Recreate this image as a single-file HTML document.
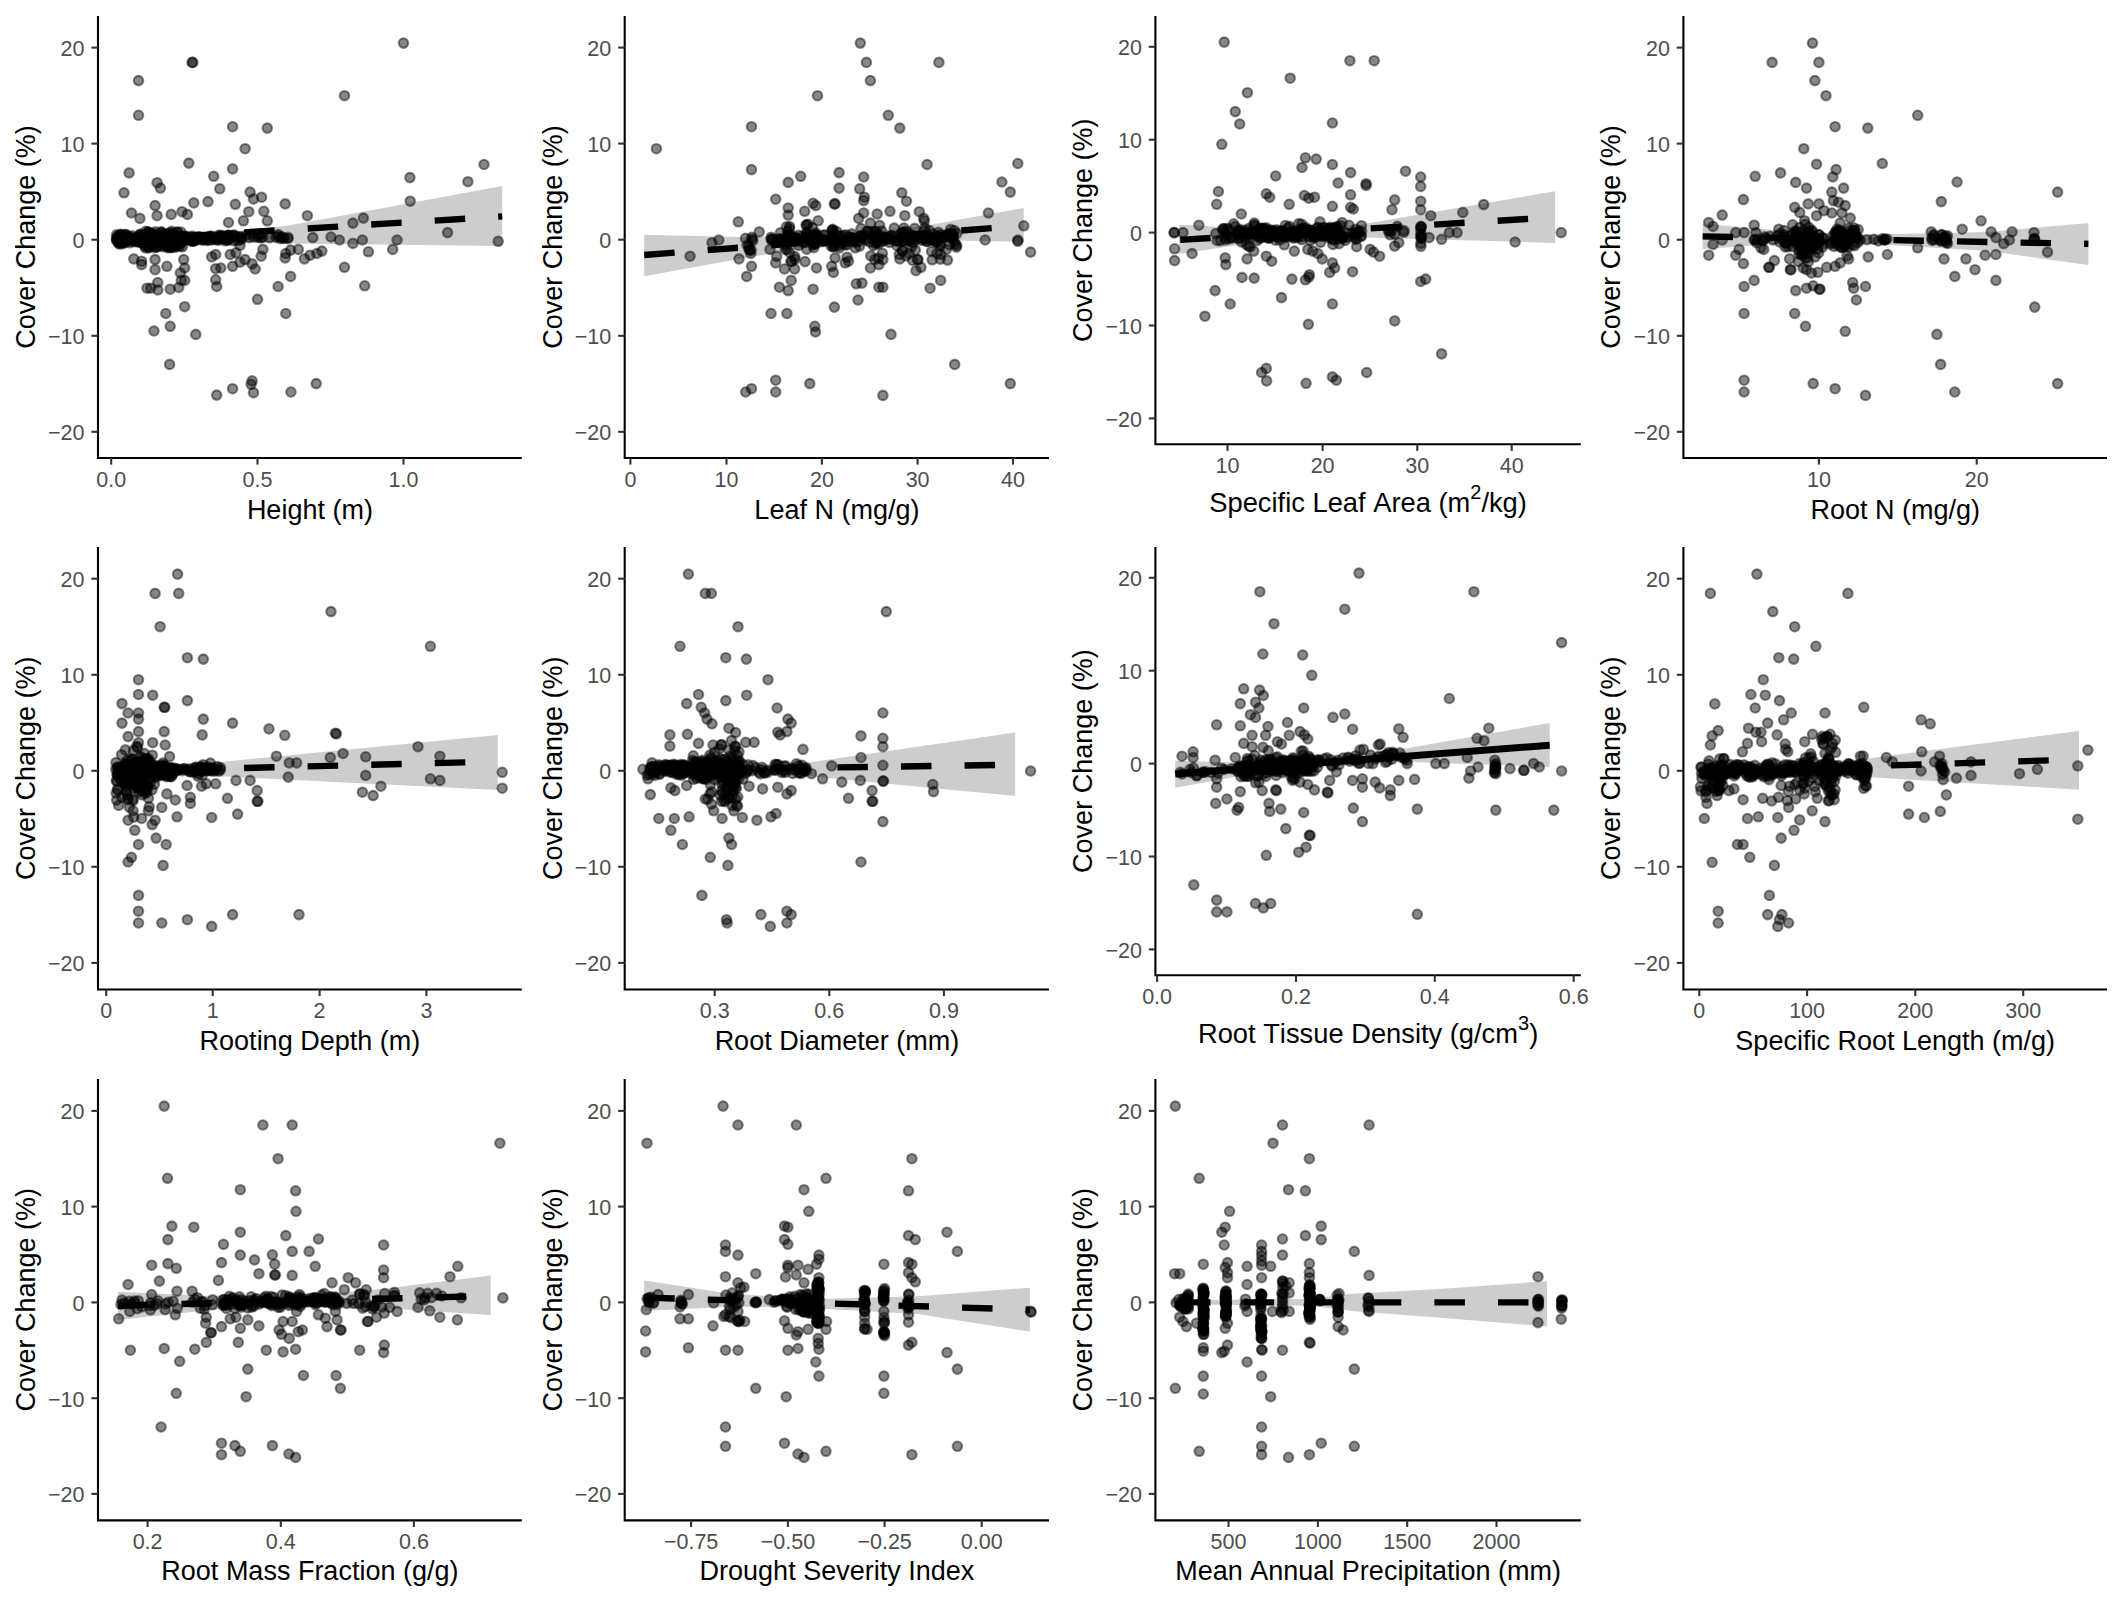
<!DOCTYPE html>
<html lang="en"><head><meta charset="utf-8"><title>Cover change vs traits</title>
<style>html,body{margin:0;padding:0;background:#fff}body{width:2124px;height:1602px;overflow:hidden}svg{display:block}text{font-family:"Liberation Sans", sans-serif;font-kerning:none}.tk{font-size:21.5px;fill:#4d4d4d}.tt{font-size:27px;fill:#000}.sup{font-size:20px}.ax{stroke:#000;stroke-width:2.1;fill:none}.tkm{stroke:#333;stroke-width:2.1}.rb{fill:#cdcdcd}.ln{stroke:#000;stroke-width:6.4;fill:none}.p circle{fill:#000;fill-opacity:.47;stroke:#000;stroke-opacity:.45;stroke-width:2.1}</style></head><body>
<svg width="2124" height="1602" viewBox="0 0 2124 1602">
<rect width="2124" height="1602" fill="#fff"/>
<g id="panel1">
<polygon class="rb" points="116.3,238 202.2,235.6 289.9,225.2 502.2,186.1 502.2,246.1 289.9,243.4 202.2,241.3 116.3,242.7"/>
<g class="p"><circle cx="403.5" cy="43.1" r="4.75"/><circle cx="192.8" cy="62.4" r="4.75"/><circle cx="192.1" cy="62.4" r="4.75"/><circle cx="138.5" cy="80.6" r="4.75"/><circle cx="138.5" cy="115.3" r="4.75"/><circle cx="344.5" cy="95.7" r="4.75"/><circle cx="232.6" cy="126.7" r="4.75"/><circle cx="267.3" cy="128.1" r="4.75"/><circle cx="245.1" cy="148.7" r="4.75"/><circle cx="188.8" cy="163.1" r="4.75"/><circle cx="232.6" cy="168.9" r="4.75"/><circle cx="129.1" cy="172.9" r="4.75"/><circle cx="213.7" cy="176.3" r="4.75"/><circle cx="157.1" cy="182.7" r="4.75"/><circle cx="160.4" cy="188.1" r="4.75"/><circle cx="219.8" cy="188.8" r="4.75"/><circle cx="124" cy="192.8" r="4.75"/><circle cx="250.1" cy="192.1" r="4.75"/><circle cx="253.5" cy="198.9" r="4.75"/><circle cx="261.6" cy="197.2" r="4.75"/><circle cx="193.8" cy="202.9" r="4.75"/><circle cx="208" cy="201.6" r="4.75"/><circle cx="235.3" cy="204.3" r="4.75"/><circle cx="285.2" cy="203.9" r="4.75"/><circle cx="248.8" cy="211.7" r="4.75"/><circle cx="263.9" cy="211.3" r="4.75"/><circle cx="131.5" cy="213" r="4.75"/><circle cx="139.9" cy="218.4" r="4.75"/><circle cx="171.2" cy="214.4" r="4.75"/><circle cx="182" cy="211.7" r="4.75"/><circle cx="187.4" cy="214.4" r="4.75"/><circle cx="155.1" cy="205.6" r="4.75"/><circle cx="157.1" cy="215.7" r="4.75"/><circle cx="307.4" cy="215.7" r="4.75"/><circle cx="267.3" cy="220.8" r="4.75"/><circle cx="228.5" cy="222.5" r="4.75"/><circle cx="243.4" cy="220.8" r="4.75"/><circle cx="363.4" cy="218.1" r="4.75"/><circle cx="352.9" cy="223.1" r="4.75"/><circle cx="484" cy="164.5" r="4.75"/><circle cx="467.9" cy="181.7" r="4.75"/><circle cx="409.9" cy="177.6" r="4.75"/><circle cx="410.2" cy="201.2" r="4.75"/><circle cx="447.6" cy="232.6" r="4.75"/><circle cx="498.2" cy="241.3" r="4.75"/><circle cx="397.1" cy="240" r="4.75"/><circle cx="392.7" cy="249.4" r="4.75"/><circle cx="362.4" cy="240" r="4.75"/><circle cx="352.9" cy="243.4" r="4.75"/><circle cx="368.4" cy="251.8" r="4.75"/><circle cx="339.4" cy="240" r="4.75"/><circle cx="331" cy="237" r="4.75"/><circle cx="312.8" cy="237.6" r="4.75"/><circle cx="344.5" cy="267.3" r="4.75"/><circle cx="364.7" cy="285.8" r="4.75"/><circle cx="321.9" cy="251.1" r="4.75"/><circle cx="316.9" cy="253.5" r="4.75"/><circle cx="310.1" cy="255.2" r="4.75"/><circle cx="304.4" cy="258.9" r="4.75"/><circle cx="298.3" cy="249.4" r="4.75"/><circle cx="290.6" cy="250.1" r="4.75"/><circle cx="285.8" cy="253.5" r="4.75"/><circle cx="285.2" cy="257.9" r="4.75"/><circle cx="290.6" cy="276.4" r="4.75"/><circle cx="278.1" cy="286.5" r="4.75"/><circle cx="285.8" cy="313.5" r="4.75"/><circle cx="257.5" cy="299.3" r="4.75"/><circle cx="255.2" cy="269" r="4.75"/><circle cx="252.1" cy="263.9" r="4.75"/><circle cx="245.1" cy="259.6" r="4.75"/><circle cx="240" cy="262.2" r="4.75"/><circle cx="232.6" cy="266.3" r="4.75"/><circle cx="220.8" cy="268" r="4.75"/><circle cx="215.7" cy="268.7" r="4.75"/><circle cx="215.7" cy="279.8" r="4.75"/><circle cx="216.7" cy="286.5" r="4.75"/><circle cx="211.7" cy="256.9" r="4.75"/><circle cx="215.7" cy="254.5" r="4.75"/><circle cx="230.2" cy="254.5" r="4.75"/><circle cx="236" cy="252.8" r="4.75"/><circle cx="240" cy="245.4" r="4.75"/><circle cx="261.2" cy="256.2" r="4.75"/><circle cx="262.9" cy="249.4" r="4.75"/><circle cx="183.7" cy="259.6" r="4.75"/><circle cx="184.7" cy="268" r="4.75"/><circle cx="180.3" cy="273" r="4.75"/><circle cx="181.3" cy="280.4" r="4.75"/><circle cx="184.7" cy="280.4" r="4.75"/><circle cx="178.7" cy="287.5" r="4.75"/><circle cx="170.2" cy="289.2" r="4.75"/><circle cx="166.9" cy="266.3" r="4.75"/><circle cx="157.8" cy="282.5" r="4.75"/><circle cx="157.8" cy="289.9" r="4.75"/><circle cx="150.7" cy="288.2" r="4.75"/><circle cx="147" cy="288.2" r="4.75"/><circle cx="155.1" cy="269.7" r="4.75"/><circle cx="155.1" cy="259.6" r="4.75"/><circle cx="141.6" cy="261.2" r="4.75"/><circle cx="141.6" cy="264.6" r="4.75"/><circle cx="133.8" cy="258.9" r="4.75"/><circle cx="184.7" cy="306.7" r="4.75"/><circle cx="165.8" cy="313.5" r="4.75"/><circle cx="170.2" cy="326.3" r="4.75"/><circle cx="154" cy="331" r="4.75"/><circle cx="195.8" cy="334.4" r="4.75"/><circle cx="169.6" cy="364.4" r="4.75"/><circle cx="216.7" cy="395.1" r="4.75"/><circle cx="232.6" cy="388.7" r="4.75"/><circle cx="252.1" cy="380.9" r="4.75"/><circle cx="251.1" cy="384.3" r="4.75"/><circle cx="253.5" cy="392.7" r="4.75"/><circle cx="290.9" cy="392" r="4.75"/><circle cx="316.2" cy="383.6" r="4.75"/><circle cx="132.2" cy="235.9" r="4.75"/><circle cx="142.6" cy="243.3" r="4.75"/><circle cx="129" cy="240.6" r="4.75"/><circle cx="122.1" cy="236.2" r="4.75"/><circle cx="124.2" cy="240.9" r="4.75"/><circle cx="122.1" cy="243.8" r="4.75"/><circle cx="118.2" cy="235.9" r="4.75"/><circle cx="118.7" cy="241.7" r="4.75"/><circle cx="126.3" cy="238.7" r="4.75"/><circle cx="125.2" cy="240.4" r="4.75"/><circle cx="127.3" cy="236" r="4.75"/><circle cx="128" cy="237" r="4.75"/><circle cx="119.3" cy="242.3" r="4.75"/><circle cx="134.9" cy="240.7" r="4.75"/><circle cx="140.4" cy="237.9" r="4.75"/><circle cx="126.6" cy="238.2" r="4.75"/><circle cx="127.3" cy="240.7" r="4.75"/><circle cx="116.5" cy="238.6" r="4.75"/><circle cx="130.9" cy="237.4" r="4.75"/><circle cx="116.9" cy="241.1" r="4.75"/><circle cx="116.5" cy="239.6" r="4.75"/><circle cx="120.5" cy="234.3" r="4.75"/><circle cx="121.2" cy="234.6" r="4.75"/><circle cx="120.4" cy="240.9" r="4.75"/><circle cx="136.2" cy="237.6" r="4.75"/><circle cx="134.1" cy="238.7" r="4.75"/><circle cx="129.9" cy="242.8" r="4.75"/><circle cx="124.8" cy="242.7" r="4.75"/><circle cx="135.2" cy="240.8" r="4.75"/><circle cx="116.5" cy="234.8" r="4.75"/><circle cx="117.2" cy="237.4" r="4.75"/><circle cx="142.1" cy="242.8" r="4.75"/><circle cx="139.2" cy="235.1" r="4.75"/><circle cx="135.6" cy="241.8" r="4.75"/><circle cx="138.4" cy="241.9" r="4.75"/><circle cx="120.1" cy="235.7" r="4.75"/><circle cx="137.9" cy="241.4" r="4.75"/><circle cx="140.7" cy="238.4" r="4.75"/><circle cx="140.6" cy="235.3" r="4.75"/><circle cx="142.4" cy="242.9" r="4.75"/><circle cx="125.5" cy="234.6" r="4.75"/><circle cx="131.3" cy="240.9" r="4.75"/><circle cx="125.9" cy="234.5" r="4.75"/><circle cx="123.9" cy="242.3" r="4.75"/><circle cx="118.8" cy="243.4" r="4.75"/><circle cx="123.1" cy="236" r="4.75"/><circle cx="119.4" cy="243.9" r="4.75"/><circle cx="140.9" cy="237.2" r="4.75"/><circle cx="118.9" cy="240.5" r="4.75"/><circle cx="140.5" cy="234.1" r="4.75"/><circle cx="168.6" cy="245.7" r="4.75"/><circle cx="161.7" cy="240.8" r="4.75"/><circle cx="175.3" cy="235.3" r="4.75"/><circle cx="154.4" cy="242.4" r="4.75"/><circle cx="165.4" cy="240.3" r="4.75"/><circle cx="156.8" cy="247" r="4.75"/><circle cx="155" cy="242.7" r="4.75"/><circle cx="178.9" cy="238" r="4.75"/><circle cx="145.7" cy="235" r="4.75"/><circle cx="146.2" cy="233.7" r="4.75"/><circle cx="148.3" cy="237" r="4.75"/><circle cx="158.2" cy="238.8" r="4.75"/><circle cx="169.8" cy="242.6" r="4.75"/><circle cx="170.7" cy="237.4" r="4.75"/><circle cx="169.7" cy="240.5" r="4.75"/><circle cx="148.6" cy="240.4" r="4.75"/><circle cx="156.2" cy="242.6" r="4.75"/><circle cx="172.6" cy="235.3" r="4.75"/><circle cx="160.8" cy="238.9" r="4.75"/><circle cx="155.3" cy="231.9" r="4.75"/><circle cx="145.6" cy="248" r="4.75"/><circle cx="172.8" cy="238.6" r="4.75"/><circle cx="169.9" cy="235.8" r="4.75"/><circle cx="171.6" cy="247.3" r="4.75"/><circle cx="174.1" cy="239.1" r="4.75"/><circle cx="182.4" cy="246.8" r="4.75"/><circle cx="145.9" cy="238.2" r="4.75"/><circle cx="161.4" cy="235.9" r="4.75"/><circle cx="167.9" cy="233.7" r="4.75"/><circle cx="173.1" cy="245.7" r="4.75"/><circle cx="146" cy="242.9" r="4.75"/><circle cx="154.1" cy="242" r="4.75"/><circle cx="170.9" cy="247.7" r="4.75"/><circle cx="175.1" cy="236.9" r="4.75"/><circle cx="172.4" cy="233.7" r="4.75"/><circle cx="171.7" cy="238.3" r="4.75"/><circle cx="154.1" cy="235.3" r="4.75"/><circle cx="152.1" cy="244.7" r="4.75"/><circle cx="147.4" cy="235.2" r="4.75"/><circle cx="151.2" cy="233.9" r="4.75"/><circle cx="172.4" cy="241.1" r="4.75"/><circle cx="169.8" cy="246.4" r="4.75"/><circle cx="161.3" cy="231.9" r="4.75"/><circle cx="151.1" cy="239.9" r="4.75"/><circle cx="171.8" cy="246.7" r="4.75"/><circle cx="163.8" cy="235.1" r="4.75"/><circle cx="167" cy="247" r="4.75"/><circle cx="156.7" cy="246.9" r="4.75"/><circle cx="179.2" cy="241" r="4.75"/><circle cx="162.6" cy="233.4" r="4.75"/><circle cx="148" cy="231.9" r="4.75"/><circle cx="167.7" cy="243.2" r="4.75"/><circle cx="182.8" cy="241.4" r="4.75"/><circle cx="182.8" cy="238" r="4.75"/><circle cx="148.9" cy="232.2" r="4.75"/><circle cx="155" cy="240.2" r="4.75"/><circle cx="182.5" cy="236.2" r="4.75"/><circle cx="152.9" cy="243.4" r="4.75"/><circle cx="158.9" cy="240.6" r="4.75"/><circle cx="149.6" cy="245.6" r="4.75"/><circle cx="179.9" cy="244" r="4.75"/><circle cx="180.5" cy="236.8" r="4.75"/><circle cx="144.9" cy="236.4" r="4.75"/><circle cx="179" cy="239.1" r="4.75"/><circle cx="151.5" cy="233.8" r="4.75"/><circle cx="150.1" cy="238.6" r="4.75"/><circle cx="180.1" cy="246.1" r="4.75"/><circle cx="173.5" cy="244" r="4.75"/><circle cx="151.1" cy="244.3" r="4.75"/><circle cx="152.4" cy="240.1" r="4.75"/><circle cx="144.9" cy="246.3" r="4.75"/><circle cx="148.7" cy="241.2" r="4.75"/><circle cx="169.7" cy="242.1" r="4.75"/><circle cx="170.5" cy="237.5" r="4.75"/><circle cx="174.8" cy="247.1" r="4.75"/><circle cx="167.9" cy="247.7" r="4.75"/><circle cx="177.1" cy="232.2" r="4.75"/><circle cx="170.1" cy="232.8" r="4.75"/><circle cx="169.7" cy="237.5" r="4.75"/><circle cx="177.3" cy="232" r="4.75"/><circle cx="180.9" cy="232" r="4.75"/><circle cx="145.8" cy="231.3" r="4.75"/><circle cx="148.5" cy="247.9" r="4.75"/><circle cx="176.5" cy="246.7" r="4.75"/><circle cx="150.9" cy="242.8" r="4.75"/><circle cx="175" cy="243.5" r="4.75"/><circle cx="154.2" cy="247.6" r="4.75"/><circle cx="172.3" cy="242.8" r="4.75"/><circle cx="154.8" cy="237.9" r="4.75"/><circle cx="173.5" cy="239.9" r="4.75"/><circle cx="162.8" cy="246.7" r="4.75"/><circle cx="160.2" cy="245.7" r="4.75"/><circle cx="145.4" cy="240.2" r="4.75"/><circle cx="171.7" cy="231.4" r="4.75"/><circle cx="171.1" cy="236.1" r="4.75"/><circle cx="168.3" cy="241.7" r="4.75"/><circle cx="149" cy="247.1" r="4.75"/><circle cx="153.2" cy="233.5" r="4.75"/><circle cx="161.1" cy="232.3" r="4.75"/><circle cx="147.6" cy="244.1" r="4.75"/><circle cx="147.4" cy="239.9" r="4.75"/><circle cx="178.5" cy="239.4" r="4.75"/><circle cx="175.7" cy="241.9" r="4.75"/><circle cx="150.1" cy="236.8" r="4.75"/><circle cx="174.5" cy="242.1" r="4.75"/><circle cx="177.2" cy="241.1" r="4.75"/><circle cx="163.7" cy="242.7" r="4.75"/><circle cx="172.8" cy="241.4" r="4.75"/><circle cx="179.5" cy="236.7" r="4.75"/><circle cx="172.8" cy="240.2" r="4.75"/><circle cx="144.1" cy="238" r="4.75"/><circle cx="171.8" cy="239.9" r="4.75"/><circle cx="165.8" cy="238.2" r="4.75"/><circle cx="166" cy="242.2" r="4.75"/><circle cx="182.2" cy="240" r="4.75"/><circle cx="172.4" cy="236.9" r="4.75"/><circle cx="149.1" cy="240.1" r="4.75"/><circle cx="176.2" cy="237.1" r="4.75"/><circle cx="149.4" cy="239.7" r="4.75"/><circle cx="155.6" cy="237.2" r="4.75"/><circle cx="149.8" cy="239.2" r="4.75"/><circle cx="174.9" cy="237.4" r="4.75"/><circle cx="175.4" cy="236.8" r="4.75"/><circle cx="153.5" cy="240.8" r="4.75"/><circle cx="143.9" cy="238.5" r="4.75"/><circle cx="149.7" cy="237.8" r="4.75"/><circle cx="178.6" cy="237.4" r="4.75"/><circle cx="172" cy="242.4" r="4.75"/><circle cx="153.3" cy="242.1" r="4.75"/><circle cx="156.2" cy="241.5" r="4.75"/><circle cx="166.5" cy="238.7" r="4.75"/><circle cx="178.5" cy="241" r="4.75"/><circle cx="156.2" cy="240.2" r="4.75"/><circle cx="155.2" cy="238.2" r="4.75"/><circle cx="180.6" cy="242.9" r="4.75"/><circle cx="149.8" cy="242.5" r="4.75"/><circle cx="171.7" cy="236.4" r="4.75"/><circle cx="147.9" cy="239.2" r="4.75"/><circle cx="178.6" cy="242.2" r="4.75"/><circle cx="153.5" cy="239.3" r="4.75"/><circle cx="230.8" cy="236.2" r="4.75"/><circle cx="188.4" cy="237.8" r="4.75"/><circle cx="218.1" cy="240.3" r="4.75"/><circle cx="228.3" cy="235.1" r="4.75"/><circle cx="192.1" cy="236" r="4.75"/><circle cx="213.8" cy="237.5" r="4.75"/><circle cx="230.6" cy="238.7" r="4.75"/><circle cx="214.7" cy="239.2" r="4.75"/><circle cx="193.6" cy="240.6" r="4.75"/><circle cx="227.4" cy="240" r="4.75"/><circle cx="223.4" cy="236.1" r="4.75"/><circle cx="185.8" cy="237.5" r="4.75"/><circle cx="220" cy="236.3" r="4.75"/><circle cx="227.8" cy="240.2" r="4.75"/><circle cx="219" cy="238" r="4.75"/><circle cx="190.8" cy="240.1" r="4.75"/><circle cx="191.9" cy="238.2" r="4.75"/><circle cx="222.1" cy="238.9" r="4.75"/><circle cx="195.2" cy="240.5" r="4.75"/><circle cx="199.6" cy="237.7" r="4.75"/><circle cx="205.6" cy="239.4" r="4.75"/><circle cx="185" cy="239.1" r="4.75"/><circle cx="208.2" cy="240" r="4.75"/><circle cx="201.9" cy="238.6" r="4.75"/><circle cx="232.9" cy="235.3" r="4.75"/><circle cx="223.9" cy="237.9" r="4.75"/><circle cx="198.5" cy="236.8" r="4.75"/><circle cx="194.3" cy="240.3" r="4.75"/><circle cx="193.5" cy="241.1" r="4.75"/><circle cx="209.7" cy="236.8" r="4.75"/><circle cx="223.4" cy="238.5" r="4.75"/><circle cx="228.6" cy="235.9" r="4.75"/><circle cx="218.7" cy="235.2" r="4.75"/><circle cx="192.5" cy="237.7" r="4.75"/><circle cx="199.2" cy="236.9" r="4.75"/><circle cx="212.4" cy="239.6" r="4.75"/><circle cx="204.5" cy="238.2" r="4.75"/><circle cx="223.4" cy="236.4" r="4.75"/><circle cx="234.5" cy="235.1" r="4.75"/><circle cx="202.2" cy="240.2" r="4.75"/><circle cx="195.2" cy="237.2" r="4.75"/><circle cx="191.8" cy="241.1" r="4.75"/><circle cx="228.2" cy="235.5" r="4.75"/><circle cx="210.8" cy="236" r="4.75"/><circle cx="184" cy="236.6" r="4.75"/><circle cx="219.3" cy="238.3" r="4.75"/><circle cx="197.9" cy="238.7" r="4.75"/><circle cx="187.3" cy="237.3" r="4.75"/><circle cx="188.1" cy="240.2" r="4.75"/><circle cx="202.8" cy="239.5" r="4.75"/><circle cx="200.3" cy="237.7" r="4.75"/><circle cx="212.7" cy="236.7" r="4.75"/><circle cx="211.3" cy="239.8" r="4.75"/><circle cx="186.9" cy="236.5" r="4.75"/><circle cx="184.1" cy="238.2" r="4.75"/><circle cx="188.7" cy="238.4" r="4.75"/><circle cx="191.3" cy="238.4" r="4.75"/><circle cx="197.6" cy="239.7" r="4.75"/><circle cx="225.1" cy="240.8" r="4.75"/><circle cx="206.9" cy="240.5" r="4.75"/><circle cx="227.5" cy="237" r="4.75"/><circle cx="233.6" cy="240.8" r="4.75"/><circle cx="191.1" cy="239.8" r="4.75"/><circle cx="218.5" cy="238.8" r="4.75"/><circle cx="219.7" cy="236.7" r="4.75"/><circle cx="226.1" cy="239.4" r="4.75"/><circle cx="192.5" cy="241.1" r="4.75"/><circle cx="220.9" cy="235.4" r="4.75"/><circle cx="184.7" cy="236.3" r="4.75"/><circle cx="217.2" cy="239.4" r="4.75"/><circle cx="287.7" cy="238.7" r="4.75"/><circle cx="246.3" cy="235.2" r="4.75"/><circle cx="239.4" cy="236.8" r="4.75"/><circle cx="258.7" cy="236.1" r="4.75"/><circle cx="281.4" cy="237" r="4.75"/><circle cx="280.4" cy="238.7" r="4.75"/><circle cx="278.2" cy="236.4" r="4.75"/><circle cx="257.9" cy="237.2" r="4.75"/><circle cx="260.8" cy="238" r="4.75"/><circle cx="283.2" cy="237.4" r="4.75"/><circle cx="249.1" cy="237.6" r="4.75"/><circle cx="260.6" cy="234.3" r="4.75"/><circle cx="240.6" cy="237.1" r="4.75"/><circle cx="288.2" cy="237.4" r="4.75"/><circle cx="237.8" cy="240.4" r="4.75"/><circle cx="275.9" cy="237.1" r="4.75"/><circle cx="235" cy="236.4" r="4.75"/><circle cx="253.6" cy="237" r="4.75"/><circle cx="241.6" cy="238.3" r="4.75"/><circle cx="269.5" cy="237.6" r="4.75"/><circle cx="262.8" cy="237.2" r="4.75"/><circle cx="241.1" cy="239.7" r="4.75"/><circle cx="284.1" cy="238.5" r="4.75"/><circle cx="278.3" cy="234.6" r="4.75"/><circle cx="251.4" cy="234.1" r="4.75"/></g>
<line class="ln" x1="117.3" y1="240.3" x2="502.2" y2="216.4" stroke-dasharray="30.5 33.1"/>
<path class="ax" d="M98 16 V458 H521.8"/>
<line class="tkm" x1="91.4" y1="47.6" x2="98" y2="47.6"/>
<text class="tk" text-anchor="end" x="84.5" y="55.9">20</text>
<line class="tkm" x1="91.4" y1="143.6" x2="98" y2="143.6"/>
<text class="tk" text-anchor="end" x="84.5" y="151.9">10</text>
<line class="tkm" x1="91.4" y1="239.7" x2="98" y2="239.7"/>
<text class="tk" text-anchor="end" x="84.5" y="248">0</text>
<line class="tkm" x1="91.4" y1="335.8" x2="98" y2="335.8"/>
<text class="tk" text-anchor="end" x="84.5" y="344.1">−10</text>
<line class="tkm" x1="91.4" y1="431.8" x2="98" y2="431.8"/>
<text class="tk" text-anchor="end" x="84.5" y="440.1">−20</text>
<line class="tkm" x1="111.2" y1="458" x2="111.2" y2="464.6"/>
<text class="tk" text-anchor="middle" x="111.2" y="486.5">0.0</text>
<line class="tkm" x1="257.5" y1="458" x2="257.5" y2="464.6"/>
<text class="tk" text-anchor="middle" x="257.5" y="486.5">0.5</text>
<line class="tkm" x1="403.5" y1="458" x2="403.5" y2="464.6"/>
<text class="tk" text-anchor="middle" x="403.5" y="486.5">1.0</text>
<text class="tt" text-anchor="middle" x="309.9" y="518.5">Height (m)</text>
<text class="tt" text-anchor="middle" transform="translate(35 237) rotate(-90)">Cover Change (%)</text>
</g>
<g id="panel2">
<polygon class="rb" points="644.2,234.8 739,237 833.4,236 927.8,225.2 1023.7,208.1 1023.7,241.9 927.8,240 833.4,243.4 739,258.9 644.2,276.3"/>
<g class="p"><circle cx="860.3" cy="43.1" r="4.75"/><circle cx="866.4" cy="62.4" r="4.75"/><circle cx="938.9" cy="62.4" r="4.75"/><circle cx="870.4" cy="80.6" r="4.75"/><circle cx="817.5" cy="95.7" r="4.75"/><circle cx="888.3" cy="115.3" r="4.75"/><circle cx="899.8" cy="128.1" r="4.75"/><circle cx="751.5" cy="126.7" r="4.75"/><circle cx="656.4" cy="148.7" r="4.75"/><circle cx="751.5" cy="169.6" r="4.75"/><circle cx="927.1" cy="164.5" r="4.75"/><circle cx="1017.8" cy="163.5" r="4.75"/><circle cx="800.7" cy="176.3" r="4.75"/><circle cx="788.2" cy="182.4" r="4.75"/><circle cx="839.1" cy="172.6" r="4.75"/><circle cx="863.7" cy="177" r="4.75"/><circle cx="839.1" cy="188.1" r="4.75"/><circle cx="859.7" cy="188.8" r="4.75"/><circle cx="864.4" cy="197.2" r="4.75"/><circle cx="901.8" cy="192.8" r="4.75"/><circle cx="906.5" cy="201.2" r="4.75"/><circle cx="1001.9" cy="182" r="4.75"/><circle cx="1010.3" cy="192.1" r="4.75"/><circle cx="988.4" cy="213" r="4.75"/><circle cx="775.7" cy="199.2" r="4.75"/><circle cx="788.2" cy="208" r="4.75"/><circle cx="788.2" cy="215.1" r="4.75"/><circle cx="804.7" cy="211.3" r="4.75"/><circle cx="813.1" cy="203.3" r="4.75"/><circle cx="815.8" cy="205.6" r="4.75"/><circle cx="834.4" cy="203.9" r="4.75"/><circle cx="835.1" cy="203.9" r="4.75"/><circle cx="863.7" cy="200.6" r="4.75"/><circle cx="863.7" cy="213" r="4.75"/><circle cx="858.7" cy="218.4" r="4.75"/><circle cx="877.2" cy="214" r="4.75"/><circle cx="890" cy="211.3" r="4.75"/><circle cx="904.8" cy="215.7" r="4.75"/><circle cx="919.3" cy="211.7" r="4.75"/><circle cx="923.7" cy="218.4" r="4.75"/><circle cx="924.4" cy="220.8" r="4.75"/><circle cx="870.4" cy="223.1" r="4.75"/><circle cx="738.3" cy="221.8" r="4.75"/><circle cx="759.2" cy="231.9" r="4.75"/><circle cx="718.8" cy="240" r="4.75"/><circle cx="712" cy="242.7" r="4.75"/><circle cx="690.1" cy="256.2" r="4.75"/><circle cx="739" cy="258.9" r="4.75"/><circle cx="751.5" cy="266.3" r="4.75"/><circle cx="746.7" cy="276.4" r="4.75"/><circle cx="750.8" cy="253.5" r="4.75"/><circle cx="749.1" cy="249.4" r="4.75"/><circle cx="770" cy="249.4" r="4.75"/><circle cx="775.7" cy="262.9" r="4.75"/><circle cx="784.5" cy="269" r="4.75"/><circle cx="794.6" cy="269" r="4.75"/><circle cx="791.2" cy="280.4" r="4.75"/><circle cx="779.4" cy="287.2" r="4.75"/><circle cx="788.2" cy="290.6" r="4.75"/><circle cx="813.1" cy="289.2" r="4.75"/><circle cx="816.5" cy="268" r="4.75"/><circle cx="833.4" cy="272.4" r="4.75"/><circle cx="831.7" cy="266.3" r="4.75"/><circle cx="835.1" cy="257.9" r="4.75"/><circle cx="845.2" cy="262.9" r="4.75"/><circle cx="848.5" cy="261.2" r="4.75"/><circle cx="856.3" cy="283.8" r="4.75"/><circle cx="862" cy="283.1" r="4.75"/><circle cx="870.4" cy="268" r="4.75"/><circle cx="878.9" cy="264.6" r="4.75"/><circle cx="882.9" cy="259.6" r="4.75"/><circle cx="878.9" cy="287.2" r="4.75"/><circle cx="882.9" cy="287.2" r="4.75"/><circle cx="916" cy="270.7" r="4.75"/><circle cx="921" cy="267.3" r="4.75"/><circle cx="917.6" cy="259.6" r="4.75"/><circle cx="899.8" cy="258.9" r="4.75"/><circle cx="909.2" cy="253.5" r="4.75"/><circle cx="930.1" cy="288.2" r="4.75"/><circle cx="940.6" cy="280.4" r="4.75"/><circle cx="940.6" cy="254.5" r="4.75"/><circle cx="946.3" cy="249.4" r="4.75"/><circle cx="956.4" cy="247.1" r="4.75"/><circle cx="985.1" cy="240" r="4.75"/><circle cx="1017.8" cy="241.3" r="4.75"/><circle cx="1017.8" cy="240" r="4.75"/><circle cx="1030.6" cy="252.1" r="4.75"/><circle cx="1023.8" cy="225.8" r="4.75"/><circle cx="771" cy="313.5" r="4.75"/><circle cx="786.9" cy="313.5" r="4.75"/><circle cx="834.4" cy="307.1" r="4.75"/><circle cx="858" cy="300" r="4.75"/><circle cx="814.8" cy="326.3" r="4.75"/><circle cx="815.5" cy="332" r="4.75"/><circle cx="891" cy="334.4" r="4.75"/><circle cx="954.7" cy="364.4" r="4.75"/><circle cx="1010.3" cy="383.6" r="4.75"/><circle cx="882.9" cy="395.4" r="4.75"/><circle cx="809.8" cy="383.6" r="4.75"/><circle cx="775.7" cy="380.2" r="4.75"/><circle cx="775.7" cy="392" r="4.75"/><circle cx="751.5" cy="388.7" r="4.75"/><circle cx="745.7" cy="392" r="4.75"/><circle cx="797.6" cy="239.7" r="4.75"/><circle cx="801.6" cy="240.4" r="4.75"/><circle cx="884.2" cy="237" r="4.75"/><circle cx="886" cy="238.5" r="4.75"/><circle cx="777.8" cy="239.2" r="4.75"/><circle cx="886.4" cy="238.1" r="4.75"/><circle cx="935.4" cy="239.4" r="4.75"/><circle cx="840.7" cy="236.1" r="4.75"/><circle cx="793.8" cy="241.3" r="4.75"/><circle cx="899.6" cy="238.7" r="4.75"/><circle cx="852.9" cy="238.3" r="4.75"/><circle cx="811.5" cy="238.9" r="4.75"/><circle cx="797.1" cy="239.7" r="4.75"/><circle cx="888.4" cy="239.3" r="4.75"/><circle cx="816.1" cy="235.3" r="4.75"/><circle cx="832.4" cy="239.9" r="4.75"/><circle cx="865.7" cy="240.1" r="4.75"/><circle cx="850.9" cy="237.4" r="4.75"/><circle cx="940.7" cy="234.8" r="4.75"/><circle cx="808.7" cy="239.4" r="4.75"/><circle cx="888.6" cy="237.4" r="4.75"/><circle cx="874.8" cy="237.6" r="4.75"/><circle cx="895.7" cy="241" r="4.75"/><circle cx="925.1" cy="238.7" r="4.75"/><circle cx="858.2" cy="241.8" r="4.75"/><circle cx="853.9" cy="239.3" r="4.75"/><circle cx="933.3" cy="239" r="4.75"/><circle cx="843.3" cy="240.3" r="4.75"/><circle cx="882.8" cy="241.3" r="4.75"/><circle cx="887.1" cy="238.2" r="4.75"/><circle cx="953.2" cy="237.6" r="4.75"/><circle cx="844.7" cy="241.9" r="4.75"/><circle cx="947.6" cy="234.7" r="4.75"/><circle cx="783.3" cy="241.8" r="4.75"/><circle cx="936" cy="236.6" r="4.75"/><circle cx="817.7" cy="240.1" r="4.75"/><circle cx="946.8" cy="235.1" r="4.75"/><circle cx="854" cy="239.6" r="4.75"/><circle cx="811.3" cy="237.9" r="4.75"/><circle cx="796.6" cy="238.6" r="4.75"/><circle cx="813" cy="235.2" r="4.75"/><circle cx="843" cy="235.5" r="4.75"/><circle cx="792.1" cy="236" r="4.75"/><circle cx="848.4" cy="236.8" r="4.75"/><circle cx="906.9" cy="237.1" r="4.75"/><circle cx="815.5" cy="236.1" r="4.75"/><circle cx="825.6" cy="240.5" r="4.75"/><circle cx="807.6" cy="238.4" r="4.75"/><circle cx="921.7" cy="240.3" r="4.75"/><circle cx="856.8" cy="241" r="4.75"/><circle cx="890.7" cy="235.7" r="4.75"/><circle cx="787.2" cy="236.2" r="4.75"/><circle cx="918.5" cy="236.8" r="4.75"/><circle cx="927.5" cy="241.4" r="4.75"/><circle cx="942.9" cy="237.2" r="4.75"/><circle cx="771.1" cy="237.2" r="4.75"/><circle cx="810.9" cy="239.8" r="4.75"/><circle cx="901.9" cy="241.2" r="4.75"/><circle cx="902.5" cy="241.5" r="4.75"/><circle cx="889.9" cy="237.7" r="4.75"/><circle cx="927.3" cy="235.8" r="4.75"/><circle cx="916.3" cy="239.5" r="4.75"/><circle cx="933" cy="234" r="4.75"/><circle cx="805.2" cy="242.3" r="4.75"/><circle cx="796.4" cy="238.4" r="4.75"/><circle cx="883" cy="237.8" r="4.75"/><circle cx="935.3" cy="241.2" r="4.75"/><circle cx="834" cy="235.5" r="4.75"/><circle cx="942" cy="237.1" r="4.75"/><circle cx="816.5" cy="235.6" r="4.75"/><circle cx="771.4" cy="239.6" r="4.75"/><circle cx="822.6" cy="239" r="4.75"/><circle cx="943.8" cy="237.3" r="4.75"/><circle cx="949.3" cy="233.9" r="4.75"/><circle cx="912.5" cy="239.8" r="4.75"/><circle cx="950.3" cy="233.6" r="4.75"/><circle cx="865.1" cy="238.6" r="4.75"/><circle cx="882.4" cy="237.7" r="4.75"/><circle cx="821.1" cy="241.8" r="4.75"/><circle cx="935.1" cy="239.1" r="4.75"/><circle cx="950.4" cy="237.8" r="4.75"/><circle cx="784.6" cy="240.4" r="4.75"/><circle cx="789.4" cy="240.8" r="4.75"/><circle cx="891.9" cy="235.5" r="4.75"/><circle cx="798.4" cy="235.2" r="4.75"/><circle cx="803" cy="242.6" r="4.75"/><circle cx="812.6" cy="241.7" r="4.75"/><circle cx="795" cy="237.5" r="4.75"/><circle cx="858.6" cy="237" r="4.75"/><circle cx="951.4" cy="235.3" r="4.75"/><circle cx="860.8" cy="235.8" r="4.75"/><circle cx="790.2" cy="240.3" r="4.75"/><circle cx="833.6" cy="238.3" r="4.75"/><circle cx="900.2" cy="234.5" r="4.75"/><circle cx="779.9" cy="240.4" r="4.75"/><circle cx="956.9" cy="233.4" r="4.75"/><circle cx="854.9" cy="242.2" r="4.75"/><circle cx="926.6" cy="241.5" r="4.75"/><circle cx="869.4" cy="241.9" r="4.75"/><circle cx="780.2" cy="238.7" r="4.75"/><circle cx="929.4" cy="236.7" r="4.75"/><circle cx="852.7" cy="237.8" r="4.75"/><circle cx="841.2" cy="240.9" r="4.75"/><circle cx="953" cy="235.2" r="4.75"/><circle cx="830.4" cy="240.9" r="4.75"/><circle cx="909.8" cy="240.3" r="4.75"/><circle cx="898.1" cy="241.2" r="4.75"/><circle cx="928.9" cy="238.6" r="4.75"/><circle cx="823.1" cy="235.2" r="4.75"/><circle cx="931.7" cy="240.4" r="4.75"/><circle cx="937.6" cy="235.6" r="4.75"/><circle cx="908.8" cy="241.2" r="4.75"/><circle cx="808.6" cy="234.8" r="4.75"/><circle cx="802.5" cy="236.4" r="4.75"/><circle cx="897.8" cy="240.4" r="4.75"/><circle cx="923.9" cy="239.1" r="4.75"/><circle cx="954" cy="241.2" r="4.75"/><circle cx="852.5" cy="241.7" r="4.75"/><circle cx="905.1" cy="235.7" r="4.75"/><circle cx="880" cy="235.3" r="4.75"/><circle cx="845" cy="244.6" r="4.75"/><circle cx="771.5" cy="239.7" r="4.75"/><circle cx="851.8" cy="233.9" r="4.75"/><circle cx="781.8" cy="239.4" r="4.75"/><circle cx="832.5" cy="230.3" r="4.75"/><circle cx="845.3" cy="241.9" r="4.75"/><circle cx="784.7" cy="244.6" r="4.75"/><circle cx="785.4" cy="238.3" r="4.75"/><circle cx="838.7" cy="245.6" r="4.75"/><circle cx="937.9" cy="242.3" r="4.75"/><circle cx="825.1" cy="234.9" r="4.75"/><circle cx="925.1" cy="237.8" r="4.75"/><circle cx="889.4" cy="242.4" r="4.75"/><circle cx="805.8" cy="236.3" r="4.75"/><circle cx="949.5" cy="234" r="4.75"/><circle cx="929.5" cy="230.6" r="4.75"/><circle cx="772.3" cy="239" r="4.75"/><circle cx="823" cy="240.4" r="4.75"/><circle cx="914.7" cy="228.4" r="4.75"/><circle cx="863.7" cy="235.6" r="4.75"/><circle cx="940.4" cy="244.4" r="4.75"/><circle cx="936.3" cy="242.4" r="4.75"/><circle cx="835" cy="240.8" r="4.75"/><circle cx="872.2" cy="235.4" r="4.75"/><circle cx="824.3" cy="241.5" r="4.75"/><circle cx="938.5" cy="232.3" r="4.75"/><circle cx="836.7" cy="231.5" r="4.75"/><circle cx="838.5" cy="236.1" r="4.75"/><circle cx="787.3" cy="241.8" r="4.75"/><circle cx="834.4" cy="244.6" r="4.75"/><circle cx="815.4" cy="243.3" r="4.75"/><circle cx="954.3" cy="230.6" r="4.75"/><circle cx="839.4" cy="247.9" r="4.75"/><circle cx="845.7" cy="234.8" r="4.75"/><circle cx="798.6" cy="245.4" r="4.75"/><circle cx="831.1" cy="246.1" r="4.75"/><circle cx="874.8" cy="231.6" r="4.75"/><circle cx="956.7" cy="245.4" r="4.75"/><circle cx="910.7" cy="239.8" r="4.75"/><circle cx="911.7" cy="246.8" r="4.75"/><circle cx="806.8" cy="233.4" r="4.75"/><circle cx="913.3" cy="236" r="4.75"/><circle cx="955.3" cy="244.1" r="4.75"/><circle cx="867.9" cy="231.2" r="4.75"/><circle cx="885" cy="240" r="4.75"/><circle cx="879" cy="243.7" r="4.75"/><circle cx="859.6" cy="246.1" r="4.75"/><circle cx="881.8" cy="231.1" r="4.75"/><circle cx="924.3" cy="230.9" r="4.75"/><circle cx="940.3" cy="246.1" r="4.75"/><circle cx="806.5" cy="232.6" r="4.75"/><circle cx="902" cy="236.9" r="4.75"/><circle cx="840.3" cy="243.4" r="4.75"/><circle cx="832.9" cy="231" r="4.75"/><circle cx="873.5" cy="245.7" r="4.75"/><circle cx="950.5" cy="229.4" r="4.75"/><circle cx="910.2" cy="234.2" r="4.75"/><circle cx="952.6" cy="235.1" r="4.75"/><circle cx="789" cy="235.4" r="4.75"/><circle cx="866.8" cy="231.6" r="4.75"/><circle cx="752.1" cy="239.2" r="4.75"/><circle cx="751.8" cy="237.3" r="4.75"/><circle cx="748.8" cy="245.9" r="4.75"/><circle cx="745.5" cy="238.4" r="4.75"/><circle cx="752.9" cy="240.6" r="4.75"/><circle cx="747.1" cy="245.1" r="4.75"/><circle cx="751.2" cy="250.1" r="4.75"/><circle cx="749.7" cy="249.9" r="4.75"/><circle cx="932.2" cy="259.8" r="4.75"/><circle cx="937" cy="253.5" r="4.75"/><circle cx="897" cy="245.7" r="4.75"/><circle cx="791.7" cy="261.3" r="4.75"/><circle cx="846.7" cy="244.9" r="4.75"/><circle cx="870.8" cy="255.9" r="4.75"/><circle cx="921" cy="238" r="4.75"/><circle cx="912.7" cy="260.4" r="4.75"/><circle cx="947.5" cy="260.1" r="4.75"/><circle cx="874.9" cy="259.4" r="4.75"/><circle cx="878.2" cy="258.3" r="4.75"/><circle cx="949.5" cy="244.7" r="4.75"/><circle cx="794.8" cy="256.6" r="4.75"/><circle cx="940.3" cy="259.1" r="4.75"/><circle cx="855.3" cy="247.8" r="4.75"/><circle cx="795" cy="259.3" r="4.75"/><circle cx="821.3" cy="239.4" r="4.75"/><circle cx="790.9" cy="261.5" r="4.75"/><circle cx="847" cy="257.2" r="4.75"/><circle cx="785.2" cy="249.5" r="4.75"/><circle cx="905.9" cy="255.9" r="4.75"/><circle cx="806.7" cy="249.2" r="4.75"/><circle cx="917.9" cy="259.6" r="4.75"/><circle cx="789.5" cy="252.3" r="4.75"/><circle cx="931.6" cy="251.5" r="4.75"/><circle cx="913" cy="243.1" r="4.75"/><circle cx="860.7" cy="236" r="4.75"/><circle cx="915.3" cy="250.2" r="4.75"/><circle cx="805" cy="261.6" r="4.75"/><circle cx="810.5" cy="237.1" r="4.75"/><circle cx="902.1" cy="237.3" r="4.75"/><circle cx="890.4" cy="239" r="4.75"/><circle cx="776.7" cy="256.4" r="4.75"/><circle cx="882.3" cy="253.2" r="4.75"/><circle cx="899.3" cy="254.5" r="4.75"/><circle cx="806.7" cy="225" r="4.75"/><circle cx="871.3" cy="231.9" r="4.75"/><circle cx="879.6" cy="225.4" r="4.75"/><circle cx="906.5" cy="231.2" r="4.75"/><circle cx="818.2" cy="220.8" r="4.75"/><circle cx="780.3" cy="232.8" r="4.75"/><circle cx="812.3" cy="227.6" r="4.75"/><circle cx="861" cy="228.5" r="4.75"/><circle cx="924.9" cy="227.9" r="4.75"/><circle cx="806.1" cy="225.1" r="4.75"/><circle cx="808.2" cy="224.3" r="4.75"/><circle cx="894.2" cy="228.1" r="4.75"/><circle cx="789.1" cy="240.7" r="4.75"/><circle cx="787.1" cy="249.4" r="4.75"/><circle cx="788.4" cy="242.4" r="4.75"/><circle cx="789.6" cy="226.5" r="4.75"/><circle cx="788.5" cy="235.3" r="4.75"/><circle cx="787.6" cy="231.3" r="4.75"/><circle cx="789.5" cy="228.6" r="4.75"/><circle cx="786.5" cy="226.8" r="4.75"/><circle cx="814.5" cy="243.8" r="4.75"/><circle cx="815.7" cy="232.9" r="4.75"/><circle cx="814" cy="243" r="4.75"/><circle cx="815.7" cy="243.3" r="4.75"/><circle cx="813.8" cy="247.7" r="4.75"/><circle cx="813.3" cy="245" r="4.75"/><circle cx="815.9" cy="234.6" r="4.75"/><circle cx="813.9" cy="244" r="4.75"/><circle cx="832.2" cy="237.9" r="4.75"/><circle cx="832.5" cy="242" r="4.75"/><circle cx="832.2" cy="235.6" r="4.75"/><circle cx="833.5" cy="246.4" r="4.75"/><circle cx="832.1" cy="230.3" r="4.75"/><circle cx="833.2" cy="246.9" r="4.75"/><circle cx="832.9" cy="239.4" r="4.75"/><circle cx="832.7" cy="229.3" r="4.75"/><circle cx="876.8" cy="242.2" r="4.75"/><circle cx="876.7" cy="234.8" r="4.75"/><circle cx="876" cy="239" r="4.75"/><circle cx="875.5" cy="243.8" r="4.75"/><circle cx="877.1" cy="242.8" r="4.75"/><circle cx="876.1" cy="231.3" r="4.75"/><circle cx="901.9" cy="232.7" r="4.75"/><circle cx="902.4" cy="250.9" r="4.75"/><circle cx="903.9" cy="228" r="4.75"/><circle cx="902.4" cy="250.5" r="4.75"/><circle cx="903.6" cy="231.7" r="4.75"/><circle cx="903.1" cy="234.1" r="4.75"/><circle cx="905.3" cy="240.3" r="4.75"/><circle cx="902.7" cy="235.4" r="4.75"/></g>
<line class="ln" x1="644.2" y1="255" x2="1023.7" y2="225.7" stroke-dasharray="30.5 33.1"/>
<path class="ax" d="M624.7 16 V458 H1049"/>
<line class="tkm" x1="618.1" y1="47.6" x2="624.7" y2="47.6"/>
<text class="tk" text-anchor="end" x="611.2" y="55.9">20</text>
<line class="tkm" x1="618.1" y1="143.6" x2="624.7" y2="143.6"/>
<text class="tk" text-anchor="end" x="611.2" y="151.9">10</text>
<line class="tkm" x1="618.1" y1="239.7" x2="624.7" y2="239.7"/>
<text class="tk" text-anchor="end" x="611.2" y="248">0</text>
<line class="tkm" x1="618.1" y1="335.8" x2="624.7" y2="335.8"/>
<text class="tk" text-anchor="end" x="611.2" y="344.1">−10</text>
<line class="tkm" x1="618.1" y1="431.8" x2="624.7" y2="431.8"/>
<text class="tk" text-anchor="end" x="611.2" y="440.1">−20</text>
<line class="tkm" x1="630.4" y1="458" x2="630.4" y2="464.6"/>
<text class="tk" text-anchor="middle" x="630.4" y="486.5">0</text>
<line class="tkm" x1="726.5" y1="458" x2="726.5" y2="464.6"/>
<text class="tk" text-anchor="middle" x="726.5" y="486.5">10</text>
<line class="tkm" x1="821.9" y1="458" x2="821.9" y2="464.6"/>
<text class="tk" text-anchor="middle" x="821.9" y="486.5">20</text>
<line class="tkm" x1="917.6" y1="458" x2="917.6" y2="464.6"/>
<text class="tk" text-anchor="middle" x="917.6" y="486.5">30</text>
<line class="tkm" x1="1013" y1="458" x2="1013" y2="464.6"/>
<text class="tk" text-anchor="middle" x="1013" y="486.5">40</text>
<text class="tt" text-anchor="middle" x="836.9" y="518.5">Leaf N (mg/g)</text>
<text class="tt" text-anchor="middle" transform="translate(561.7 237) rotate(-90)">Cover Change (%)</text>
</g>
<g id="panel3">
<polygon class="rb" points="1179.2,224.7 1262.2,229.2 1356.6,225.2 1555.1,191.3 1555.1,242.9 1356.6,237.3 1262.2,241.3 1179.2,254.1"/>
<g class="p"><circle cx="1224.2" cy="42.1" r="4.75"/><circle cx="1349.9" cy="60.7" r="4.75"/><circle cx="1374.2" cy="60.7" r="4.75"/><circle cx="1290.2" cy="78.2" r="4.75"/><circle cx="1247.4" cy="92.7" r="4.75"/><circle cx="1235.3" cy="111.6" r="4.75"/><circle cx="1239.7" cy="124" r="4.75"/><circle cx="1332.4" cy="123" r="4.75"/><circle cx="1221.8" cy="144.3" r="4.75"/><circle cx="1305.4" cy="157.8" r="4.75"/><circle cx="1316.2" cy="159.1" r="4.75"/><circle cx="1302" cy="167.5" r="4.75"/><circle cx="1332.4" cy="164.5" r="4.75"/><circle cx="1350.6" cy="172.6" r="4.75"/><circle cx="1405.5" cy="171.2" r="4.75"/><circle cx="1420.7" cy="177" r="4.75"/><circle cx="1420.7" cy="186.4" r="4.75"/><circle cx="1275.7" cy="176" r="4.75"/><circle cx="1338.1" cy="183" r="4.75"/><circle cx="1366.1" cy="183.7" r="4.75"/><circle cx="1366.1" cy="185.4" r="4.75"/><circle cx="1218.4" cy="191.5" r="4.75"/><circle cx="1216.7" cy="204.3" r="4.75"/><circle cx="1266.3" cy="193.8" r="4.75"/><circle cx="1269.7" cy="197.2" r="4.75"/><circle cx="1304.4" cy="195.5" r="4.75"/><circle cx="1308.8" cy="198.2" r="4.75"/><circle cx="1314.5" cy="197.2" r="4.75"/><circle cx="1350.6" cy="194.8" r="4.75"/><circle cx="1394.7" cy="199.9" r="4.75"/><circle cx="1420.7" cy="201.2" r="4.75"/><circle cx="1420.7" cy="209.7" r="4.75"/><circle cx="1392" cy="209.7" r="4.75"/><circle cx="1430.8" cy="215.7" r="4.75"/><circle cx="1462.8" cy="212.4" r="4.75"/><circle cx="1483.7" cy="204.6" r="4.75"/><circle cx="1289.2" cy="204.3" r="4.75"/><circle cx="1332.4" cy="206.3" r="4.75"/><circle cx="1350.6" cy="207.3" r="4.75"/><circle cx="1353.3" cy="209" r="4.75"/><circle cx="1241.3" cy="214" r="4.75"/><circle cx="1198.9" cy="225.2" r="4.75"/><circle cx="1183" cy="232.6" r="4.75"/><circle cx="1174.6" cy="232.6" r="4.75"/><circle cx="1173.9" cy="232.6" r="4.75"/><circle cx="1174.6" cy="248.8" r="4.75"/><circle cx="1174.6" cy="260.6" r="4.75"/><circle cx="1192.1" cy="253.5" r="4.75"/><circle cx="1561.2" cy="232.6" r="4.75"/><circle cx="1515.1" cy="242" r="4.75"/><circle cx="1457.1" cy="232.6" r="4.75"/><circle cx="1449.3" cy="232.6" r="4.75"/><circle cx="1441.6" cy="239.3" r="4.75"/><circle cx="1420.7" cy="229.2" r="4.75"/><circle cx="1420.7" cy="236" r="4.75"/><circle cx="1420.7" cy="243.4" r="4.75"/><circle cx="1429.1" cy="237.6" r="4.75"/><circle cx="1356.6" cy="246.7" r="4.75"/><circle cx="1370.1" cy="249.4" r="4.75"/><circle cx="1373.5" cy="252.1" r="4.75"/><circle cx="1379.6" cy="256.2" r="4.75"/><circle cx="1394.7" cy="246.1" r="4.75"/><circle cx="1398.8" cy="242.7" r="4.75"/><circle cx="1225.2" cy="257.9" r="4.75"/><circle cx="1225.8" cy="264.6" r="4.75"/><circle cx="1247.1" cy="258.9" r="4.75"/><circle cx="1253.8" cy="251.1" r="4.75"/><circle cx="1266.3" cy="256.2" r="4.75"/><circle cx="1271.7" cy="261.2" r="4.75"/><circle cx="1294.3" cy="251.1" r="4.75"/><circle cx="1307.8" cy="249.4" r="4.75"/><circle cx="1312.8" cy="251.1" r="4.75"/><circle cx="1317.9" cy="253.5" r="4.75"/><circle cx="1322.2" cy="258.9" r="4.75"/><circle cx="1332.4" cy="262.9" r="4.75"/><circle cx="1334.7" cy="268" r="4.75"/><circle cx="1329.7" cy="272.4" r="4.75"/><circle cx="1352.6" cy="271.7" r="4.75"/><circle cx="1242" cy="277.4" r="4.75"/><circle cx="1254.2" cy="278.1" r="4.75"/><circle cx="1291.9" cy="279.1" r="4.75"/><circle cx="1305.4" cy="279.8" r="4.75"/><circle cx="1308.8" cy="277.1" r="4.75"/><circle cx="1309.4" cy="274.7" r="4.75"/><circle cx="1420.7" cy="281.5" r="4.75"/><circle cx="1425.7" cy="279.1" r="4.75"/><circle cx="1215.1" cy="290.6" r="4.75"/><circle cx="1230.2" cy="304" r="4.75"/><circle cx="1281.5" cy="297.6" r="4.75"/><circle cx="1332.4" cy="304" r="4.75"/><circle cx="1204.9" cy="316.2" r="4.75"/><circle cx="1308.4" cy="324.3" r="4.75"/><circle cx="1394.7" cy="320.9" r="4.75"/><circle cx="1441.6" cy="353.9" r="4.75"/><circle cx="1366.7" cy="372.5" r="4.75"/><circle cx="1261.6" cy="372.5" r="4.75"/><circle cx="1266.3" cy="368.4" r="4.75"/><circle cx="1266.6" cy="380.9" r="4.75"/><circle cx="1306.1" cy="383.3" r="4.75"/><circle cx="1332.4" cy="376.9" r="4.75"/><circle cx="1336.4" cy="380.2" r="4.75"/><circle cx="1339.9" cy="232.1" r="4.75"/><circle cx="1312.6" cy="235.3" r="4.75"/><circle cx="1259.6" cy="228.6" r="4.75"/><circle cx="1300.4" cy="228.8" r="4.75"/><circle cx="1277.2" cy="237.2" r="4.75"/><circle cx="1328.7" cy="228.6" r="4.75"/><circle cx="1245.6" cy="230.2" r="4.75"/><circle cx="1324.1" cy="227.6" r="4.75"/><circle cx="1260.6" cy="228.9" r="4.75"/><circle cx="1250.4" cy="233.4" r="4.75"/><circle cx="1256.3" cy="232.2" r="4.75"/><circle cx="1314.1" cy="235.2" r="4.75"/><circle cx="1280.6" cy="236.1" r="4.75"/><circle cx="1297.2" cy="236.4" r="4.75"/><circle cx="1263.1" cy="231.7" r="4.75"/><circle cx="1298" cy="237.7" r="4.75"/><circle cx="1302" cy="232.6" r="4.75"/><circle cx="1263.4" cy="230.7" r="4.75"/><circle cx="1259.7" cy="238.4" r="4.75"/><circle cx="1330.2" cy="236.9" r="4.75"/><circle cx="1292.6" cy="235.1" r="4.75"/><circle cx="1268.1" cy="232.9" r="4.75"/><circle cx="1252.3" cy="232.3" r="4.75"/><circle cx="1263.5" cy="228.8" r="4.75"/><circle cx="1333.7" cy="228.3" r="4.75"/><circle cx="1322.5" cy="234.9" r="4.75"/><circle cx="1246.4" cy="233" r="4.75"/><circle cx="1341.7" cy="237.8" r="4.75"/><circle cx="1296.2" cy="235.8" r="4.75"/><circle cx="1311.5" cy="230.5" r="4.75"/><circle cx="1294.8" cy="233.9" r="4.75"/><circle cx="1278.4" cy="236.4" r="4.75"/><circle cx="1283.7" cy="235.7" r="4.75"/><circle cx="1243.8" cy="232.6" r="4.75"/><circle cx="1241.6" cy="234.8" r="4.75"/><circle cx="1328.7" cy="233.1" r="4.75"/><circle cx="1296.4" cy="234.2" r="4.75"/><circle cx="1261.1" cy="231.9" r="4.75"/><circle cx="1297.8" cy="234.4" r="4.75"/><circle cx="1276.9" cy="232.8" r="4.75"/><circle cx="1271.8" cy="233.6" r="4.75"/><circle cx="1308.1" cy="230.9" r="4.75"/><circle cx="1309" cy="236.6" r="4.75"/><circle cx="1293.4" cy="238.1" r="4.75"/><circle cx="1269.5" cy="237.6" r="4.75"/><circle cx="1256.1" cy="231.7" r="4.75"/><circle cx="1322.9" cy="227.7" r="4.75"/><circle cx="1301.6" cy="236.8" r="4.75"/><circle cx="1336.2" cy="234.6" r="4.75"/><circle cx="1273.3" cy="231.2" r="4.75"/><circle cx="1303.3" cy="228.2" r="4.75"/><circle cx="1239.9" cy="237.4" r="4.75"/><circle cx="1302.9" cy="229.2" r="4.75"/><circle cx="1282.1" cy="230.7" r="4.75"/><circle cx="1328.4" cy="230.4" r="4.75"/><circle cx="1313.2" cy="235.4" r="4.75"/><circle cx="1270.5" cy="230.4" r="4.75"/><circle cx="1291.8" cy="231.8" r="4.75"/><circle cx="1299.4" cy="231" r="4.75"/><circle cx="1320.5" cy="231.9" r="4.75"/><circle cx="1251.3" cy="236.1" r="4.75"/><circle cx="1331.1" cy="234.6" r="4.75"/><circle cx="1294.4" cy="236.9" r="4.75"/><circle cx="1335.2" cy="227.3" r="4.75"/><circle cx="1288.3" cy="227.7" r="4.75"/><circle cx="1272" cy="230.2" r="4.75"/><circle cx="1285.5" cy="234.9" r="4.75"/><circle cx="1327.5" cy="230.1" r="4.75"/><circle cx="1238.2" cy="238.6" r="4.75"/><circle cx="1319.2" cy="233.3" r="4.75"/><circle cx="1248.8" cy="228.4" r="4.75"/><circle cx="1335.2" cy="232.9" r="4.75"/><circle cx="1327.4" cy="235.7" r="4.75"/><circle cx="1316" cy="236" r="4.75"/><circle cx="1263.6" cy="230.3" r="4.75"/><circle cx="1282.6" cy="235.9" r="4.75"/><circle cx="1320.5" cy="235.5" r="4.75"/><circle cx="1297.9" cy="232.6" r="4.75"/><circle cx="1257.4" cy="234.9" r="4.75"/><circle cx="1305.7" cy="233" r="4.75"/><circle cx="1313.4" cy="237.9" r="4.75"/><circle cx="1336.2" cy="228.4" r="4.75"/><circle cx="1267.2" cy="234.3" r="4.75"/><circle cx="1309.5" cy="230.5" r="4.75"/><circle cx="1334.9" cy="232.2" r="4.75"/><circle cx="1317.4" cy="227.9" r="4.75"/><circle cx="1266.3" cy="227.9" r="4.75"/><circle cx="1320.2" cy="233" r="4.75"/><circle cx="1337.2" cy="233.8" r="4.75"/><circle cx="1271.1" cy="231.5" r="4.75"/><circle cx="1276.4" cy="229.7" r="4.75"/><circle cx="1248.3" cy="234.8" r="4.75"/><circle cx="1270" cy="232.5" r="4.75"/><circle cx="1311.5" cy="230.3" r="4.75"/><circle cx="1283.2" cy="231.1" r="4.75"/><circle cx="1271.1" cy="234.8" r="4.75"/><circle cx="1247.3" cy="232.1" r="4.75"/><circle cx="1248.5" cy="235" r="4.75"/><circle cx="1268.3" cy="238.1" r="4.75"/><circle cx="1287.7" cy="234.7" r="4.75"/><circle cx="1292.1" cy="236.4" r="4.75"/><circle cx="1310.7" cy="234.3" r="4.75"/><circle cx="1240.3" cy="229.4" r="4.75"/><circle cx="1315.9" cy="231.8" r="4.75"/><circle cx="1339.6" cy="234.1" r="4.75"/><circle cx="1323.6" cy="235.3" r="4.75"/><circle cx="1338.3" cy="234.3" r="4.75"/><circle cx="1335.6" cy="231.8" r="4.75"/><circle cx="1265.1" cy="228.9" r="4.75"/><circle cx="1263.5" cy="237.3" r="4.75"/><circle cx="1306.2" cy="227.9" r="4.75"/><circle cx="1239.9" cy="232.8" r="4.75"/><circle cx="1294.2" cy="231.4" r="4.75"/><circle cx="1239" cy="230.7" r="4.75"/><circle cx="1329.2" cy="235.1" r="4.75"/><circle cx="1323" cy="230.2" r="4.75"/><circle cx="1307.2" cy="229.5" r="4.75"/><circle cx="1268.7" cy="238" r="4.75"/><circle cx="1259.4" cy="230.9" r="4.75"/><circle cx="1259.9" cy="237.1" r="4.75"/><circle cx="1314.5" cy="236.2" r="4.75"/><circle cx="1336.5" cy="232.9" r="4.75"/><circle cx="1345.3" cy="240.4" r="4.75"/><circle cx="1262.2" cy="228.1" r="4.75"/><circle cx="1294.2" cy="232.9" r="4.75"/><circle cx="1328.3" cy="237.6" r="4.75"/><circle cx="1321.9" cy="236.4" r="4.75"/><circle cx="1257.4" cy="240.5" r="4.75"/><circle cx="1354.1" cy="237" r="4.75"/><circle cx="1317.7" cy="227.5" r="4.75"/><circle cx="1237.7" cy="233.5" r="4.75"/><circle cx="1301.8" cy="239.7" r="4.75"/><circle cx="1285.7" cy="235.4" r="4.75"/><circle cx="1233.7" cy="223.9" r="4.75"/><circle cx="1238.2" cy="230.4" r="4.75"/><circle cx="1254.6" cy="225.9" r="4.75"/><circle cx="1267.4" cy="230.5" r="4.75"/><circle cx="1332.9" cy="244.4" r="4.75"/><circle cx="1355.8" cy="239.4" r="4.75"/><circle cx="1223.3" cy="228.6" r="4.75"/><circle cx="1356.5" cy="238.4" r="4.75"/><circle cx="1337.5" cy="226.5" r="4.75"/><circle cx="1254.2" cy="224.9" r="4.75"/><circle cx="1292.6" cy="231" r="4.75"/><circle cx="1285.3" cy="225.5" r="4.75"/><circle cx="1225.3" cy="232.1" r="4.75"/><circle cx="1346.7" cy="237.4" r="4.75"/><circle cx="1298.9" cy="223.6" r="4.75"/><circle cx="1280.2" cy="231.2" r="4.75"/><circle cx="1306.8" cy="231.7" r="4.75"/><circle cx="1329.9" cy="228.4" r="4.75"/><circle cx="1320" cy="221.9" r="4.75"/><circle cx="1241.5" cy="242" r="4.75"/><circle cx="1336.9" cy="229" r="4.75"/><circle cx="1248.6" cy="245.9" r="4.75"/><circle cx="1301.6" cy="224.2" r="4.75"/><circle cx="1355.1" cy="235.2" r="4.75"/><circle cx="1262.2" cy="234.7" r="4.75"/><circle cx="1271.6" cy="236.3" r="4.75"/><circle cx="1277.6" cy="231.4" r="4.75"/><circle cx="1320.5" cy="229.2" r="4.75"/><circle cx="1333.7" cy="239.8" r="4.75"/><circle cx="1349" cy="225.3" r="4.75"/><circle cx="1337.9" cy="239" r="4.75"/><circle cx="1246.4" cy="244.7" r="4.75"/><circle cx="1289.5" cy="226.4" r="4.75"/><circle cx="1250.1" cy="246.8" r="4.75"/><circle cx="1330" cy="227.4" r="4.75"/><circle cx="1342.1" cy="222.5" r="4.75"/><circle cx="1315.7" cy="237.2" r="4.75"/><circle cx="1339" cy="243.7" r="4.75"/><circle cx="1320.5" cy="242.3" r="4.75"/><circle cx="1284.3" cy="244.8" r="4.75"/><circle cx="1279.7" cy="239.9" r="4.75"/><circle cx="1323" cy="231.6" r="4.75"/><circle cx="1332.3" cy="239.1" r="4.75"/><circle cx="1243.3" cy="236.8" r="4.75"/><circle cx="1287.3" cy="236.6" r="4.75"/><circle cx="1225.7" cy="239.8" r="4.75"/><circle cx="1275.3" cy="240.2" r="4.75"/><circle cx="1254.3" cy="223" r="4.75"/><circle cx="1284.6" cy="237.7" r="4.75"/><circle cx="1326.8" cy="234.9" r="4.75"/><circle cx="1340.5" cy="225.6" r="4.75"/><circle cx="1238.5" cy="232.4" r="4.75"/><circle cx="1310.4" cy="240.5" r="4.75"/><circle cx="1230.6" cy="237.2" r="4.75"/><circle cx="1268.9" cy="235.2" r="4.75"/><circle cx="1235.1" cy="226.6" r="4.75"/><circle cx="1307.7" cy="230.2" r="4.75"/><circle cx="1236.4" cy="234.4" r="4.75"/><circle cx="1222.5" cy="230.1" r="4.75"/><circle cx="1226.4" cy="234.4" r="4.75"/><circle cx="1220.4" cy="240.6" r="4.75"/><circle cx="1226" cy="237.9" r="4.75"/><circle cx="1229.9" cy="238.7" r="4.75"/><circle cx="1217" cy="240.5" r="4.75"/><circle cx="1228" cy="229.7" r="4.75"/><circle cx="1227.9" cy="228.3" r="4.75"/><circle cx="1224.1" cy="228.8" r="4.75"/><circle cx="1215.8" cy="233.6" r="4.75"/><circle cx="1233.4" cy="237.8" r="4.75"/><circle cx="1361.1" cy="236.6" r="4.75"/><circle cx="1354.6" cy="233.6" r="4.75"/><circle cx="1361.5" cy="225.7" r="4.75"/><circle cx="1352.7" cy="232.7" r="4.75"/><circle cx="1342.4" cy="238.2" r="4.75"/><circle cx="1355.9" cy="229.2" r="4.75"/><circle cx="1358.2" cy="231.5" r="4.75"/><circle cx="1356.8" cy="232.7" r="4.75"/><circle cx="1359.5" cy="232" r="4.75"/><circle cx="1344" cy="236.3" r="4.75"/><circle cx="1346.8" cy="233.1" r="4.75"/><circle cx="1361" cy="235.7" r="4.75"/><circle cx="1343.5" cy="237.6" r="4.75"/><circle cx="1361.7" cy="231.3" r="4.75"/><circle cx="1391.8" cy="230.5" r="4.75"/><circle cx="1397.4" cy="226.3" r="4.75"/><circle cx="1403.8" cy="232.3" r="4.75"/><circle cx="1394.7" cy="234.1" r="4.75"/><circle cx="1390.1" cy="234.8" r="4.75"/><circle cx="1404" cy="230.6" r="4.75"/><circle cx="1388.9" cy="230.4" r="4.75"/><circle cx="1388.8" cy="231.4" r="4.75"/><circle cx="1421" cy="226.3" r="4.75"/><circle cx="1420.8" cy="233.5" r="4.75"/><circle cx="1421.1" cy="238.2" r="4.75"/><circle cx="1420.9" cy="246.3" r="4.75"/><circle cx="1421.3" cy="238" r="4.75"/><circle cx="1421.1" cy="226.9" r="4.75"/><circle cx="1421" cy="227.3" r="4.75"/><circle cx="1421.6" cy="236.2" r="4.75"/></g>
<line class="ln" x1="1180.2" y1="239.9" x2="1555.1" y2="217.3" stroke-dasharray="30.5 33.1"/>
<path class="ax" d="M1155.4 16 V444.3 H1580.8"/>
<line class="tkm" x1="1148.8" y1="46.8" x2="1155.4" y2="46.8"/>
<text class="tk" text-anchor="end" x="1141.9" y="55.1">20</text>
<line class="tkm" x1="1148.8" y1="139.7" x2="1155.4" y2="139.7"/>
<text class="tk" text-anchor="end" x="1141.9" y="148">10</text>
<line class="tkm" x1="1148.8" y1="232.6" x2="1155.4" y2="232.6"/>
<text class="tk" text-anchor="end" x="1141.9" y="240.9">0</text>
<line class="tkm" x1="1148.8" y1="325.5" x2="1155.4" y2="325.5"/>
<text class="tk" text-anchor="end" x="1141.9" y="333.8">−10</text>
<line class="tkm" x1="1148.8" y1="418.4" x2="1155.4" y2="418.4"/>
<text class="tk" text-anchor="end" x="1141.9" y="426.7">−20</text>
<line class="tkm" x1="1227.5" y1="444.3" x2="1227.5" y2="450.9"/>
<text class="tk" text-anchor="middle" x="1227.5" y="472.8">10</text>
<line class="tkm" x1="1322.6" y1="444.3" x2="1322.6" y2="450.9"/>
<text class="tk" text-anchor="middle" x="1322.6" y="472.8">20</text>
<line class="tkm" x1="1417.3" y1="444.3" x2="1417.3" y2="450.9"/>
<text class="tk" text-anchor="middle" x="1417.3" y="472.8">30</text>
<line class="tkm" x1="1511.7" y1="444.3" x2="1511.7" y2="450.9"/>
<text class="tk" text-anchor="middle" x="1511.7" y="472.8">40</text>
<text class="tt" style="font-size:27.3px" text-anchor="middle" x="1368.1" y="512.3">Specific Leaf Area (m<tspan class="sup" dy="-13">2</tspan><tspan dy="13">/kg)</tspan></text>
<text class="tt" text-anchor="middle" transform="translate(1092.4 230.2) rotate(-90)">Cover Change (%)</text>
</g>
<g id="panel4">
<polygon class="rb" points="1702.6,223.7 1786.2,230.9 1872,234.4 1988.5,231.9 2088.4,223 2088.4,265.1 1988.5,251.1 1872,243.9 1786.2,243.4 1702.6,248.9"/>
<g class="p"><circle cx="1812.5" cy="43.1" r="4.75"/><circle cx="1818.9" cy="62.4" r="4.75"/><circle cx="1772.1" cy="62.4" r="4.75"/><circle cx="1814.9" cy="80.6" r="4.75"/><circle cx="1826" cy="95.7" r="4.75"/><circle cx="1917.7" cy="115.3" r="4.75"/><circle cx="1835.1" cy="126.7" r="4.75"/><circle cx="1867.8" cy="128.1" r="4.75"/><circle cx="1803.8" cy="148.7" r="4.75"/><circle cx="1816.6" cy="164.2" r="4.75"/><circle cx="1882.3" cy="163.5" r="4.75"/><circle cx="1836.1" cy="169.6" r="4.75"/><circle cx="1832.8" cy="177" r="4.75"/><circle cx="1755.2" cy="176.3" r="4.75"/><circle cx="1780.5" cy="172.9" r="4.75"/><circle cx="1795.7" cy="182.4" r="4.75"/><circle cx="1806.5" cy="188.1" r="4.75"/><circle cx="1843.6" cy="188.1" r="4.75"/><circle cx="1831.8" cy="192.1" r="4.75"/><circle cx="1957.1" cy="182" r="4.75"/><circle cx="2057.6" cy="192.1" r="4.75"/><circle cx="1941.3" cy="201.6" r="4.75"/><circle cx="1743.4" cy="199.6" r="4.75"/><circle cx="1833.4" cy="200.6" r="4.75"/><circle cx="1838.5" cy="202.2" r="4.75"/><circle cx="1845.2" cy="205.6" r="4.75"/><circle cx="1794.7" cy="207.3" r="4.75"/><circle cx="1799.7" cy="212.4" r="4.75"/><circle cx="1808.2" cy="203.9" r="4.75"/><circle cx="1818.9" cy="203.9" r="4.75"/><circle cx="1824" cy="210.7" r="4.75"/><circle cx="1831.8" cy="213" r="4.75"/><circle cx="1816.6" cy="215.7" r="4.75"/><circle cx="1850.3" cy="218.1" r="4.75"/><circle cx="1840.2" cy="223.1" r="4.75"/><circle cx="1981.1" cy="220.8" r="4.75"/><circle cx="1962.2" cy="229.2" r="4.75"/><circle cx="1931.2" cy="231.9" r="4.75"/><circle cx="1991.2" cy="231.9" r="4.75"/><circle cx="2012.1" cy="231.9" r="4.75"/><circle cx="2034" cy="232.6" r="4.75"/><circle cx="1995.9" cy="237.6" r="4.75"/><circle cx="2009.4" cy="240" r="4.75"/><circle cx="2003.7" cy="243.7" r="4.75"/><circle cx="2047.5" cy="252.1" r="4.75"/><circle cx="1995.9" cy="254.5" r="4.75"/><circle cx="1985.1" cy="255.2" r="4.75"/><circle cx="1975" cy="269.7" r="4.75"/><circle cx="1965.9" cy="258.9" r="4.75"/><circle cx="1944" cy="258.9" r="4.75"/><circle cx="1954.8" cy="276.4" r="4.75"/><circle cx="1995.9" cy="280.4" r="4.75"/><circle cx="2034.7" cy="307.1" r="4.75"/><circle cx="1936.9" cy="334.4" r="4.75"/><circle cx="1940.6" cy="364.4" r="4.75"/><circle cx="1954.8" cy="392" r="4.75"/><circle cx="2057.6" cy="383.6" r="4.75"/><circle cx="1865.5" cy="395.4" r="4.75"/><circle cx="1835.1" cy="388.7" r="4.75"/><circle cx="1813.2" cy="383.6" r="4.75"/><circle cx="1744.1" cy="380.2" r="4.75"/><circle cx="1744.1" cy="392" r="4.75"/><circle cx="1744.1" cy="313.5" r="4.75"/><circle cx="1744.1" cy="286.5" r="4.75"/><circle cx="1754.2" cy="280.4" r="4.75"/><circle cx="1743.4" cy="263.6" r="4.75"/><circle cx="1739.1" cy="249.4" r="4.75"/><circle cx="1735.7" cy="255.2" r="4.75"/><circle cx="1708.7" cy="255.2" r="4.75"/><circle cx="1713.1" cy="244.4" r="4.75"/><circle cx="1722.2" cy="240" r="4.75"/><circle cx="1708.7" cy="222.5" r="4.75"/><circle cx="1713.1" cy="226.5" r="4.75"/><circle cx="1722.2" cy="215.1" r="4.75"/><circle cx="1735.7" cy="232.6" r="4.75"/><circle cx="1744.1" cy="232.6" r="4.75"/><circle cx="1754.2" cy="225.2" r="4.75"/><circle cx="1755.9" cy="232.6" r="4.75"/><circle cx="1761" cy="247.8" r="4.75"/><circle cx="1763.7" cy="249.4" r="4.75"/><circle cx="1768.7" cy="267.3" r="4.75"/><circle cx="1769.4" cy="267.3" r="4.75"/><circle cx="1774.4" cy="260.6" r="4.75"/><circle cx="1778.8" cy="229.2" r="4.75"/><circle cx="1789.6" cy="258.9" r="4.75"/><circle cx="1790.3" cy="269.7" r="4.75"/><circle cx="1791" cy="269.7" r="4.75"/><circle cx="1795.7" cy="290.6" r="4.75"/><circle cx="1806.5" cy="288.2" r="4.75"/><circle cx="1813.2" cy="285.8" r="4.75"/><circle cx="1819.3" cy="289.2" r="4.75"/><circle cx="1820" cy="289.2" r="4.75"/><circle cx="1794.7" cy="313.5" r="4.75"/><circle cx="1805.5" cy="326.3" r="4.75"/><circle cx="1845.2" cy="331.3" r="4.75"/><circle cx="1856.4" cy="300" r="4.75"/><circle cx="1853.7" cy="288.2" r="4.75"/><circle cx="1852.7" cy="282.5" r="4.75"/><circle cx="1865.5" cy="286.5" r="4.75"/><circle cx="1868.2" cy="256.9" r="4.75"/><circle cx="1887.4" cy="254.5" r="4.75"/><circle cx="1917.7" cy="247.8" r="4.75"/><circle cx="1873.9" cy="239.3" r="4.75"/><circle cx="1884" cy="240" r="4.75"/><circle cx="1884.7" cy="240" r="4.75"/><circle cx="1826.7" cy="267.3" r="4.75"/><circle cx="1835.1" cy="266.3" r="4.75"/><circle cx="1840.2" cy="262.9" r="4.75"/><circle cx="1848.6" cy="258.9" r="4.75"/><circle cx="1806.5" cy="269.7" r="4.75"/><circle cx="1811.5" cy="273" r="4.75"/><circle cx="1803.1" cy="268" r="4.75"/><circle cx="1785.5" cy="242.4" r="4.75"/><circle cx="1777.2" cy="235.9" r="4.75"/><circle cx="1762.6" cy="240.8" r="4.75"/><circle cx="1779.9" cy="233.8" r="4.75"/><circle cx="1756.6" cy="242.7" r="4.75"/><circle cx="1754.8" cy="240.2" r="4.75"/><circle cx="1762.5" cy="240.1" r="4.75"/><circle cx="1781.9" cy="239.5" r="4.75"/><circle cx="1764.8" cy="236.9" r="4.75"/><circle cx="1773.1" cy="239.9" r="4.75"/><circle cx="1765.4" cy="238.3" r="4.75"/><circle cx="1770" cy="236.2" r="4.75"/><circle cx="1757.1" cy="239.3" r="4.75"/><circle cx="1754.2" cy="239.6" r="4.75"/><circle cx="1779.7" cy="242" r="4.75"/><circle cx="1867" cy="239.7" r="4.75"/><circle cx="1885.3" cy="239.5" r="4.75"/><circle cx="1887.1" cy="239" r="4.75"/><circle cx="1883" cy="238.5" r="4.75"/><circle cx="1878.3" cy="241" r="4.75"/><circle cx="1940.8" cy="240.2" r="4.75"/><circle cx="1947.5" cy="243.4" r="4.75"/><circle cx="1934.1" cy="239.4" r="4.75"/><circle cx="1931.6" cy="238.2" r="4.75"/><circle cx="1933.5" cy="236" r="4.75"/><circle cx="1942.2" cy="235" r="4.75"/><circle cx="1933.7" cy="234.6" r="4.75"/><circle cx="1945.7" cy="236.4" r="4.75"/><circle cx="1932.2" cy="240.4" r="4.75"/><circle cx="1943.9" cy="240.1" r="4.75"/><circle cx="1940.8" cy="239.3" r="4.75"/><circle cx="1944" cy="237" r="4.75"/><circle cx="1946.2" cy="240.6" r="4.75"/><circle cx="1946.5" cy="242.4" r="4.75"/><circle cx="1946.1" cy="238.9" r="4.75"/><circle cx="1940.4" cy="241.2" r="4.75"/><circle cx="1941.4" cy="234.5" r="4.75"/><circle cx="1947.5" cy="235.9" r="4.75"/><circle cx="1795.5" cy="242" r="4.75"/><circle cx="1815.4" cy="246" r="4.75"/><circle cx="1791.4" cy="235" r="4.75"/><circle cx="1799.5" cy="237.8" r="4.75"/><circle cx="1784.3" cy="234.9" r="4.75"/><circle cx="1794" cy="232" r="4.75"/><circle cx="1819.3" cy="242" r="4.75"/><circle cx="1806.8" cy="245.1" r="4.75"/><circle cx="1802.7" cy="244.8" r="4.75"/><circle cx="1810.8" cy="243.6" r="4.75"/><circle cx="1806.3" cy="246.2" r="4.75"/><circle cx="1806.6" cy="238.8" r="4.75"/><circle cx="1806.4" cy="243.4" r="4.75"/><circle cx="1798.9" cy="241.2" r="4.75"/><circle cx="1798.9" cy="240.4" r="4.75"/><circle cx="1808.9" cy="248.3" r="4.75"/><circle cx="1822.5" cy="247.1" r="4.75"/><circle cx="1797" cy="238.9" r="4.75"/><circle cx="1784.5" cy="236.6" r="4.75"/><circle cx="1796.4" cy="241.6" r="4.75"/><circle cx="1807.3" cy="247.5" r="4.75"/><circle cx="1807.3" cy="232.6" r="4.75"/><circle cx="1802.3" cy="254.9" r="4.75"/><circle cx="1811.2" cy="245.8" r="4.75"/><circle cx="1808.8" cy="227.3" r="4.75"/><circle cx="1804.1" cy="241.6" r="4.75"/><circle cx="1796.5" cy="238.8" r="4.75"/><circle cx="1813.7" cy="242.4" r="4.75"/><circle cx="1807.3" cy="240.2" r="4.75"/><circle cx="1807.9" cy="244.8" r="4.75"/><circle cx="1807.8" cy="236.1" r="4.75"/><circle cx="1800" cy="232.5" r="4.75"/><circle cx="1815.2" cy="241.9" r="4.75"/><circle cx="1817.4" cy="249.2" r="4.75"/><circle cx="1796.8" cy="241.8" r="4.75"/><circle cx="1811.9" cy="230.3" r="4.75"/><circle cx="1809.2" cy="242.5" r="4.75"/><circle cx="1802" cy="246.3" r="4.75"/><circle cx="1796.5" cy="243.8" r="4.75"/><circle cx="1818.8" cy="239.7" r="4.75"/><circle cx="1817.7" cy="239.2" r="4.75"/><circle cx="1806.7" cy="249.6" r="4.75"/><circle cx="1811.9" cy="248.5" r="4.75"/><circle cx="1818.6" cy="252.9" r="4.75"/><circle cx="1799.1" cy="254.2" r="4.75"/><circle cx="1806.6" cy="245.6" r="4.75"/><circle cx="1805.9" cy="253.3" r="4.75"/><circle cx="1812.5" cy="232" r="4.75"/><circle cx="1800.9" cy="239.7" r="4.75"/><circle cx="1805.6" cy="243" r="4.75"/><circle cx="1809.8" cy="239.9" r="4.75"/><circle cx="1805.4" cy="241.1" r="4.75"/><circle cx="1802.8" cy="249.9" r="4.75"/><circle cx="1806.9" cy="243.6" r="4.75"/><circle cx="1811.4" cy="238.1" r="4.75"/><circle cx="1819.7" cy="241.8" r="4.75"/><circle cx="1816.9" cy="240.8" r="4.75"/><circle cx="1814.7" cy="242.8" r="4.75"/><circle cx="1800.2" cy="238.3" r="4.75"/><circle cx="1792.5" cy="246.6" r="4.75"/><circle cx="1796" cy="231.2" r="4.75"/><circle cx="1815.9" cy="239" r="4.75"/><circle cx="1810" cy="241" r="4.75"/><circle cx="1791.9" cy="240.3" r="4.75"/><circle cx="1814.7" cy="238.2" r="4.75"/><circle cx="1787.8" cy="246.6" r="4.75"/><circle cx="1802.4" cy="241.8" r="4.75"/><circle cx="1798.6" cy="242.9" r="4.75"/><circle cx="1796.1" cy="231.6" r="4.75"/><circle cx="1813.1" cy="243" r="4.75"/><circle cx="1818.8" cy="234.5" r="4.75"/><circle cx="1807.3" cy="235.1" r="4.75"/><circle cx="1822.4" cy="237.8" r="4.75"/><circle cx="1810.2" cy="234.1" r="4.75"/><circle cx="1802.4" cy="238.7" r="4.75"/><circle cx="1807" cy="241.6" r="4.75"/><circle cx="1815.7" cy="243.9" r="4.75"/><circle cx="1816.7" cy="238.5" r="4.75"/><circle cx="1809.1" cy="230.9" r="4.75"/><circle cx="1812.3" cy="239.6" r="4.75"/><circle cx="1784.8" cy="241.6" r="4.75"/><circle cx="1798.7" cy="250" r="4.75"/><circle cx="1801" cy="243.3" r="4.75"/><circle cx="1808" cy="247.1" r="4.75"/><circle cx="1824" cy="243.7" r="4.75"/><circle cx="1801.3" cy="245.1" r="4.75"/><circle cx="1805.8" cy="240.7" r="4.75"/><circle cx="1806.2" cy="234.4" r="4.75"/><circle cx="1813.2" cy="244.8" r="4.75"/><circle cx="1808" cy="241.2" r="4.75"/><circle cx="1804.2" cy="245.3" r="4.75"/><circle cx="1800.4" cy="239" r="4.75"/><circle cx="1810.5" cy="236.4" r="4.75"/><circle cx="1809.9" cy="240.3" r="4.75"/><circle cx="1805.7" cy="242.8" r="4.75"/><circle cx="1811" cy="242.5" r="4.75"/><circle cx="1795.7" cy="237.1" r="4.75"/><circle cx="1804.5" cy="236.7" r="4.75"/><circle cx="1784.1" cy="230.6" r="4.75"/><circle cx="1802.6" cy="245.6" r="4.75"/><circle cx="1817.8" cy="272.3" r="4.75"/><circle cx="1796.2" cy="232.7" r="4.75"/><circle cx="1800.5" cy="243.5" r="4.75"/><circle cx="1808.4" cy="262" r="4.75"/><circle cx="1805.3" cy="257.9" r="4.75"/><circle cx="1811.8" cy="239" r="4.75"/><circle cx="1785.2" cy="246.9" r="4.75"/><circle cx="1804.6" cy="220.7" r="4.75"/><circle cx="1818.9" cy="234.9" r="4.75"/><circle cx="1807.7" cy="257.7" r="4.75"/><circle cx="1812.7" cy="239.8" r="4.75"/><circle cx="1803.3" cy="251.1" r="4.75"/><circle cx="1809.4" cy="239.6" r="4.75"/><circle cx="1815.1" cy="256.9" r="4.75"/><circle cx="1803.8" cy="230.8" r="4.75"/><circle cx="1805.3" cy="224.4" r="4.75"/><circle cx="1801.8" cy="246.4" r="4.75"/><circle cx="1799.4" cy="227.6" r="4.75"/><circle cx="1823.7" cy="238.5" r="4.75"/><circle cx="1812.8" cy="246.4" r="4.75"/><circle cx="1798.5" cy="261.6" r="4.75"/><circle cx="1802.2" cy="251.6" r="4.75"/><circle cx="1809.2" cy="252.3" r="4.75"/><circle cx="1786.4" cy="243.7" r="4.75"/><circle cx="1808.7" cy="238.8" r="4.75"/><circle cx="1800.5" cy="247.2" r="4.75"/><circle cx="1792.6" cy="224.8" r="4.75"/><circle cx="1810.4" cy="244.6" r="4.75"/><circle cx="1801.4" cy="254.2" r="4.75"/><circle cx="1809.3" cy="246.8" r="4.75"/><circle cx="1830.4" cy="243.9" r="4.75"/><circle cx="1840.3" cy="237.2" r="4.75"/><circle cx="1850.6" cy="237.7" r="4.75"/><circle cx="1847.4" cy="240.4" r="4.75"/><circle cx="1860.1" cy="240.1" r="4.75"/><circle cx="1842.7" cy="238.2" r="4.75"/><circle cx="1841" cy="241.6" r="4.75"/><circle cx="1846.7" cy="240.2" r="4.75"/><circle cx="1840.2" cy="230.4" r="4.75"/><circle cx="1849.8" cy="237.4" r="4.75"/><circle cx="1841.4" cy="236.4" r="4.75"/><circle cx="1853.5" cy="230.6" r="4.75"/><circle cx="1849.6" cy="238.9" r="4.75"/><circle cx="1858.2" cy="229.5" r="4.75"/><circle cx="1846.7" cy="237.3" r="4.75"/><circle cx="1835.9" cy="234.2" r="4.75"/><circle cx="1837.6" cy="236.3" r="4.75"/><circle cx="1845.6" cy="237.1" r="4.75"/><circle cx="1839.2" cy="237.4" r="4.75"/><circle cx="1854.6" cy="245.6" r="4.75"/><circle cx="1837.1" cy="229.1" r="4.75"/><circle cx="1855.3" cy="237.2" r="4.75"/><circle cx="1852.8" cy="232.2" r="4.75"/><circle cx="1844.9" cy="234.1" r="4.75"/><circle cx="1840" cy="231.8" r="4.75"/><circle cx="1844.1" cy="246.3" r="4.75"/><circle cx="1840" cy="236.1" r="4.75"/><circle cx="1831.4" cy="242.6" r="4.75"/><circle cx="1847.1" cy="239.2" r="4.75"/><circle cx="1842" cy="238.7" r="4.75"/><circle cx="1854.5" cy="230.9" r="4.75"/><circle cx="1841.3" cy="241.8" r="4.75"/><circle cx="1837.8" cy="231" r="4.75"/><circle cx="1836" cy="231.6" r="4.75"/><circle cx="1841.1" cy="242.8" r="4.75"/><circle cx="1841" cy="232" r="4.75"/><circle cx="1840.6" cy="241.4" r="4.75"/><circle cx="1850.9" cy="233.3" r="4.75"/><circle cx="1840.2" cy="238" r="4.75"/><circle cx="1843.4" cy="240" r="4.75"/><circle cx="1845.3" cy="240.6" r="4.75"/><circle cx="1846.7" cy="244.7" r="4.75"/><circle cx="1833" cy="235.6" r="4.75"/><circle cx="1839.6" cy="237.1" r="4.75"/><circle cx="1837.9" cy="245.4" r="4.75"/><circle cx="1849.2" cy="239" r="4.75"/><circle cx="1841.7" cy="239.5" r="4.75"/><circle cx="1842.1" cy="240.2" r="4.75"/><circle cx="1835.2" cy="232.7" r="4.75"/><circle cx="1836.2" cy="243.4" r="4.75"/><circle cx="1848.5" cy="238.7" r="4.75"/><circle cx="1852.4" cy="244.8" r="4.75"/><circle cx="1843.8" cy="244.3" r="4.75"/><circle cx="1851" cy="234.4" r="4.75"/><circle cx="1838.2" cy="241.7" r="4.75"/><circle cx="1840.3" cy="233.7" r="4.75"/><circle cx="1841.7" cy="238" r="4.75"/><circle cx="1855.9" cy="237.4" r="4.75"/><circle cx="1853.9" cy="233.3" r="4.75"/><circle cx="1846.6" cy="243.3" r="4.75"/><circle cx="1840.8" cy="236.9" r="4.75"/><circle cx="1849.5" cy="230.7" r="4.75"/><circle cx="1841.9" cy="247.3" r="4.75"/><circle cx="1841.9" cy="237.7" r="4.75"/><circle cx="1845.1" cy="246" r="4.75"/><circle cx="1857.5" cy="237.8" r="4.75"/><circle cx="1848.9" cy="228.1" r="4.75"/><circle cx="1841.7" cy="247.6" r="4.75"/><circle cx="1856.7" cy="236.3" r="4.75"/><circle cx="1838" cy="234.2" r="4.75"/><circle cx="1850.4" cy="236.4" r="4.75"/><circle cx="1854.9" cy="230.5" r="4.75"/><circle cx="1841.9" cy="212.9" r="4.75"/><circle cx="1834.4" cy="240.7" r="4.75"/><circle cx="1833.9" cy="246.5" r="4.75"/><circle cx="1854.1" cy="228" r="4.75"/><circle cx="1847.1" cy="255.9" r="4.75"/><circle cx="1857.6" cy="242.6" r="4.75"/><circle cx="1848.7" cy="246.9" r="4.75"/><circle cx="1840.8" cy="238" r="4.75"/><circle cx="2034.4" cy="238.6" r="4.75"/><circle cx="2033.9" cy="239.1" r="4.75"/><circle cx="2034.7" cy="239.7" r="4.75"/></g>
<line class="ln" x1="1702.6" y1="236.4" x2="2088.4" y2="243.9" stroke-dasharray="30.5 33.1"/>
<path class="ax" d="M1683.4 16 V458 H2107"/>
<line class="tkm" x1="1676.8" y1="47.6" x2="1683.4" y2="47.6"/>
<text class="tk" text-anchor="end" x="1669.9" y="55.9">20</text>
<line class="tkm" x1="1676.8" y1="143.6" x2="1683.4" y2="143.6"/>
<text class="tk" text-anchor="end" x="1669.9" y="151.9">10</text>
<line class="tkm" x1="1676.8" y1="239.7" x2="1683.4" y2="239.7"/>
<text class="tk" text-anchor="end" x="1669.9" y="248">0</text>
<line class="tkm" x1="1676.8" y1="335.8" x2="1683.4" y2="335.8"/>
<text class="tk" text-anchor="end" x="1669.9" y="344.1">−10</text>
<line class="tkm" x1="1676.8" y1="431.8" x2="1683.4" y2="431.8"/>
<text class="tk" text-anchor="end" x="1669.9" y="440.1">−20</text>
<line class="tkm" x1="1818.9" y1="458" x2="1818.9" y2="464.6"/>
<text class="tk" text-anchor="middle" x="1818.9" y="486.5">10</text>
<line class="tkm" x1="1976.7" y1="458" x2="1976.7" y2="464.6"/>
<text class="tk" text-anchor="middle" x="1976.7" y="486.5">20</text>
<text class="tt" text-anchor="middle" x="1895.2" y="518.5">Root N (mg/g)</text>
<text class="tt" text-anchor="middle" transform="translate(1620.4 237) rotate(-90)">Cover Change (%)</text>
</g>
<g id="panel5">
<polygon class="rb" points="116.6,769.7 213,762.7 497.8,735 497.8,790.1 213,775.9 116.6,773"/>
<g class="p"><circle cx="177.6" cy="574.1" r="4.75"/><circle cx="155.1" cy="593.4" r="4.75"/><circle cx="178.7" cy="593.4" r="4.75"/><circle cx="160.1" cy="626.7" r="4.75"/><circle cx="331" cy="611.6" r="4.75"/><circle cx="430.4" cy="646.3" r="4.75"/><circle cx="187.4" cy="657.7" r="4.75"/><circle cx="203.3" cy="659.1" r="4.75"/><circle cx="138.5" cy="679.7" r="4.75"/><circle cx="138.5" cy="694.5" r="4.75"/><circle cx="152.7" cy="695.2" r="4.75"/><circle cx="187.4" cy="700.6" r="4.75"/><circle cx="164.2" cy="707.3" r="4.75"/><circle cx="164.8" cy="707.3" r="4.75"/><circle cx="122" cy="703.6" r="4.75"/><circle cx="128.1" cy="713" r="4.75"/><circle cx="138.5" cy="713" r="4.75"/><circle cx="138.5" cy="719.1" r="4.75"/><circle cx="122" cy="723.1" r="4.75"/><circle cx="164.2" cy="731.6" r="4.75"/><circle cx="128.1" cy="736.6" r="4.75"/><circle cx="138.5" cy="731.6" r="4.75"/><circle cx="138.5" cy="742.7" r="4.75"/><circle cx="152.7" cy="742.7" r="4.75"/><circle cx="165.2" cy="745" r="4.75"/><circle cx="203.3" cy="719.1" r="4.75"/><circle cx="202.2" cy="734.9" r="4.75"/><circle cx="232.6" cy="723.1" r="4.75"/><circle cx="269" cy="728.9" r="4.75"/><circle cx="284.8" cy="735.3" r="4.75"/><circle cx="335.4" cy="733.2" r="4.75"/><circle cx="336.4" cy="733.9" r="4.75"/><circle cx="343.1" cy="753.5" r="4.75"/><circle cx="330.3" cy="757.5" r="4.75"/><circle cx="365.7" cy="756.8" r="4.75"/><circle cx="418" cy="746.7" r="4.75"/><circle cx="439.9" cy="756.2" r="4.75"/><circle cx="276.4" cy="756.2" r="4.75"/><circle cx="289.2" cy="762.9" r="4.75"/><circle cx="296.6" cy="762.9" r="4.75"/><circle cx="288.2" cy="777.1" r="4.75"/><circle cx="365.7" cy="775.4" r="4.75"/><circle cx="380.9" cy="786.2" r="4.75"/><circle cx="362.4" cy="792.2" r="4.75"/><circle cx="373.1" cy="795.6" r="4.75"/><circle cx="430.4" cy="778.8" r="4.75"/><circle cx="439.9" cy="780.4" r="4.75"/><circle cx="502.2" cy="772.3" r="4.75"/><circle cx="502.2" cy="788.2" r="4.75"/><circle cx="257.2" cy="790.6" r="4.75"/><circle cx="257.2" cy="801.3" r="4.75"/><circle cx="257.9" cy="801.3" r="4.75"/><circle cx="250.1" cy="780.4" r="4.75"/><circle cx="236" cy="780.4" r="4.75"/><circle cx="227.5" cy="798.3" r="4.75"/><circle cx="237.6" cy="814.1" r="4.75"/><circle cx="211.7" cy="817.5" r="4.75"/><circle cx="177" cy="816.8" r="4.75"/><circle cx="190.4" cy="797.3" r="4.75"/><circle cx="190.4" cy="803.4" r="4.75"/><circle cx="175.3" cy="800" r="4.75"/><circle cx="161.8" cy="807.4" r="4.75"/><circle cx="166.9" cy="793.9" r="4.75"/><circle cx="148.3" cy="810.8" r="4.75"/><circle cx="141.6" cy="818.5" r="4.75"/><circle cx="155.1" cy="820.2" r="4.75"/><circle cx="133.1" cy="800.7" r="4.75"/><circle cx="133.1" cy="810.8" r="4.75"/><circle cx="128.1" cy="820.2" r="4.75"/><circle cx="134.8" cy="830.3" r="4.75"/><circle cx="156.1" cy="838.1" r="4.75"/><circle cx="138.5" cy="844.5" r="4.75"/><circle cx="166.2" cy="844.5" r="4.75"/><circle cx="131.5" cy="857.3" r="4.75"/><circle cx="128.1" cy="862" r="4.75"/><circle cx="163.1" cy="865.4" r="4.75"/><circle cx="138.5" cy="895.4" r="4.75"/><circle cx="138.5" cy="911.2" r="4.75"/><circle cx="138.5" cy="923" r="4.75"/><circle cx="161.8" cy="923" r="4.75"/><circle cx="187.4" cy="919.7" r="4.75"/><circle cx="211.7" cy="926.4" r="4.75"/><circle cx="232.6" cy="914.6" r="4.75"/><circle cx="299" cy="914.6" r="4.75"/><circle cx="201.6" cy="786.2" r="4.75"/><circle cx="206.3" cy="783.8" r="4.75"/><circle cx="215.7" cy="783.8" r="4.75"/><circle cx="187.1" cy="785.5" r="4.75"/><circle cx="122" cy="797.3" r="4.75"/><circle cx="118" cy="789.9" r="4.75"/><circle cx="116.3" cy="780.4" r="4.75"/><circle cx="119.8" cy="769.6" r="4.75"/><circle cx="119.5" cy="777.8" r="4.75"/><circle cx="117.6" cy="775.3" r="4.75"/><circle cx="117.6" cy="767.1" r="4.75"/><circle cx="117.7" cy="775.1" r="4.75"/><circle cx="116.9" cy="773.8" r="4.75"/><circle cx="117.7" cy="767.2" r="4.75"/><circle cx="118" cy="770.1" r="4.75"/><circle cx="160.9" cy="775.4" r="4.75"/><circle cx="171.1" cy="767.9" r="4.75"/><circle cx="172.7" cy="772.3" r="4.75"/><circle cx="172" cy="774.6" r="4.75"/><circle cx="162.4" cy="768.1" r="4.75"/><circle cx="171.4" cy="776.7" r="4.75"/><circle cx="164.6" cy="766.6" r="4.75"/><circle cx="169" cy="774" r="4.75"/><circle cx="170.2" cy="776.5" r="4.75"/><circle cx="172.4" cy="773.7" r="4.75"/><circle cx="159.4" cy="771.4" r="4.75"/><circle cx="161.9" cy="774" r="4.75"/><circle cx="164.6" cy="774.7" r="4.75"/><circle cx="162.1" cy="772" r="4.75"/><circle cx="172.1" cy="774.3" r="4.75"/><circle cx="171.4" cy="773.3" r="4.75"/><circle cx="153.4" cy="770.1" r="4.75"/><circle cx="157.1" cy="768.3" r="4.75"/><circle cx="153.5" cy="766.5" r="4.75"/><circle cx="161.4" cy="774.2" r="4.75"/><circle cx="170" cy="776.4" r="4.75"/><circle cx="163.6" cy="765.4" r="4.75"/><circle cx="154.9" cy="765.9" r="4.75"/><circle cx="170" cy="768.9" r="4.75"/><circle cx="166.8" cy="770.4" r="4.75"/><circle cx="163.7" cy="775" r="4.75"/><circle cx="165.3" cy="766.1" r="4.75"/><circle cx="164.8" cy="769.3" r="4.75"/><circle cx="172.4" cy="768.3" r="4.75"/><circle cx="156.1" cy="775.8" r="4.75"/><circle cx="159.9" cy="766.2" r="4.75"/><circle cx="168.4" cy="775.8" r="4.75"/><circle cx="161.6" cy="767.2" r="4.75"/><circle cx="169.9" cy="769.2" r="4.75"/><circle cx="156.1" cy="765.8" r="4.75"/><circle cx="170.3" cy="768" r="4.75"/><circle cx="153.4" cy="769.4" r="4.75"/><circle cx="166.3" cy="776.7" r="4.75"/><circle cx="155.4" cy="772.3" r="4.75"/><circle cx="156.7" cy="775.1" r="4.75"/><circle cx="161.5" cy="773.1" r="4.75"/><circle cx="169.3" cy="771.4" r="4.75"/><circle cx="161.2" cy="765.4" r="4.75"/><circle cx="154.4" cy="773.2" r="4.75"/><circle cx="167.6" cy="771.9" r="4.75"/><circle cx="175.3" cy="771.3" r="4.75"/><circle cx="214.1" cy="771.1" r="4.75"/><circle cx="209.4" cy="770.1" r="4.75"/><circle cx="189.9" cy="768.9" r="4.75"/><circle cx="182.2" cy="770.6" r="4.75"/><circle cx="189.4" cy="771.3" r="4.75"/><circle cx="184.2" cy="768.5" r="4.75"/><circle cx="177.1" cy="768.7" r="4.75"/><circle cx="210.7" cy="771" r="4.75"/><circle cx="217.4" cy="766.6" r="4.75"/><circle cx="206.2" cy="769.6" r="4.75"/><circle cx="189.9" cy="772" r="4.75"/><circle cx="206" cy="768.3" r="4.75"/><circle cx="213.2" cy="768.8" r="4.75"/><circle cx="195.8" cy="769.4" r="4.75"/><circle cx="196" cy="767" r="4.75"/><circle cx="212.7" cy="768.1" r="4.75"/><circle cx="194.8" cy="767.8" r="4.75"/><circle cx="200.5" cy="767.1" r="4.75"/><circle cx="174.4" cy="768.4" r="4.75"/><circle cx="215.6" cy="770.1" r="4.75"/><circle cx="208" cy="767.1" r="4.75"/><circle cx="194.8" cy="770.8" r="4.75"/><circle cx="209.1" cy="769" r="4.75"/><circle cx="176.7" cy="769.3" r="4.75"/><circle cx="218.9" cy="771.1" r="4.75"/><circle cx="202.7" cy="768.6" r="4.75"/><circle cx="202.1" cy="769.8" r="4.75"/><circle cx="195.3" cy="771.4" r="4.75"/><circle cx="200.3" cy="767.2" r="4.75"/><circle cx="208.5" cy="770.3" r="4.75"/><circle cx="177.9" cy="770" r="4.75"/><circle cx="220.4" cy="769.8" r="4.75"/><circle cx="205.6" cy="769.2" r="4.75"/><circle cx="193.5" cy="772.2" r="4.75"/><circle cx="186.6" cy="769.5" r="4.75"/><circle cx="177.5" cy="770" r="4.75"/><circle cx="205.1" cy="770.3" r="4.75"/><circle cx="220.4" cy="767.7" r="4.75"/><circle cx="183" cy="769" r="4.75"/><circle cx="202.5" cy="775.2" r="4.75"/><circle cx="200.5" cy="769.3" r="4.75"/><circle cx="213" cy="768.4" r="4.75"/><circle cx="204.5" cy="768.6" r="4.75"/><circle cx="202.3" cy="767.2" r="4.75"/><circle cx="210.4" cy="763.1" r="4.75"/><circle cx="198.2" cy="773.8" r="4.75"/><circle cx="208.7" cy="768.6" r="4.75"/><circle cx="204.8" cy="769.3" r="4.75"/><circle cx="201.3" cy="768.8" r="4.75"/><circle cx="202.8" cy="770.9" r="4.75"/><circle cx="202.5" cy="770.8" r="4.75"/><circle cx="197.8" cy="776.2" r="4.75"/><circle cx="197.4" cy="769.3" r="4.75"/><circle cx="203.2" cy="764.7" r="4.75"/><circle cx="145.6" cy="770.3" r="4.75"/><circle cx="139.3" cy="777.8" r="4.75"/><circle cx="140.3" cy="780.3" r="4.75"/><circle cx="158.8" cy="771.5" r="4.75"/><circle cx="137.9" cy="783.2" r="4.75"/><circle cx="122.4" cy="766.8" r="4.75"/><circle cx="137.7" cy="773.6" r="4.75"/><circle cx="150" cy="782.8" r="4.75"/><circle cx="138.6" cy="772.4" r="4.75"/><circle cx="133.2" cy="772.3" r="4.75"/><circle cx="146.1" cy="788" r="4.75"/><circle cx="142.5" cy="783.1" r="4.75"/><circle cx="141.6" cy="764.9" r="4.75"/><circle cx="130.5" cy="773.5" r="4.75"/><circle cx="131.1" cy="779.8" r="4.75"/><circle cx="126.4" cy="767.7" r="4.75"/><circle cx="124.3" cy="783.4" r="4.75"/><circle cx="127.9" cy="773.5" r="4.75"/><circle cx="124.7" cy="764.2" r="4.75"/><circle cx="140" cy="765.5" r="4.75"/><circle cx="135.5" cy="768.4" r="4.75"/><circle cx="126.5" cy="772.5" r="4.75"/><circle cx="132.1" cy="774.5" r="4.75"/><circle cx="138.8" cy="765.2" r="4.75"/><circle cx="132.7" cy="774" r="4.75"/><circle cx="147.9" cy="760.5" r="4.75"/><circle cx="139.8" cy="778.4" r="4.75"/><circle cx="135" cy="776.4" r="4.75"/><circle cx="142" cy="762.7" r="4.75"/><circle cx="147.5" cy="765.6" r="4.75"/><circle cx="128.6" cy="782.9" r="4.75"/><circle cx="145.3" cy="777.8" r="4.75"/><circle cx="132.7" cy="771.4" r="4.75"/><circle cx="133.7" cy="780.4" r="4.75"/><circle cx="138.8" cy="773.8" r="4.75"/><circle cx="132.1" cy="772" r="4.75"/><circle cx="141.1" cy="778.7" r="4.75"/><circle cx="147.4" cy="762" r="4.75"/><circle cx="147.7" cy="770.1" r="4.75"/><circle cx="136.5" cy="762.3" r="4.75"/><circle cx="141.7" cy="779.6" r="4.75"/><circle cx="133.4" cy="785" r="4.75"/><circle cx="138.8" cy="766.9" r="4.75"/><circle cx="141.1" cy="776.2" r="4.75"/><circle cx="141.9" cy="772.3" r="4.75"/><circle cx="155.3" cy="767.2" r="4.75"/><circle cx="148.4" cy="798.2" r="4.75"/><circle cx="125.3" cy="767.3" r="4.75"/><circle cx="136" cy="772.5" r="4.75"/><circle cx="124.3" cy="769" r="4.75"/><circle cx="131.8" cy="759.4" r="4.75"/><circle cx="138" cy="770.9" r="4.75"/><circle cx="134.6" cy="768.8" r="4.75"/><circle cx="142.4" cy="764.2" r="4.75"/><circle cx="145" cy="772" r="4.75"/><circle cx="146" cy="758.7" r="4.75"/><circle cx="145.5" cy="767.5" r="4.75"/><circle cx="131" cy="761.3" r="4.75"/><circle cx="121.2" cy="772.2" r="4.75"/><circle cx="139.5" cy="776.3" r="4.75"/><circle cx="125.4" cy="763.5" r="4.75"/><circle cx="139.4" cy="771.3" r="4.75"/><circle cx="143.7" cy="771.6" r="4.75"/><circle cx="127.1" cy="780.2" r="4.75"/><circle cx="142.1" cy="771.4" r="4.75"/><circle cx="121.4" cy="781.6" r="4.75"/><circle cx="141.4" cy="765.4" r="4.75"/><circle cx="134.5" cy="785" r="4.75"/><circle cx="138.8" cy="778.4" r="4.75"/><circle cx="142.3" cy="772.1" r="4.75"/><circle cx="126.3" cy="774.4" r="4.75"/><circle cx="137.6" cy="761.5" r="4.75"/><circle cx="137.4" cy="779.1" r="4.75"/><circle cx="136.4" cy="775.7" r="4.75"/><circle cx="147.8" cy="787.6" r="4.75"/><circle cx="141.2" cy="757.9" r="4.75"/><circle cx="134.9" cy="766" r="4.75"/><circle cx="135.7" cy="762.5" r="4.75"/><circle cx="138.9" cy="762.2" r="4.75"/><circle cx="133.3" cy="768.7" r="4.75"/><circle cx="145.1" cy="762.9" r="4.75"/><circle cx="130" cy="769.3" r="4.75"/><circle cx="131.5" cy="765.1" r="4.75"/><circle cx="138.8" cy="784.1" r="4.75"/><circle cx="131.2" cy="758.9" r="4.75"/><circle cx="145" cy="771.4" r="4.75"/><circle cx="133.3" cy="769.9" r="4.75"/><circle cx="127.5" cy="760" r="4.75"/><circle cx="134.6" cy="772.4" r="4.75"/><circle cx="134.2" cy="764.5" r="4.75"/><circle cx="141.7" cy="783.1" r="4.75"/><circle cx="127.4" cy="776.5" r="4.75"/><circle cx="128.4" cy="766.9" r="4.75"/><circle cx="133" cy="766.2" r="4.75"/><circle cx="137.5" cy="779.9" r="4.75"/><circle cx="138.9" cy="765.5" r="4.75"/><circle cx="138.7" cy="777" r="4.75"/><circle cx="133.3" cy="775" r="4.75"/><circle cx="124.9" cy="773.5" r="4.75"/><circle cx="140" cy="771.6" r="4.75"/><circle cx="135.7" cy="776" r="4.75"/><circle cx="123.9" cy="781.9" r="4.75"/><circle cx="141.7" cy="779.3" r="4.75"/><circle cx="121.1" cy="778.1" r="4.75"/><circle cx="148.6" cy="758.9" r="4.75"/><circle cx="137" cy="768.2" r="4.75"/><circle cx="154.4" cy="784.3" r="4.75"/><circle cx="137.4" cy="774.2" r="4.75"/><circle cx="127.3" cy="765.2" r="4.75"/><circle cx="140.7" cy="778.6" r="4.75"/><circle cx="128" cy="776.1" r="4.75"/><circle cx="133.2" cy="774.7" r="4.75"/><circle cx="131.7" cy="766.2" r="4.75"/><circle cx="152.3" cy="755.2" r="4.75"/><circle cx="150.8" cy="774.5" r="4.75"/><circle cx="135.7" cy="765.5" r="4.75"/><circle cx="129.7" cy="768.8" r="4.75"/><circle cx="141.3" cy="766.5" r="4.75"/><circle cx="132" cy="767.2" r="4.75"/><circle cx="140.2" cy="767.7" r="4.75"/><circle cx="141.5" cy="770.2" r="4.75"/><circle cx="117.4" cy="789.2" r="4.75"/><circle cx="116.2" cy="793.2" r="4.75"/><circle cx="152.2" cy="824.6" r="4.75"/><circle cx="140.3" cy="790.5" r="4.75"/><circle cx="147" cy="772.9" r="4.75"/><circle cx="124.8" cy="784.1" r="4.75"/><circle cx="140.4" cy="778.4" r="4.75"/><circle cx="134.6" cy="764.9" r="4.75"/><circle cx="140.3" cy="756.4" r="4.75"/><circle cx="138.3" cy="788.5" r="4.75"/><circle cx="146.9" cy="792.4" r="4.75"/><circle cx="132.9" cy="799.1" r="4.75"/><circle cx="117.1" cy="781.5" r="4.75"/><circle cx="151.9" cy="789.8" r="4.75"/><circle cx="138.7" cy="792" r="4.75"/><circle cx="169.6" cy="756.6" r="4.75"/><circle cx="120.4" cy="768" r="4.75"/><circle cx="115.8" cy="769.2" r="4.75"/><circle cx="144.5" cy="770.4" r="4.75"/><circle cx="150.6" cy="774.6" r="4.75"/><circle cx="126" cy="792" r="4.75"/><circle cx="127.6" cy="774.2" r="4.75"/><circle cx="118.7" cy="805.4" r="4.75"/><circle cx="116" cy="762.6" r="4.75"/><circle cx="125.7" cy="764.9" r="4.75"/><circle cx="146.1" cy="789.8" r="4.75"/><circle cx="142.3" cy="795" r="4.75"/><circle cx="137.2" cy="771" r="4.75"/><circle cx="144.2" cy="753.4" r="4.75"/><circle cx="146.3" cy="771.4" r="4.75"/><circle cx="128.3" cy="782.5" r="4.75"/><circle cx="134.5" cy="766.6" r="4.75"/><circle cx="139.6" cy="786.3" r="4.75"/><circle cx="162.8" cy="763.1" r="4.75"/><circle cx="121.6" cy="754.7" r="4.75"/><circle cx="127.5" cy="799.8" r="4.75"/><circle cx="145.3" cy="766.7" r="4.75"/><circle cx="139.8" cy="783.7" r="4.75"/><circle cx="124.3" cy="782.3" r="4.75"/><circle cx="127.5" cy="794.8" r="4.75"/><circle cx="150.6" cy="762" r="4.75"/><circle cx="126.8" cy="792.1" r="4.75"/><circle cx="149.2" cy="806.8" r="4.75"/><circle cx="150.2" cy="778.7" r="4.75"/><circle cx="136.7" cy="746.2" r="4.75"/><circle cx="156" cy="777.7" r="4.75"/><circle cx="147" cy="784.7" r="4.75"/><circle cx="140.5" cy="770.4" r="4.75"/><circle cx="145.6" cy="758.9" r="4.75"/><circle cx="127.1" cy="778.4" r="4.75"/><circle cx="128.2" cy="773.8" r="4.75"/><circle cx="137.2" cy="777.7" r="4.75"/><circle cx="144.9" cy="793.1" r="4.75"/><circle cx="116.6" cy="800.1" r="4.75"/><circle cx="137" cy="787.3" r="4.75"/><circle cx="133.5" cy="750.4" r="4.75"/><circle cx="147.9" cy="785.2" r="4.75"/><circle cx="133.8" cy="817.1" r="4.75"/><circle cx="125.3" cy="749.9" r="4.75"/><circle cx="129.3" cy="807.1" r="4.75"/><circle cx="137.5" cy="747.6" r="4.75"/><circle cx="129.8" cy="780.3" r="4.75"/><circle cx="126.3" cy="785.9" r="4.75"/><circle cx="129" cy="766.7" r="4.75"/><circle cx="135.1" cy="763.6" r="4.75"/><circle cx="122.5" cy="770.5" r="4.75"/><circle cx="150.6" cy="772.8" r="4.75"/><circle cx="134.2" cy="787.9" r="4.75"/><circle cx="127.8" cy="798.1" r="4.75"/></g>
<line class="ln" x1="116.9" y1="771.3" x2="497.8" y2="761.5" stroke-dasharray="30.5 33.1"/>
<path class="ax" d="M98 547 V989.5 H521.8"/>
<line class="tkm" x1="91.4" y1="578.7" x2="98" y2="578.7"/>
<text class="tk" text-anchor="end" x="84.5" y="587">20</text>
<line class="tkm" x1="91.4" y1="674.8" x2="98" y2="674.8"/>
<text class="tk" text-anchor="end" x="84.5" y="683">10</text>
<line class="tkm" x1="91.4" y1="770.8" x2="98" y2="770.8"/>
<text class="tk" text-anchor="end" x="84.5" y="779.1">0</text>
<line class="tkm" x1="91.4" y1="866.8" x2="98" y2="866.8"/>
<text class="tk" text-anchor="end" x="84.5" y="875.1">−10</text>
<line class="tkm" x1="91.4" y1="962.9" x2="98" y2="962.9"/>
<text class="tk" text-anchor="end" x="84.5" y="971.2">−20</text>
<line class="tkm" x1="106.2" y1="989.5" x2="106.2" y2="996.1"/>
<text class="tk" text-anchor="middle" x="106.2" y="1018">0</text>
<line class="tkm" x1="212.7" y1="989.5" x2="212.7" y2="996.1"/>
<text class="tk" text-anchor="middle" x="212.7" y="1018">1</text>
<line class="tkm" x1="319.6" y1="989.5" x2="319.6" y2="996.1"/>
<text class="tk" text-anchor="middle" x="319.6" y="1018">2</text>
<line class="tkm" x1="426.4" y1="989.5" x2="426.4" y2="996.1"/>
<text class="tk" text-anchor="middle" x="426.4" y="1018">3</text>
<text class="tt" text-anchor="middle" x="309.9" y="1050">Rooting Depth (m)</text>
<text class="tt" text-anchor="middle" transform="translate(35 768.2) rotate(-90)">Cover Change (%)</text>
</g>
<g id="panel6">
<polygon class="rb" points="646.6,768.3 802,763.6 1015.2,732.4 1015.2,796.1 802,775.4 646.6,772.3"/>
<g class="p"><circle cx="688.4" cy="574.1" r="4.75"/><circle cx="705.3" cy="593.4" r="4.75"/><circle cx="711.3" cy="593.4" r="4.75"/><circle cx="886.3" cy="611.6" r="4.75"/><circle cx="738" cy="626.7" r="4.75"/><circle cx="680" cy="646.3" r="4.75"/><circle cx="725.8" cy="657.7" r="4.75"/><circle cx="746.4" cy="659.1" r="4.75"/><circle cx="768" cy="679.7" r="4.75"/><circle cx="698.5" cy="694.5" r="4.75"/><circle cx="746.7" cy="695.2" r="4.75"/><circle cx="725.8" cy="700.6" r="4.75"/><circle cx="686.7" cy="703.6" r="4.75"/><circle cx="701.2" cy="707.3" r="4.75"/><circle cx="704.6" cy="713" r="4.75"/><circle cx="707" cy="719.1" r="4.75"/><circle cx="712" cy="723.8" r="4.75"/><circle cx="777.1" cy="708" r="4.75"/><circle cx="787.9" cy="719.1" r="4.75"/><circle cx="791.2" cy="723.1" r="4.75"/><circle cx="728.9" cy="728.2" r="4.75"/><circle cx="735.6" cy="732.6" r="4.75"/><circle cx="777.8" cy="732.2" r="4.75"/><circle cx="780.1" cy="734.9" r="4.75"/><circle cx="786.9" cy="731.6" r="4.75"/><circle cx="882.9" cy="713" r="4.75"/><circle cx="861" cy="735.9" r="4.75"/><circle cx="882.9" cy="738.3" r="4.75"/><circle cx="882.9" cy="746.7" r="4.75"/><circle cx="669.9" cy="734.9" r="4.75"/><circle cx="687.4" cy="734.3" r="4.75"/><circle cx="669.9" cy="746.1" r="4.75"/><circle cx="698.5" cy="743.4" r="4.75"/><circle cx="713" cy="745" r="4.75"/><circle cx="745.7" cy="742.3" r="4.75"/><circle cx="754.2" cy="742.3" r="4.75"/><circle cx="803" cy="749.4" r="4.75"/><circle cx="728.9" cy="750.1" r="4.75"/><circle cx="735.6" cy="746.7" r="4.75"/><circle cx="739" cy="751.8" r="4.75"/><circle cx="861" cy="757.5" r="4.75"/><circle cx="860.3" cy="780.4" r="4.75"/><circle cx="882.9" cy="765.3" r="4.75"/><circle cx="882.9" cy="781.1" r="4.75"/><circle cx="883.6" cy="781.1" r="4.75"/><circle cx="841.8" cy="782.1" r="4.75"/><circle cx="848.5" cy="798.3" r="4.75"/><circle cx="872.1" cy="790.6" r="4.75"/><circle cx="872.1" cy="801.3" r="4.75"/><circle cx="872.8" cy="801.3" r="4.75"/><circle cx="882.9" cy="821.6" r="4.75"/><circle cx="861" cy="862" r="4.75"/><circle cx="932.8" cy="784.5" r="4.75"/><circle cx="933.5" cy="791.6" r="4.75"/><circle cx="1030.6" cy="771" r="4.75"/><circle cx="811.5" cy="773.7" r="4.75"/><circle cx="822.6" cy="778.8" r="4.75"/><circle cx="831.7" cy="765.9" r="4.75"/><circle cx="650.3" cy="794.6" r="4.75"/><circle cx="658.8" cy="818.5" r="4.75"/><circle cx="674.3" cy="818.5" r="4.75"/><circle cx="670.9" cy="830.3" r="4.75"/><circle cx="689.1" cy="816.8" r="4.75"/><circle cx="682.4" cy="844.5" r="4.75"/><circle cx="710.3" cy="857.3" r="4.75"/><circle cx="727.9" cy="865.4" r="4.75"/><circle cx="728.9" cy="838.1" r="4.75"/><circle cx="731.6" cy="844.5" r="4.75"/><circle cx="701.9" cy="895.4" r="4.75"/><circle cx="726.5" cy="919.7" r="4.75"/><circle cx="727.2" cy="923" r="4.75"/><circle cx="760.9" cy="914.6" r="4.75"/><circle cx="770.3" cy="926.4" r="4.75"/><circle cx="786.9" cy="911.2" r="4.75"/><circle cx="791.2" cy="914.6" r="4.75"/><circle cx="786.9" cy="923" r="4.75"/><circle cx="713.7" cy="810.8" r="4.75"/><circle cx="722.1" cy="818.5" r="4.75"/><circle cx="733.9" cy="810.8" r="4.75"/><circle cx="742.4" cy="817.5" r="4.75"/><circle cx="756.9" cy="820.2" r="4.75"/><circle cx="771" cy="816.8" r="4.75"/><circle cx="776.1" cy="813.5" r="4.75"/><circle cx="786.9" cy="793.9" r="4.75"/><circle cx="791.2" cy="790.6" r="4.75"/><circle cx="777.8" cy="787.2" r="4.75"/><circle cx="762.6" cy="788.9" r="4.75"/><circle cx="749.1" cy="786.2" r="4.75"/><circle cx="705.3" cy="799" r="4.75"/><circle cx="723.8" cy="800.7" r="4.75"/><circle cx="732.2" cy="805.7" r="4.75"/><circle cx="735.6" cy="799" r="4.75"/><circle cx="686.7" cy="785.5" r="4.75"/><circle cx="674.9" cy="790.6" r="4.75"/><circle cx="670.9" cy="787.9" r="4.75"/><circle cx="648" cy="778.8" r="4.75"/><circle cx="642.9" cy="769.3" r="4.75"/><circle cx="652" cy="762.9" r="4.75"/><circle cx="725.5" cy="793.9" r="4.75"/><circle cx="728.9" cy="797.3" r="4.75"/><circle cx="732.2" cy="790.6" r="4.75"/><circle cx="735.6" cy="787.2" r="4.75"/><circle cx="727.2" cy="790.6" r="4.75"/><circle cx="678.6" cy="774.6" r="4.75"/><circle cx="647.1" cy="775.1" r="4.75"/><circle cx="683.7" cy="764.9" r="4.75"/><circle cx="683" cy="773.5" r="4.75"/><circle cx="654.8" cy="775.4" r="4.75"/><circle cx="662.9" cy="769.4" r="4.75"/><circle cx="676" cy="772.2" r="4.75"/><circle cx="680.3" cy="767.4" r="4.75"/><circle cx="668.3" cy="765.8" r="4.75"/><circle cx="658.8" cy="769.9" r="4.75"/><circle cx="649.7" cy="768.3" r="4.75"/><circle cx="683.4" cy="766.3" r="4.75"/><circle cx="666" cy="764.7" r="4.75"/><circle cx="679.9" cy="765.4" r="4.75"/><circle cx="654.6" cy="772.8" r="4.75"/><circle cx="666.4" cy="770.6" r="4.75"/><circle cx="674" cy="770" r="4.75"/><circle cx="665.6" cy="766" r="4.75"/><circle cx="652.8" cy="766.6" r="4.75"/><circle cx="657.4" cy="767.9" r="4.75"/><circle cx="686.9" cy="766.7" r="4.75"/><circle cx="652.3" cy="767.3" r="4.75"/><circle cx="652.3" cy="773.8" r="4.75"/><circle cx="689.7" cy="773" r="4.75"/><circle cx="689.7" cy="770.6" r="4.75"/><circle cx="666.9" cy="768.7" r="4.75"/><circle cx="676" cy="767" r="4.75"/><circle cx="670.1" cy="768.7" r="4.75"/><circle cx="676.7" cy="774.2" r="4.75"/><circle cx="676.2" cy="765.9" r="4.75"/><circle cx="673.3" cy="772.6" r="4.75"/><circle cx="670.8" cy="765" r="4.75"/><circle cx="650.6" cy="770.4" r="4.75"/><circle cx="678.9" cy="769.9" r="4.75"/><circle cx="679.4" cy="770.6" r="4.75"/><circle cx="683.8" cy="766.7" r="4.75"/><circle cx="684.1" cy="772.8" r="4.75"/><circle cx="651.5" cy="766.8" r="4.75"/><circle cx="659.7" cy="773.3" r="4.75"/><circle cx="675.3" cy="765" r="4.75"/><circle cx="679.8" cy="767.8" r="4.75"/><circle cx="685.6" cy="767.4" r="4.75"/><circle cx="650.9" cy="768.1" r="4.75"/><circle cx="667.3" cy="769.2" r="4.75"/><circle cx="670.7" cy="765.5" r="4.75"/><circle cx="658.7" cy="764.7" r="4.75"/><circle cx="691.2" cy="769.8" r="4.75"/><circle cx="659.3" cy="766.2" r="4.75"/><circle cx="673.8" cy="764.3" r="4.75"/><circle cx="653.5" cy="771.9" r="4.75"/><circle cx="670.3" cy="772.4" r="4.75"/><circle cx="684.9" cy="768" r="4.75"/><circle cx="681" cy="773.5" r="4.75"/><circle cx="683.9" cy="770.4" r="4.75"/><circle cx="681" cy="764.6" r="4.75"/><circle cx="655" cy="770.9" r="4.75"/><circle cx="671.5" cy="771.3" r="4.75"/><circle cx="665.2" cy="764.8" r="4.75"/><circle cx="660.9" cy="766.5" r="4.75"/><circle cx="676.6" cy="767" r="4.75"/><circle cx="680.9" cy="770.4" r="4.75"/><circle cx="664" cy="771.3" r="4.75"/><circle cx="686.8" cy="768.1" r="4.75"/><circle cx="648.9" cy="774.1" r="4.75"/><circle cx="659.5" cy="774.5" r="4.75"/><circle cx="668" cy="768.9" r="4.75"/><circle cx="684.6" cy="765.6" r="4.75"/><circle cx="685.7" cy="767.4" r="4.75"/><circle cx="681.6" cy="775.2" r="4.75"/><circle cx="684.4" cy="768.1" r="4.75"/><circle cx="741.7" cy="770.5" r="4.75"/><circle cx="707.1" cy="767.4" r="4.75"/><circle cx="696.2" cy="772.5" r="4.75"/><circle cx="714.7" cy="771.2" r="4.75"/><circle cx="737.5" cy="769" r="4.75"/><circle cx="693.2" cy="771.9" r="4.75"/><circle cx="696.3" cy="771.9" r="4.75"/><circle cx="719.8" cy="769" r="4.75"/><circle cx="725.9" cy="761.9" r="4.75"/><circle cx="710.3" cy="764.3" r="4.75"/><circle cx="702.9" cy="762.5" r="4.75"/><circle cx="703.2" cy="776.9" r="4.75"/><circle cx="742.2" cy="772.3" r="4.75"/><circle cx="731.8" cy="760.5" r="4.75"/><circle cx="709.3" cy="774.3" r="4.75"/><circle cx="738.6" cy="761.3" r="4.75"/><circle cx="742.9" cy="779.2" r="4.75"/><circle cx="696.4" cy="768.1" r="4.75"/><circle cx="738.9" cy="766.9" r="4.75"/><circle cx="700.3" cy="771.6" r="4.75"/><circle cx="724" cy="775.3" r="4.75"/><circle cx="703.2" cy="770.1" r="4.75"/><circle cx="701.8" cy="778.6" r="4.75"/><circle cx="738.6" cy="778.8" r="4.75"/><circle cx="698.8" cy="763.7" r="4.75"/><circle cx="733.9" cy="769.4" r="4.75"/><circle cx="735.6" cy="772.8" r="4.75"/><circle cx="693.6" cy="762.5" r="4.75"/><circle cx="729.3" cy="765.6" r="4.75"/><circle cx="712.5" cy="772.3" r="4.75"/><circle cx="694.6" cy="762.2" r="4.75"/><circle cx="717" cy="760.6" r="4.75"/><circle cx="709.6" cy="767.8" r="4.75"/><circle cx="696.9" cy="761.9" r="4.75"/><circle cx="731.1" cy="773.6" r="4.75"/><circle cx="717.1" cy="769.1" r="4.75"/><circle cx="739" cy="769.4" r="4.75"/><circle cx="700.9" cy="770.1" r="4.75"/><circle cx="717.1" cy="771" r="4.75"/><circle cx="709.7" cy="770" r="4.75"/><circle cx="693.9" cy="773.4" r="4.75"/><circle cx="737.6" cy="774.6" r="4.75"/><circle cx="735.1" cy="779.4" r="4.75"/><circle cx="717.2" cy="768.5" r="4.75"/><circle cx="730.1" cy="764.5" r="4.75"/><circle cx="707.5" cy="771.9" r="4.75"/><circle cx="693.6" cy="779.3" r="4.75"/><circle cx="739.8" cy="770.2" r="4.75"/><circle cx="723.8" cy="767" r="4.75"/><circle cx="715.5" cy="762.1" r="4.75"/><circle cx="709.8" cy="763.9" r="4.75"/><circle cx="712.6" cy="773.1" r="4.75"/><circle cx="736.1" cy="761.8" r="4.75"/><circle cx="698.7" cy="772.4" r="4.75"/><circle cx="740.2" cy="771.2" r="4.75"/><circle cx="718.6" cy="777.1" r="4.75"/><circle cx="702.4" cy="760.3" r="4.75"/><circle cx="717.8" cy="771.7" r="4.75"/><circle cx="698.1" cy="773.7" r="4.75"/><circle cx="723.5" cy="776.5" r="4.75"/><circle cx="708.9" cy="761.5" r="4.75"/><circle cx="703.5" cy="764.8" r="4.75"/><circle cx="708.8" cy="772.9" r="4.75"/><circle cx="705.8" cy="779.5" r="4.75"/><circle cx="700.5" cy="777.3" r="4.75"/><circle cx="704.3" cy="778.3" r="4.75"/><circle cx="703.5" cy="771" r="4.75"/><circle cx="704.5" cy="774.2" r="4.75"/><circle cx="723.4" cy="774.5" r="4.75"/><circle cx="712.6" cy="763.4" r="4.75"/><circle cx="708.3" cy="776.9" r="4.75"/><circle cx="717.7" cy="763.6" r="4.75"/><circle cx="695.8" cy="770.4" r="4.75"/><circle cx="734.7" cy="773.5" r="4.75"/><circle cx="732.2" cy="761.5" r="4.75"/><circle cx="714.5" cy="766.1" r="4.75"/><circle cx="703.8" cy="778.7" r="4.75"/><circle cx="735.9" cy="767.1" r="4.75"/><circle cx="742.8" cy="764.3" r="4.75"/><circle cx="734.7" cy="769.2" r="4.75"/><circle cx="714" cy="779.5" r="4.75"/><circle cx="732.7" cy="773.8" r="4.75"/><circle cx="725.8" cy="772.8" r="4.75"/><circle cx="734.1" cy="773.9" r="4.75"/><circle cx="709.9" cy="771.9" r="4.75"/><circle cx="713.5" cy="764.2" r="4.75"/><circle cx="696.3" cy="778.1" r="4.75"/><circle cx="713.4" cy="770.3" r="4.75"/><circle cx="700" cy="770.9" r="4.75"/><circle cx="737.9" cy="773.9" r="4.75"/><circle cx="725.7" cy="771.3" r="4.75"/><circle cx="692.4" cy="760.4" r="4.75"/><circle cx="697.1" cy="772.1" r="4.75"/><circle cx="735" cy="778.8" r="4.75"/><circle cx="729.5" cy="774.4" r="4.75"/><circle cx="701.5" cy="761.5" r="4.75"/><circle cx="731.5" cy="765.3" r="4.75"/><circle cx="725.2" cy="777.7" r="4.75"/><circle cx="695.1" cy="775.6" r="4.75"/><circle cx="708.6" cy="771.1" r="4.75"/><circle cx="713.3" cy="772.1" r="4.75"/><circle cx="727.3" cy="772.7" r="4.75"/><circle cx="728.4" cy="772.1" r="4.75"/><circle cx="732.6" cy="770" r="4.75"/><circle cx="719.2" cy="770.3" r="4.75"/><circle cx="697.5" cy="766.8" r="4.75"/><circle cx="707.5" cy="769.4" r="4.75"/><circle cx="695.1" cy="771.3" r="4.75"/><circle cx="707.1" cy="769.9" r="4.75"/><circle cx="738.8" cy="772.3" r="4.75"/><circle cx="714.7" cy="769.9" r="4.75"/><circle cx="693.7" cy="766.8" r="4.75"/><circle cx="720" cy="766.9" r="4.75"/><circle cx="727.4" cy="767.5" r="4.75"/><circle cx="703.3" cy="771.7" r="4.75"/><circle cx="699.4" cy="771.7" r="4.75"/><circle cx="692.5" cy="769.9" r="4.75"/><circle cx="714.3" cy="768.3" r="4.75"/><circle cx="708.6" cy="772.3" r="4.75"/><circle cx="703" cy="768" r="4.75"/><circle cx="714.4" cy="769.3" r="4.75"/><circle cx="713.9" cy="770.2" r="4.75"/><circle cx="721.5" cy="768.3" r="4.75"/><circle cx="718.4" cy="770.4" r="4.75"/><circle cx="733.9" cy="768.4" r="4.75"/><circle cx="698.7" cy="768.9" r="4.75"/><circle cx="733.1" cy="769.7" r="4.75"/><circle cx="710.1" cy="770.3" r="4.75"/><circle cx="695.8" cy="768.5" r="4.75"/><circle cx="739.9" cy="769.9" r="4.75"/><circle cx="725.9" cy="767.4" r="4.75"/><circle cx="696.3" cy="773.2" r="4.75"/><circle cx="695.9" cy="771.7" r="4.75"/><circle cx="698" cy="770.6" r="4.75"/><circle cx="716.2" cy="768" r="4.75"/><circle cx="713.3" cy="773.3" r="4.75"/><circle cx="722.4" cy="771.5" r="4.75"/><circle cx="691.9" cy="772.9" r="4.75"/><circle cx="716.4" cy="770.5" r="4.75"/><circle cx="713.5" cy="768" r="4.75"/><circle cx="758.9" cy="772" r="4.75"/><circle cx="805.9" cy="770.9" r="4.75"/><circle cx="805.7" cy="769" r="4.75"/><circle cx="761.3" cy="769.7" r="4.75"/><circle cx="748.3" cy="764.9" r="4.75"/><circle cx="747.7" cy="770" r="4.75"/><circle cx="799.8" cy="768.7" r="4.75"/><circle cx="775.2" cy="769.8" r="4.75"/><circle cx="747.3" cy="771.4" r="4.75"/><circle cx="796.5" cy="763.7" r="4.75"/><circle cx="800.7" cy="769.3" r="4.75"/><circle cx="775.1" cy="764.4" r="4.75"/><circle cx="782.4" cy="770.7" r="4.75"/><circle cx="798.6" cy="765.6" r="4.75"/><circle cx="760.2" cy="773.9" r="4.75"/><circle cx="805.9" cy="767.7" r="4.75"/><circle cx="785.4" cy="765.7" r="4.75"/><circle cx="792.6" cy="773.4" r="4.75"/><circle cx="755.5" cy="767.8" r="4.75"/><circle cx="802.1" cy="765.3" r="4.75"/><circle cx="793" cy="769.4" r="4.75"/><circle cx="792" cy="768.1" r="4.75"/><circle cx="804" cy="771.5" r="4.75"/><circle cx="784" cy="766.2" r="4.75"/><circle cx="801.4" cy="773.4" r="4.75"/><circle cx="776.4" cy="764.6" r="4.75"/><circle cx="767.2" cy="770.4" r="4.75"/><circle cx="798.5" cy="773" r="4.75"/><circle cx="775.7" cy="768.2" r="4.75"/><circle cx="785.3" cy="772.4" r="4.75"/><circle cx="784.7" cy="770.2" r="4.75"/><circle cx="767.9" cy="772.1" r="4.75"/><circle cx="761.9" cy="767.2" r="4.75"/><circle cx="751.6" cy="770.8" r="4.75"/><circle cx="745.6" cy="773.3" r="4.75"/><circle cx="764.2" cy="772.3" r="4.75"/><circle cx="778.2" cy="764.6" r="4.75"/><circle cx="801.6" cy="769.4" r="4.75"/><circle cx="781.8" cy="772.6" r="4.75"/><circle cx="801" cy="767.9" r="4.75"/><circle cx="774.4" cy="770.4" r="4.75"/><circle cx="753.2" cy="765.5" r="4.75"/><circle cx="764.8" cy="773.2" r="4.75"/><circle cx="800.3" cy="772.6" r="4.75"/><circle cx="803.8" cy="770.1" r="4.75"/><circle cx="728.8" cy="784.5" r="4.75"/><circle cx="707.1" cy="761.8" r="4.75"/><circle cx="700.1" cy="773.6" r="4.75"/><circle cx="713.8" cy="767.7" r="4.75"/><circle cx="715.7" cy="774.6" r="4.75"/><circle cx="722.4" cy="759.7" r="4.75"/><circle cx="720.2" cy="763.9" r="4.75"/><circle cx="716.2" cy="773.8" r="4.75"/><circle cx="720.9" cy="758.9" r="4.75"/><circle cx="722.6" cy="793.2" r="4.75"/><circle cx="710.8" cy="765.7" r="4.75"/><circle cx="711.4" cy="804.1" r="4.75"/><circle cx="737.8" cy="797" r="4.75"/><circle cx="693.3" cy="755.8" r="4.75"/><circle cx="734.6" cy="750.7" r="4.75"/><circle cx="707.7" cy="799.2" r="4.75"/><circle cx="732.6" cy="795.3" r="4.75"/><circle cx="731.8" cy="757.9" r="4.75"/><circle cx="710" cy="793.8" r="4.75"/><circle cx="710.4" cy="784.6" r="4.75"/><circle cx="714.8" cy="752.2" r="4.75"/><circle cx="736.2" cy="788.7" r="4.75"/><circle cx="706.3" cy="763.2" r="4.75"/><circle cx="727.2" cy="776.7" r="4.75"/><circle cx="718.1" cy="774" r="4.75"/><circle cx="739.4" cy="761.2" r="4.75"/><circle cx="708.3" cy="763.2" r="4.75"/><circle cx="710" cy="775.2" r="4.75"/><circle cx="710.3" cy="759.3" r="4.75"/><circle cx="709.9" cy="764.5" r="4.75"/><circle cx="723.3" cy="781" r="4.75"/><circle cx="715" cy="767.6" r="4.75"/><circle cx="726.8" cy="782.5" r="4.75"/><circle cx="709.8" cy="755.1" r="4.75"/><circle cx="711.2" cy="757.2" r="4.75"/><circle cx="730.1" cy="798" r="4.75"/><circle cx="725" cy="766.7" r="4.75"/><circle cx="711.6" cy="791.9" r="4.75"/><circle cx="694.1" cy="768.2" r="4.75"/><circle cx="725.3" cy="778.2" r="4.75"/><circle cx="735.3" cy="782.7" r="4.75"/><circle cx="733.7" cy="789.8" r="4.75"/><circle cx="700.4" cy="764.4" r="4.75"/><circle cx="691.8" cy="768.5" r="4.75"/><circle cx="726.4" cy="775.8" r="4.75"/><circle cx="738.4" cy="765.9" r="4.75"/><circle cx="733.7" cy="784.5" r="4.75"/><circle cx="721.5" cy="744.7" r="4.75"/><circle cx="736.9" cy="775.7" r="4.75"/><circle cx="721.6" cy="784.1" r="4.75"/><circle cx="720.1" cy="794.9" r="4.75"/><circle cx="737.7" cy="755.8" r="4.75"/><circle cx="729.2" cy="776.7" r="4.75"/><circle cx="738.3" cy="764.3" r="4.75"/><circle cx="726.3" cy="772.8" r="4.75"/><circle cx="721.3" cy="744.9" r="4.75"/><circle cx="723.4" cy="783.6" r="4.75"/><circle cx="725.5" cy="759.3" r="4.75"/><circle cx="721.5" cy="801.4" r="4.75"/><circle cx="737.6" cy="806.2" r="4.75"/><circle cx="721.9" cy="790.7" r="4.75"/><circle cx="729.9" cy="775" r="4.75"/><circle cx="728.9" cy="769.4" r="4.75"/><circle cx="735.1" cy="769.2" r="4.75"/><circle cx="731.6" cy="786" r="4.75"/><circle cx="724.8" cy="763.4" r="4.75"/><circle cx="722.5" cy="776.7" r="4.75"/><circle cx="726.1" cy="770.6" r="4.75"/><circle cx="730.5" cy="756.2" r="4.75"/><circle cx="729.1" cy="765.4" r="4.75"/><circle cx="734.6" cy="763.7" r="4.75"/><circle cx="726.6" cy="798.4" r="4.75"/><circle cx="734.4" cy="784.4" r="4.75"/><circle cx="736.6" cy="805" r="4.75"/><circle cx="735" cy="746.2" r="4.75"/><circle cx="719.2" cy="749" r="4.75"/><circle cx="723.6" cy="775.2" r="4.75"/><circle cx="731.5" cy="740.6" r="4.75"/><circle cx="725.2" cy="801.6" r="4.75"/><circle cx="727" cy="787.6" r="4.75"/></g>
<line class="ln" x1="646.6" y1="770.3" x2="1015.2" y2="764.7" stroke-dasharray="30.5 33.1"/>
<path class="ax" d="M624.7 547 V989.5 H1049"/>
<line class="tkm" x1="618.1" y1="578.7" x2="624.7" y2="578.7"/>
<text class="tk" text-anchor="end" x="611.2" y="587">20</text>
<line class="tkm" x1="618.1" y1="674.8" x2="624.7" y2="674.8"/>
<text class="tk" text-anchor="end" x="611.2" y="683">10</text>
<line class="tkm" x1="618.1" y1="770.8" x2="624.7" y2="770.8"/>
<text class="tk" text-anchor="end" x="611.2" y="779.1">0</text>
<line class="tkm" x1="618.1" y1="866.8" x2="624.7" y2="866.8"/>
<text class="tk" text-anchor="end" x="611.2" y="875.1">−10</text>
<line class="tkm" x1="618.1" y1="962.9" x2="624.7" y2="962.9"/>
<text class="tk" text-anchor="end" x="611.2" y="971.2">−20</text>
<line class="tkm" x1="714.7" y1="989.5" x2="714.7" y2="996.1"/>
<text class="tk" text-anchor="middle" x="714.7" y="1018">0.3</text>
<line class="tkm" x1="829.3" y1="989.5" x2="829.3" y2="996.1"/>
<text class="tk" text-anchor="middle" x="829.3" y="1018">0.6</text>
<line class="tkm" x1="943.9" y1="989.5" x2="943.9" y2="996.1"/>
<text class="tk" text-anchor="middle" x="943.9" y="1018">0.9</text>
<text class="tt" text-anchor="middle" x="836.9" y="1050">Root Diameter (mm)</text>
<text class="tt" text-anchor="middle" transform="translate(561.7 768.2) rotate(-90)">Cover Change (%)</text>
</g>
<g id="panel7">
<polygon class="rb" points="1175.2,760.8 1275.7,763.6 1397.1,750.1 1549.7,723 1549.7,766.9 1397.1,761.6 1275.7,769.7 1175.2,787.8"/>
<g class="p"><circle cx="1359" cy="573.1" r="4.75"/><circle cx="1259.9" cy="591.7" r="4.75"/><circle cx="1473.9" cy="591.7" r="4.75"/><circle cx="1344.8" cy="609.2" r="4.75"/><circle cx="1274" cy="623.7" r="4.75"/><circle cx="1561.6" cy="642.6" r="4.75"/><circle cx="1262.9" cy="654" r="4.75"/><circle cx="1302.7" cy="655" r="4.75"/><circle cx="1311.8" cy="675.3" r="4.75"/><circle cx="1243.7" cy="688.8" r="4.75"/><circle cx="1259.6" cy="690.1" r="4.75"/><circle cx="1263.3" cy="695.5" r="4.75"/><circle cx="1240.3" cy="703.6" r="4.75"/><circle cx="1255.5" cy="702.2" r="4.75"/><circle cx="1258.9" cy="708" r="4.75"/><circle cx="1250.4" cy="714.7" r="4.75"/><circle cx="1255.5" cy="717.4" r="4.75"/><circle cx="1303.7" cy="708" r="4.75"/><circle cx="1449.3" cy="698.5" r="4.75"/><circle cx="1333" cy="717.4" r="4.75"/><circle cx="1344.8" cy="714" r="4.75"/><circle cx="1216.7" cy="724.8" r="4.75"/><circle cx="1240.3" cy="725.8" r="4.75"/><circle cx="1268" cy="726.5" r="4.75"/><circle cx="1287.5" cy="722.5" r="4.75"/><circle cx="1352.6" cy="729.2" r="4.75"/><circle cx="1398.8" cy="728.9" r="4.75"/><circle cx="1403.1" cy="737.3" r="4.75"/><circle cx="1488.8" cy="728.2" r="4.75"/><circle cx="1477" cy="738.3" r="4.75"/><circle cx="1484" cy="740.7" r="4.75"/><circle cx="1252.1" cy="735.3" r="4.75"/><circle cx="1265.6" cy="735.3" r="4.75"/><circle cx="1289.2" cy="735.3" r="4.75"/><circle cx="1300" cy="731.6" r="4.75"/><circle cx="1304.4" cy="734.9" r="4.75"/><circle cx="1307.8" cy="739" r="4.75"/><circle cx="1243.7" cy="743.4" r="4.75"/><circle cx="1281.5" cy="744" r="4.75"/><circle cx="1252.1" cy="746.7" r="4.75"/><circle cx="1182" cy="756.2" r="4.75"/><circle cx="1193.1" cy="751.8" r="4.75"/><circle cx="1193.1" cy="757.5" r="4.75"/><circle cx="1215.1" cy="760.2" r="4.75"/><circle cx="1235.3" cy="757.5" r="4.75"/><circle cx="1216.7" cy="778.8" r="4.75"/><circle cx="1216.7" cy="787.2" r="4.75"/><circle cx="1215.7" cy="803.4" r="4.75"/><circle cx="1226.9" cy="799" r="4.75"/><circle cx="1240.3" cy="791.6" r="4.75"/><circle cx="1238.7" cy="807.4" r="4.75"/><circle cx="1237" cy="810.1" r="4.75"/><circle cx="1269" cy="803.4" r="4.75"/><circle cx="1269.7" cy="811.4" r="4.75"/><circle cx="1280.8" cy="809.1" r="4.75"/><circle cx="1285.8" cy="828.6" r="4.75"/><circle cx="1303.7" cy="812.5" r="4.75"/><circle cx="1309.4" cy="835.4" r="4.75"/><circle cx="1310.1" cy="835.4" r="4.75"/><circle cx="1306.1" cy="847.2" r="4.75"/><circle cx="1298.7" cy="852.2" r="4.75"/><circle cx="1266.3" cy="855.3" r="4.75"/><circle cx="1193.8" cy="884.9" r="4.75"/><circle cx="1216.7" cy="900.1" r="4.75"/><circle cx="1216.7" cy="911.9" r="4.75"/><circle cx="1226.9" cy="911.9" r="4.75"/><circle cx="1255.5" cy="903.5" r="4.75"/><circle cx="1263.3" cy="907.9" r="4.75"/><circle cx="1270.7" cy="903.5" r="4.75"/><circle cx="1417.3" cy="914.3" r="4.75"/><circle cx="1417.3" cy="809.1" r="4.75"/><circle cx="1353.3" cy="808.1" r="4.75"/><circle cx="1362.4" cy="821.6" r="4.75"/><circle cx="1327.3" cy="792.2" r="4.75"/><circle cx="1328" cy="792.9" r="4.75"/><circle cx="1314.5" cy="789.9" r="4.75"/><circle cx="1329.7" cy="780.4" r="4.75"/><circle cx="1336.4" cy="772" r="4.75"/><circle cx="1352.6" cy="780.4" r="4.75"/><circle cx="1362.4" cy="778.8" r="4.75"/><circle cx="1362.4" cy="787.2" r="4.75"/><circle cx="1375.2" cy="782.1" r="4.75"/><circle cx="1379.6" cy="787.9" r="4.75"/><circle cx="1390.3" cy="789.9" r="4.75"/><circle cx="1390.3" cy="795.6" r="4.75"/><circle cx="1398.8" cy="780.4" r="4.75"/><circle cx="1414.6" cy="779.4" r="4.75"/><circle cx="1407.2" cy="763.6" r="4.75"/><circle cx="1435.8" cy="763.6" r="4.75"/><circle cx="1444.3" cy="763.6" r="4.75"/><circle cx="1468.9" cy="778.1" r="4.75"/><circle cx="1470.6" cy="771" r="4.75"/><circle cx="1478" cy="767" r="4.75"/><circle cx="1494.8" cy="760.2" r="4.75"/><circle cx="1495.8" cy="767" r="4.75"/><circle cx="1495.8" cy="763.6" r="4.75"/><circle cx="1495.8" cy="773.7" r="4.75"/><circle cx="1510" cy="768.6" r="4.75"/><circle cx="1523.5" cy="770.3" r="4.75"/><circle cx="1524.2" cy="770.3" r="4.75"/><circle cx="1533.6" cy="763.6" r="4.75"/><circle cx="1539.3" cy="767" r="4.75"/><circle cx="1561.6" cy="771" r="4.75"/><circle cx="1553.8" cy="810.1" r="4.75"/><circle cx="1495.8" cy="810.1" r="4.75"/><circle cx="1360" cy="750.1" r="4.75"/><circle cx="1363.4" cy="749.4" r="4.75"/><circle cx="1378.5" cy="745" r="4.75"/><circle cx="1380.2" cy="744" r="4.75"/><circle cx="1467.2" cy="757.5" r="4.75"/><circle cx="1262.2" cy="790.6" r="4.75"/><circle cx="1275.7" cy="789.9" r="4.75"/><circle cx="1276.4" cy="790.6" r="4.75"/><circle cx="1292.6" cy="780.4" r="4.75"/><circle cx="1300" cy="782.1" r="4.75"/><circle cx="1307.8" cy="784.5" r="4.75"/><circle cx="1258.9" cy="782.1" r="4.75"/><circle cx="1255.9" cy="769.1" r="4.75"/><circle cx="1311.7" cy="766.1" r="4.75"/><circle cx="1274" cy="763.3" r="4.75"/><circle cx="1247.6" cy="776.5" r="4.75"/><circle cx="1294.9" cy="760.8" r="4.75"/><circle cx="1282.6" cy="769.1" r="4.75"/><circle cx="1306.7" cy="760.3" r="4.75"/><circle cx="1261.1" cy="762.3" r="4.75"/><circle cx="1282.3" cy="772.6" r="4.75"/><circle cx="1293.4" cy="759.1" r="4.75"/><circle cx="1265.6" cy="760.2" r="4.75"/><circle cx="1249.3" cy="768.2" r="4.75"/><circle cx="1248.8" cy="764.6" r="4.75"/><circle cx="1255.7" cy="766.6" r="4.75"/><circle cx="1302.7" cy="759.9" r="4.75"/><circle cx="1284.1" cy="764" r="4.75"/><circle cx="1259.4" cy="764.3" r="4.75"/><circle cx="1296.8" cy="770.2" r="4.75"/><circle cx="1293.3" cy="771.2" r="4.75"/><circle cx="1292.9" cy="761.7" r="4.75"/><circle cx="1254.9" cy="768.9" r="4.75"/><circle cx="1283.8" cy="770.3" r="4.75"/><circle cx="1306.6" cy="768.7" r="4.75"/><circle cx="1312" cy="766.3" r="4.75"/><circle cx="1289.4" cy="770.1" r="4.75"/><circle cx="1275.2" cy="771.1" r="4.75"/><circle cx="1304.2" cy="764.3" r="4.75"/><circle cx="1263.3" cy="765.3" r="4.75"/><circle cx="1284" cy="766.7" r="4.75"/><circle cx="1275" cy="764.5" r="4.75"/><circle cx="1293.7" cy="767.9" r="4.75"/><circle cx="1308.9" cy="771.2" r="4.75"/><circle cx="1238" cy="767.6" r="4.75"/><circle cx="1294.1" cy="765.4" r="4.75"/><circle cx="1284.5" cy="761.7" r="4.75"/><circle cx="1266.6" cy="772.8" r="4.75"/><circle cx="1288.5" cy="771.4" r="4.75"/><circle cx="1307.5" cy="770.6" r="4.75"/><circle cx="1303.5" cy="770.9" r="4.75"/><circle cx="1305.9" cy="770.9" r="4.75"/><circle cx="1268.8" cy="765.3" r="4.75"/><circle cx="1271.2" cy="770.9" r="4.75"/><circle cx="1312.1" cy="766.3" r="4.75"/><circle cx="1269.9" cy="759.9" r="4.75"/><circle cx="1247.1" cy="761.5" r="4.75"/><circle cx="1248.5" cy="760.3" r="4.75"/><circle cx="1267.6" cy="763.7" r="4.75"/><circle cx="1309.9" cy="758" r="4.75"/><circle cx="1244.1" cy="775.1" r="4.75"/><circle cx="1307.8" cy="764" r="4.75"/><circle cx="1278.4" cy="763.4" r="4.75"/><circle cx="1267.5" cy="763.4" r="4.75"/><circle cx="1244.8" cy="776.4" r="4.75"/><circle cx="1303.6" cy="770" r="4.75"/><circle cx="1248.3" cy="770.6" r="4.75"/><circle cx="1241.6" cy="772.4" r="4.75"/><circle cx="1242.3" cy="770.6" r="4.75"/><circle cx="1249.2" cy="776.1" r="4.75"/><circle cx="1307.1" cy="762.7" r="4.75"/><circle cx="1307.6" cy="768.4" r="4.75"/><circle cx="1250.6" cy="774" r="4.75"/><circle cx="1304.4" cy="760.1" r="4.75"/><circle cx="1288.4" cy="762.1" r="4.75"/><circle cx="1239" cy="768.4" r="4.75"/><circle cx="1247.4" cy="773.6" r="4.75"/><circle cx="1290.8" cy="760.9" r="4.75"/><circle cx="1268" cy="759.8" r="4.75"/><circle cx="1264.4" cy="768.8" r="4.75"/><circle cx="1300.8" cy="772" r="4.75"/><circle cx="1284.8" cy="764.7" r="4.75"/><circle cx="1304.3" cy="765.4" r="4.75"/><circle cx="1299.3" cy="762.1" r="4.75"/><circle cx="1305.3" cy="759.1" r="4.75"/><circle cx="1267.3" cy="762.5" r="4.75"/><circle cx="1265.9" cy="768.9" r="4.75"/><circle cx="1308.8" cy="756.3" r="4.75"/><circle cx="1281.7" cy="761.3" r="4.75"/><circle cx="1300" cy="768.3" r="4.75"/><circle cx="1311.4" cy="771.1" r="4.75"/><circle cx="1286.8" cy="761.5" r="4.75"/><circle cx="1292.2" cy="764.7" r="4.75"/><circle cx="1257.4" cy="765" r="4.75"/><circle cx="1305.7" cy="763.5" r="4.75"/><circle cx="1247.7" cy="766.5" r="4.75"/><circle cx="1247.4" cy="765.5" r="4.75"/><circle cx="1294.4" cy="764.6" r="4.75"/><circle cx="1260.1" cy="766.3" r="4.75"/><circle cx="1258" cy="767.7" r="4.75"/><circle cx="1280.6" cy="763" r="4.75"/><circle cx="1269" cy="769.3" r="4.75"/><circle cx="1291.8" cy="765.1" r="4.75"/><circle cx="1267.6" cy="765.7" r="4.75"/><circle cx="1248.3" cy="767" r="4.75"/><circle cx="1246" cy="765.4" r="4.75"/><circle cx="1246.2" cy="771.8" r="4.75"/><circle cx="1310.6" cy="760.5" r="4.75"/><circle cx="1264.1" cy="764.6" r="4.75"/><circle cx="1263.9" cy="767.9" r="4.75"/><circle cx="1255.4" cy="767.5" r="4.75"/><circle cx="1250.5" cy="768.3" r="4.75"/><circle cx="1248.5" cy="767.2" r="4.75"/><circle cx="1268.7" cy="765.3" r="4.75"/><circle cx="1274.6" cy="768.2" r="4.75"/><circle cx="1270.3" cy="769" r="4.75"/><circle cx="1249.9" cy="769.7" r="4.75"/><circle cx="1300.6" cy="767.4" r="4.75"/><circle cx="1290" cy="763.9" r="4.75"/><circle cx="1290" cy="766" r="4.75"/><circle cx="1267.6" cy="767.6" r="4.75"/><circle cx="1240.5" cy="765.7" r="4.75"/><circle cx="1251" cy="771" r="4.75"/><circle cx="1238.5" cy="767.5" r="4.75"/><circle cx="1295.8" cy="767.3" r="4.75"/><circle cx="1269" cy="766.8" r="4.75"/><circle cx="1306.7" cy="762.5" r="4.75"/><circle cx="1245.1" cy="767.1" r="4.75"/><circle cx="1292.6" cy="763.8" r="4.75"/><circle cx="1281.2" cy="763" r="4.75"/><circle cx="1300.5" cy="767.5" r="4.75"/><circle cx="1306.2" cy="761.6" r="4.75"/><circle cx="1310.9" cy="766.2" r="4.75"/><circle cx="1254.3" cy="767.4" r="4.75"/><circle cx="1249.2" cy="767.4" r="4.75"/><circle cx="1295.8" cy="762" r="4.75"/><circle cx="1287.6" cy="767.3" r="4.75"/><circle cx="1241.1" cy="766.6" r="4.75"/><circle cx="1297.1" cy="766.8" r="4.75"/><circle cx="1259" cy="770.2" r="4.75"/><circle cx="1286.4" cy="762.2" r="4.75"/><circle cx="1293.2" cy="762.8" r="4.75"/><circle cx="1262.9" cy="769.4" r="4.75"/><circle cx="1238.1" cy="771.4" r="4.75"/><circle cx="1264.3" cy="767.9" r="4.75"/><circle cx="1259.5" cy="768" r="4.75"/><circle cx="1254.3" cy="768.5" r="4.75"/><circle cx="1270.9" cy="767.4" r="4.75"/><circle cx="1237.1" cy="770.8" r="4.75"/><circle cx="1254.3" cy="770.1" r="4.75"/><circle cx="1273.5" cy="767.6" r="4.75"/><circle cx="1270.3" cy="764.2" r="4.75"/><circle cx="1404.8" cy="758.5" r="4.75"/><circle cx="1404.3" cy="758.1" r="4.75"/><circle cx="1352.4" cy="759.3" r="4.75"/><circle cx="1387.3" cy="761.1" r="4.75"/><circle cx="1386.2" cy="754.9" r="4.75"/><circle cx="1337.9" cy="760.3" r="4.75"/><circle cx="1317.5" cy="760" r="4.75"/><circle cx="1348" cy="757.2" r="4.75"/><circle cx="1335.1" cy="762.2" r="4.75"/><circle cx="1378.3" cy="756.6" r="4.75"/><circle cx="1392.7" cy="752.4" r="4.75"/><circle cx="1318.6" cy="759.8" r="4.75"/><circle cx="1386.4" cy="754.9" r="4.75"/><circle cx="1382.9" cy="756.1" r="4.75"/><circle cx="1388.4" cy="757.5" r="4.75"/><circle cx="1332" cy="766.1" r="4.75"/><circle cx="1406.8" cy="760.4" r="4.75"/><circle cx="1355.2" cy="761" r="4.75"/><circle cx="1339" cy="764.8" r="4.75"/><circle cx="1349.6" cy="761.2" r="4.75"/><circle cx="1368.5" cy="763.5" r="4.75"/><circle cx="1355.1" cy="759.3" r="4.75"/><circle cx="1399.9" cy="752.9" r="4.75"/><circle cx="1318.7" cy="761.1" r="4.75"/><circle cx="1317.4" cy="767.3" r="4.75"/><circle cx="1359.9" cy="763.2" r="4.75"/><circle cx="1318.9" cy="762.5" r="4.75"/><circle cx="1388.4" cy="752.6" r="4.75"/><circle cx="1385.6" cy="762.4" r="4.75"/><circle cx="1392.4" cy="753.7" r="4.75"/><circle cx="1359.5" cy="759.9" r="4.75"/><circle cx="1358.7" cy="763.3" r="4.75"/><circle cx="1343" cy="758" r="4.75"/><circle cx="1400.9" cy="757.2" r="4.75"/><circle cx="1375.6" cy="759" r="4.75"/><circle cx="1370.5" cy="755.1" r="4.75"/><circle cx="1324.3" cy="758.9" r="4.75"/><circle cx="1355.7" cy="755.7" r="4.75"/><circle cx="1393.4" cy="753.6" r="4.75"/><circle cx="1392" cy="759.2" r="4.75"/><circle cx="1330.7" cy="759.8" r="4.75"/><circle cx="1372.8" cy="763.7" r="4.75"/><circle cx="1348.5" cy="758" r="4.75"/><circle cx="1331.6" cy="765" r="4.75"/><circle cx="1327" cy="757.9" r="4.75"/><circle cx="1218.1" cy="773.1" r="4.75"/><circle cx="1191.2" cy="772.6" r="4.75"/><circle cx="1180.4" cy="772.3" r="4.75"/><circle cx="1182.1" cy="774" r="4.75"/><circle cx="1203.7" cy="772.1" r="4.75"/><circle cx="1231.7" cy="768.8" r="4.75"/><circle cx="1193.4" cy="768" r="4.75"/><circle cx="1211.1" cy="772.4" r="4.75"/><circle cx="1224.3" cy="769.5" r="4.75"/><circle cx="1202.4" cy="772.4" r="4.75"/><circle cx="1221.6" cy="768.4" r="4.75"/><circle cx="1196.6" cy="775.8" r="4.75"/><circle cx="1190" cy="769.4" r="4.75"/><circle cx="1205.6" cy="771.9" r="4.75"/><circle cx="1196.9" cy="775.3" r="4.75"/><circle cx="1291.1" cy="776.4" r="4.75"/><circle cx="1292.5" cy="766.5" r="4.75"/><circle cx="1314" cy="771" r="4.75"/><circle cx="1279.1" cy="761.9" r="4.75"/><circle cx="1286.6" cy="769.3" r="4.75"/><circle cx="1268.2" cy="766.4" r="4.75"/><circle cx="1283.1" cy="759.9" r="4.75"/><circle cx="1254.8" cy="755.5" r="4.75"/><circle cx="1279.2" cy="768.8" r="4.75"/><circle cx="1295.3" cy="772.4" r="4.75"/><circle cx="1293" cy="757.7" r="4.75"/><circle cx="1265.8" cy="776.4" r="4.75"/><circle cx="1270.5" cy="761.2" r="4.75"/><circle cx="1301.3" cy="751.1" r="4.75"/><circle cx="1267.6" cy="764.2" r="4.75"/><circle cx="1284.6" cy="760.7" r="4.75"/><circle cx="1252" cy="759.1" r="4.75"/><circle cx="1277.4" cy="771.2" r="4.75"/><circle cx="1271.6" cy="769.4" r="4.75"/><circle cx="1310.5" cy="759.2" r="4.75"/><circle cx="1264.5" cy="765.1" r="4.75"/><circle cx="1255.7" cy="782.8" r="4.75"/><circle cx="1303.2" cy="751" r="4.75"/><circle cx="1291.8" cy="772.9" r="4.75"/><circle cx="1268.2" cy="750.8" r="4.75"/><circle cx="1294.7" cy="778.8" r="4.75"/><circle cx="1299.3" cy="761" r="4.75"/><circle cx="1286.4" cy="764.6" r="4.75"/><circle cx="1263" cy="747.3" r="4.75"/><circle cx="1277.4" cy="741.8" r="4.75"/><circle cx="1260.9" cy="760" r="4.75"/><circle cx="1277.3" cy="756.8" r="4.75"/><circle cx="1296.4" cy="774.2" r="4.75"/><circle cx="1257.9" cy="775.5" r="4.75"/><circle cx="1303" cy="755.3" r="4.75"/><circle cx="1271.3" cy="759.4" r="4.75"/><circle cx="1287.5" cy="764.9" r="4.75"/><circle cx="1276.3" cy="770.5" r="4.75"/><circle cx="1262.7" cy="774.5" r="4.75"/><circle cx="1312.2" cy="766.6" r="4.75"/><circle cx="1276.1" cy="775.5" r="4.75"/><circle cx="1240.9" cy="776.6" r="4.75"/><circle cx="1264.3" cy="768.9" r="4.75"/><circle cx="1257.1" cy="775.8" r="4.75"/><circle cx="1295.9" cy="763.8" r="4.75"/><circle cx="1289" cy="760.9" r="4.75"/><circle cx="1275.8" cy="757.9" r="4.75"/><circle cx="1247.2" cy="758.6" r="4.75"/><circle cx="1284.6" cy="768" r="4.75"/><circle cx="1293.2" cy="778.6" r="4.75"/><circle cx="1495.6" cy="768.7" r="4.75"/><circle cx="1495.3" cy="766.7" r="4.75"/><circle cx="1494.4" cy="772.8" r="4.75"/><circle cx="1495.1" cy="765.6" r="4.75"/><circle cx="1494.8" cy="769.5" r="4.75"/><circle cx="1494.9" cy="771.7" r="4.75"/></g>
<line class="ln" x1="1175.2" y1="774" x2="1549.7" y2="745.2" style="stroke-width:7"/>
<path class="ax" d="M1155.4 547 V975.3 H1580.8"/>
<line class="tkm" x1="1148.8" y1="577.8" x2="1155.4" y2="577.8"/>
<text class="tk" text-anchor="end" x="1141.9" y="586.1">20</text>
<line class="tkm" x1="1148.8" y1="670.7" x2="1155.4" y2="670.7"/>
<text class="tk" text-anchor="end" x="1141.9" y="679">10</text>
<line class="tkm" x1="1148.8" y1="763.6" x2="1155.4" y2="763.6"/>
<text class="tk" text-anchor="end" x="1141.9" y="771.9">0</text>
<line class="tkm" x1="1148.8" y1="856.5" x2="1155.4" y2="856.5"/>
<text class="tk" text-anchor="end" x="1141.9" y="864.8">−10</text>
<line class="tkm" x1="1148.8" y1="949.4" x2="1155.4" y2="949.4"/>
<text class="tk" text-anchor="end" x="1141.9" y="957.7">−20</text>
<line class="tkm" x1="1157.1" y1="975.3" x2="1157.1" y2="981.9"/>
<text class="tk" text-anchor="middle" x="1157.1" y="1003.8">0.0</text>
<line class="tkm" x1="1296" y1="975.3" x2="1296" y2="981.9"/>
<text class="tk" text-anchor="middle" x="1296" y="1003.8">0.2</text>
<line class="tkm" x1="1434.8" y1="975.3" x2="1434.8" y2="981.9"/>
<text class="tk" text-anchor="middle" x="1434.8" y="1003.8">0.4</text>
<line class="tkm" x1="1573.7" y1="975.3" x2="1573.7" y2="981.9"/>
<text class="tk" text-anchor="middle" x="1573.7" y="1003.8">0.6</text>
<text class="tt" style="font-size:27.3px" text-anchor="middle" x="1368.1" y="1043.3">Root Tissue Density (g/cm<tspan class="sup" dy="-13">3</tspan><tspan dy="13">)</tspan></text>
<text class="tt" text-anchor="middle" transform="translate(1092.4 761.1) rotate(-90)">Cover Change (%)</text>
</g>
<g id="panel8">
<polygon class="rb" points="1700.3,769.7 1866.1,758.7 2079,731 2079,789.7 1866.1,776.9 1700.3,773.7"/>
<g class="p"><circle cx="1756.9" cy="574.1" r="4.75"/><circle cx="1710.4" cy="593.4" r="4.75"/><circle cx="1847.9" cy="593.4" r="4.75"/><circle cx="1772.8" cy="611.6" r="4.75"/><circle cx="1794.7" cy="626.7" r="4.75"/><circle cx="1815.9" cy="646.3" r="4.75"/><circle cx="1778.8" cy="657.7" r="4.75"/><circle cx="1793.7" cy="659.1" r="4.75"/><circle cx="1763.3" cy="679.7" r="4.75"/><circle cx="1750.9" cy="694.5" r="4.75"/><circle cx="1765.3" cy="695.2" r="4.75"/><circle cx="1779.5" cy="700.6" r="4.75"/><circle cx="1714.8" cy="703.9" r="4.75"/><circle cx="1755.2" cy="708" r="4.75"/><circle cx="1791.3" cy="713" r="4.75"/><circle cx="1783.6" cy="719.8" r="4.75"/><circle cx="1767.7" cy="723.1" r="4.75"/><circle cx="1825" cy="713" r="4.75"/><circle cx="1863.8" cy="707.3" r="4.75"/><circle cx="1921.1" cy="719.8" r="4.75"/><circle cx="1930.2" cy="723.8" r="4.75"/><circle cx="1718.2" cy="730.6" r="4.75"/><circle cx="1712.1" cy="735.9" r="4.75"/><circle cx="1710.4" cy="745" r="4.75"/><circle cx="1748.5" cy="728.2" r="4.75"/><circle cx="1755.9" cy="732.2" r="4.75"/><circle cx="1761" cy="732.2" r="4.75"/><circle cx="1761.6" cy="741.7" r="4.75"/><circle cx="1747.5" cy="743.4" r="4.75"/><circle cx="1742.4" cy="751.8" r="4.75"/><circle cx="1777.1" cy="734.9" r="4.75"/><circle cx="1785.2" cy="744" r="4.75"/><circle cx="1785.6" cy="749.4" r="4.75"/><circle cx="1804.8" cy="741.7" r="4.75"/><circle cx="1812.5" cy="734.3" r="4.75"/><circle cx="1830.1" cy="734.3" r="4.75"/><circle cx="1824" cy="738.3" r="4.75"/><circle cx="1823.3" cy="744" r="4.75"/><circle cx="1825" cy="753.5" r="4.75"/><circle cx="1921.8" cy="751.8" r="4.75"/><circle cx="1939.6" cy="756.2" r="4.75"/><circle cx="2087.9" cy="750.1" r="4.75"/><circle cx="2077.8" cy="765.9" r="4.75"/><circle cx="2037.4" cy="769.3" r="4.75"/><circle cx="2019.5" cy="773.7" r="4.75"/><circle cx="1971" cy="775.4" r="4.75"/><circle cx="1956.5" cy="778.1" r="4.75"/><circle cx="1971" cy="761.9" r="4.75"/><circle cx="1944.7" cy="772" r="4.75"/><circle cx="1934.6" cy="761.9" r="4.75"/><circle cx="1921.1" cy="771" r="4.75"/><circle cx="1892.4" cy="761.9" r="4.75"/><circle cx="1886.4" cy="757.5" r="4.75"/><circle cx="1860.4" cy="756.2" r="4.75"/><circle cx="1862.1" cy="763.6" r="4.75"/><circle cx="1865.5" cy="785.5" r="4.75"/><circle cx="1866.5" cy="786.2" r="4.75"/><circle cx="1908.6" cy="786.2" r="4.75"/><circle cx="1946.4" cy="794.9" r="4.75"/><circle cx="1940.3" cy="811.4" r="4.75"/><circle cx="1908.6" cy="814.1" r="4.75"/><circle cx="1924.4" cy="817.5" r="4.75"/><circle cx="2077.8" cy="819.2" r="4.75"/><circle cx="1704.3" cy="818.5" r="4.75"/><circle cx="1707" cy="803.4" r="4.75"/><circle cx="1706" cy="797.3" r="4.75"/><circle cx="1706" cy="790.6" r="4.75"/><circle cx="1717.1" cy="795.6" r="4.75"/><circle cx="1718.2" cy="787.2" r="4.75"/><circle cx="1747.5" cy="818.5" r="4.75"/><circle cx="1758.3" cy="816.8" r="4.75"/><circle cx="1743.1" cy="799.7" r="4.75"/><circle cx="1762.7" cy="798.3" r="4.75"/><circle cx="1777.8" cy="817.5" r="4.75"/><circle cx="1799.7" cy="819.9" r="4.75"/><circle cx="1794" cy="830.3" r="4.75"/><circle cx="1781.2" cy="838.1" r="4.75"/><circle cx="1825" cy="821.6" r="4.75"/><circle cx="1812.2" cy="810.8" r="4.75"/><circle cx="1817.3" cy="798.3" r="4.75"/><circle cx="1828.4" cy="800.7" r="4.75"/><circle cx="1829.1" cy="800.7" r="4.75"/><circle cx="1830.1" cy="790.6" r="4.75"/><circle cx="1835.1" cy="789.9" r="4.75"/><circle cx="1787.3" cy="800.7" r="4.75"/><circle cx="1788.6" cy="807.4" r="4.75"/><circle cx="1795.7" cy="799" r="4.75"/><circle cx="1778.5" cy="797.3" r="4.75"/><circle cx="1781.2" cy="785.5" r="4.75"/><circle cx="1789.6" cy="786.2" r="4.75"/><circle cx="1799.7" cy="789.9" r="4.75"/><circle cx="1803.1" cy="783.8" r="4.75"/><circle cx="1737.4" cy="844.5" r="4.75"/><circle cx="1743.1" cy="844.5" r="4.75"/><circle cx="1749.8" cy="857.3" r="4.75"/><circle cx="1712.1" cy="862.3" r="4.75"/><circle cx="1774.4" cy="865.4" r="4.75"/><circle cx="1769.4" cy="895.4" r="4.75"/><circle cx="1718.2" cy="911.2" r="4.75"/><circle cx="1718.2" cy="923" r="4.75"/><circle cx="1767.7" cy="914.6" r="4.75"/><circle cx="1781.9" cy="914.6" r="4.75"/><circle cx="1779.5" cy="919.7" r="4.75"/><circle cx="1777.8" cy="926.4" r="4.75"/><circle cx="1788.6" cy="923" r="4.75"/><circle cx="1728.9" cy="790.6" r="4.75"/><circle cx="1734" cy="788.9" r="4.75"/><circle cx="1941.3" cy="767" r="4.75"/><circle cx="1942" cy="763.6" r="4.75"/><circle cx="1943" cy="770.3" r="4.75"/><circle cx="1722.2" cy="775.7" r="4.75"/><circle cx="1848.1" cy="767.5" r="4.75"/><circle cx="1746.7" cy="766.9" r="4.75"/><circle cx="1713.9" cy="767.7" r="4.75"/><circle cx="1734.2" cy="776" r="4.75"/><circle cx="1732.3" cy="767.1" r="4.75"/><circle cx="1856.1" cy="774.5" r="4.75"/><circle cx="1717.4" cy="769.1" r="4.75"/><circle cx="1866.2" cy="767.2" r="4.75"/><circle cx="1805.7" cy="772.4" r="4.75"/><circle cx="1808.9" cy="763.8" r="4.75"/><circle cx="1821.7" cy="773.8" r="4.75"/><circle cx="1775.5" cy="768.3" r="4.75"/><circle cx="1821.6" cy="776.1" r="4.75"/><circle cx="1858.5" cy="764.8" r="4.75"/><circle cx="1827.7" cy="769.3" r="4.75"/><circle cx="1866" cy="775" r="4.75"/><circle cx="1781.5" cy="775.7" r="4.75"/><circle cx="1848.8" cy="763.8" r="4.75"/><circle cx="1768.4" cy="776.6" r="4.75"/><circle cx="1739.7" cy="770.3" r="4.75"/><circle cx="1805.9" cy="767.8" r="4.75"/><circle cx="1832.1" cy="765" r="4.75"/><circle cx="1800.6" cy="770.6" r="4.75"/><circle cx="1704.8" cy="775.7" r="4.75"/><circle cx="1832.9" cy="774.1" r="4.75"/><circle cx="1732.3" cy="771.7" r="4.75"/><circle cx="1725.6" cy="774.5" r="4.75"/><circle cx="1803.4" cy="775.2" r="4.75"/><circle cx="1723.2" cy="768.1" r="4.75"/><circle cx="1712.4" cy="777.4" r="4.75"/><circle cx="1808.6" cy="764.9" r="4.75"/><circle cx="1824.3" cy="768.8" r="4.75"/><circle cx="1767.8" cy="774.4" r="4.75"/><circle cx="1823.1" cy="769.3" r="4.75"/><circle cx="1749.4" cy="769.4" r="4.75"/><circle cx="1765.5" cy="766.4" r="4.75"/><circle cx="1729.2" cy="772.1" r="4.75"/><circle cx="1863.3" cy="769.9" r="4.75"/><circle cx="1768.1" cy="764.2" r="4.75"/><circle cx="1854.7" cy="766.4" r="4.75"/><circle cx="1749.8" cy="773.9" r="4.75"/><circle cx="1848.4" cy="763.8" r="4.75"/><circle cx="1712.2" cy="767.8" r="4.75"/><circle cx="1867.3" cy="768.8" r="4.75"/><circle cx="1717.5" cy="773.5" r="4.75"/><circle cx="1784.5" cy="764.9" r="4.75"/><circle cx="1711.5" cy="769.9" r="4.75"/><circle cx="1862.8" cy="767.8" r="4.75"/><circle cx="1866.7" cy="767" r="4.75"/><circle cx="1754.7" cy="765.4" r="4.75"/><circle cx="1801.9" cy="765.3" r="4.75"/><circle cx="1859.7" cy="770.5" r="4.75"/><circle cx="1703.9" cy="773.4" r="4.75"/><circle cx="1779.7" cy="772.5" r="4.75"/><circle cx="1801.8" cy="764.7" r="4.75"/><circle cx="1780.7" cy="772.1" r="4.75"/><circle cx="1714.6" cy="776.6" r="4.75"/><circle cx="1819.9" cy="765.4" r="4.75"/><circle cx="1713" cy="770.3" r="4.75"/><circle cx="1805.8" cy="771.6" r="4.75"/><circle cx="1720.2" cy="772.7" r="4.75"/><circle cx="1792.7" cy="765.7" r="4.75"/><circle cx="1784.8" cy="772" r="4.75"/><circle cx="1822.8" cy="764.3" r="4.75"/><circle cx="1712.6" cy="774.4" r="4.75"/><circle cx="1866" cy="769.5" r="4.75"/><circle cx="1849.8" cy="767.4" r="4.75"/><circle cx="1727.2" cy="773.5" r="4.75"/><circle cx="1746.9" cy="775.8" r="4.75"/><circle cx="1825.6" cy="763.4" r="4.75"/><circle cx="1752.6" cy="774.8" r="4.75"/><circle cx="1709.5" cy="767.9" r="4.75"/><circle cx="1706.5" cy="774.3" r="4.75"/><circle cx="1862.4" cy="771.6" r="4.75"/><circle cx="1850" cy="764.9" r="4.75"/><circle cx="1836" cy="775.9" r="4.75"/><circle cx="1838.1" cy="765.5" r="4.75"/><circle cx="1750.2" cy="776.8" r="4.75"/><circle cx="1816.6" cy="768.4" r="4.75"/><circle cx="1744.1" cy="764.8" r="4.75"/><circle cx="1830.6" cy="770.7" r="4.75"/><circle cx="1724.1" cy="766.4" r="4.75"/><circle cx="1866.5" cy="774.3" r="4.75"/><circle cx="1701.5" cy="767.3" r="4.75"/><circle cx="1847.8" cy="768.3" r="4.75"/><circle cx="1844.3" cy="768.9" r="4.75"/><circle cx="1764" cy="776.8" r="4.75"/><circle cx="1752.6" cy="776.8" r="4.75"/><circle cx="1830.4" cy="764.4" r="4.75"/><circle cx="1856.5" cy="775" r="4.75"/><circle cx="1720.6" cy="771.9" r="4.75"/><circle cx="1782.6" cy="766.9" r="4.75"/><circle cx="1823.9" cy="775.2" r="4.75"/><circle cx="1847.8" cy="773.2" r="4.75"/><circle cx="1769.8" cy="772.5" r="4.75"/><circle cx="1844.3" cy="766.7" r="4.75"/><circle cx="1827" cy="768.5" r="4.75"/><circle cx="1852.3" cy="767" r="4.75"/><circle cx="1792" cy="769.4" r="4.75"/><circle cx="1724.7" cy="771.2" r="4.75"/><circle cx="1823.8" cy="771.2" r="4.75"/><circle cx="1857.9" cy="772.8" r="4.75"/><circle cx="1720.8" cy="771.4" r="4.75"/><circle cx="1775.4" cy="763.9" r="4.75"/><circle cx="1858.7" cy="770.7" r="4.75"/><circle cx="1753.9" cy="772.5" r="4.75"/><circle cx="1811.3" cy="773.4" r="4.75"/><circle cx="1849.4" cy="770" r="4.75"/><circle cx="1787.1" cy="771.1" r="4.75"/><circle cx="1738.4" cy="764.8" r="4.75"/><circle cx="1824.5" cy="772.5" r="4.75"/><circle cx="1714.7" cy="769.6" r="4.75"/><circle cx="1739.3" cy="765.9" r="4.75"/><circle cx="1817.2" cy="768.3" r="4.75"/><circle cx="1753.5" cy="774" r="4.75"/><circle cx="1834.9" cy="766.3" r="4.75"/><circle cx="1794.9" cy="766.9" r="4.75"/><circle cx="1743.8" cy="767.8" r="4.75"/><circle cx="1750.1" cy="766.6" r="4.75"/><circle cx="1705.2" cy="773.9" r="4.75"/><circle cx="1783.6" cy="769.1" r="4.75"/><circle cx="1784.2" cy="772.6" r="4.75"/><circle cx="1717.1" cy="773.5" r="4.75"/><circle cx="1751" cy="768.3" r="4.75"/><circle cx="1863.9" cy="767.5" r="4.75"/><circle cx="1856.2" cy="766.6" r="4.75"/><circle cx="1722.3" cy="772.4" r="4.75"/><circle cx="1727.9" cy="772.8" r="4.75"/><circle cx="1771.4" cy="772.9" r="4.75"/><circle cx="1771.4" cy="771.3" r="4.75"/><circle cx="1753.9" cy="770" r="4.75"/><circle cx="1791.3" cy="769" r="4.75"/><circle cx="1798.1" cy="769" r="4.75"/><circle cx="1790.8" cy="768.2" r="4.75"/><circle cx="1753.2" cy="769.9" r="4.75"/><circle cx="1780.4" cy="773" r="4.75"/><circle cx="1864.8" cy="768.5" r="4.75"/><circle cx="1813.5" cy="771.3" r="4.75"/><circle cx="1844.3" cy="769.7" r="4.75"/><circle cx="1729.4" cy="772.1" r="4.75"/><circle cx="1766.7" cy="768.6" r="4.75"/><circle cx="1726.6" cy="772.6" r="4.75"/><circle cx="1742.2" cy="769.9" r="4.75"/><circle cx="1768.3" cy="769.5" r="4.75"/><circle cx="1789.4" cy="768.7" r="4.75"/><circle cx="1729.6" cy="772.2" r="4.75"/><circle cx="1713.3" cy="773.6" r="4.75"/><circle cx="1860.5" cy="766.7" r="4.75"/><circle cx="1803" cy="771.8" r="4.75"/><circle cx="1734.2" cy="773.7" r="4.75"/><circle cx="1760.5" cy="768.3" r="4.75"/><circle cx="1708.9" cy="770.6" r="4.75"/><circle cx="1749.1" cy="771.8" r="4.75"/><circle cx="1795.2" cy="771.7" r="4.75"/><circle cx="1802" cy="769" r="4.75"/><circle cx="1711.3" cy="773.5" r="4.75"/><circle cx="1752.8" cy="772.9" r="4.75"/><circle cx="1710.8" cy="770.3" r="4.75"/><circle cx="1851.6" cy="770.4" r="4.75"/><circle cx="1715.6" cy="772.7" r="4.75"/><circle cx="1839" cy="770.3" r="4.75"/><circle cx="1823.4" cy="768.1" r="4.75"/><circle cx="1776.1" cy="772" r="4.75"/><circle cx="1810.7" cy="767.2" r="4.75"/><circle cx="1732.2" cy="770.2" r="4.75"/><circle cx="1724.6" cy="770.4" r="4.75"/><circle cx="1724.3" cy="773.5" r="4.75"/><circle cx="1746.3" cy="773.6" r="4.75"/><circle cx="1838.3" cy="768.2" r="4.75"/><circle cx="1734.7" cy="773.3" r="4.75"/><circle cx="1762.1" cy="771.7" r="4.75"/><circle cx="1823.4" cy="769.6" r="4.75"/><circle cx="1817.3" cy="770.4" r="4.75"/><circle cx="1796.3" cy="768.2" r="4.75"/><circle cx="1839.3" cy="770.4" r="4.75"/><circle cx="1714.3" cy="771.2" r="4.75"/><circle cx="1736.1" cy="771.2" r="4.75"/><circle cx="1755.2" cy="769.5" r="4.75"/><circle cx="1727.9" cy="772.7" r="4.75"/><circle cx="1766.6" cy="768.1" r="4.75"/><circle cx="1795.3" cy="772.6" r="4.75"/><circle cx="1769.6" cy="772.9" r="4.75"/><circle cx="1807.8" cy="771.1" r="4.75"/><circle cx="1738.9" cy="768.9" r="4.75"/><circle cx="1814.7" cy="768.2" r="4.75"/><circle cx="1803.7" cy="767.2" r="4.75"/><circle cx="1854.6" cy="768.4" r="4.75"/><circle cx="1858.4" cy="770.6" r="4.75"/><circle cx="1845.1" cy="771.5" r="4.75"/><circle cx="1711.5" cy="772.9" r="4.75"/><circle cx="1736.2" cy="773.6" r="4.75"/><circle cx="1851.5" cy="768.7" r="4.75"/><circle cx="1803.3" cy="768.5" r="4.75"/><circle cx="1748.2" cy="770.1" r="4.75"/><circle cx="1752.5" cy="771.9" r="4.75"/><circle cx="1858.7" cy="769.9" r="4.75"/><circle cx="1701.5" cy="773.2" r="4.75"/><circle cx="1764.9" cy="769.6" r="4.75"/><circle cx="1735" cy="769.5" r="4.75"/><circle cx="1860.7" cy="768.7" r="4.75"/><circle cx="1832.4" cy="766.7" r="4.75"/><circle cx="1837.8" cy="770.1" r="4.75"/><circle cx="1850.8" cy="769.8" r="4.75"/><circle cx="1841.6" cy="768.2" r="4.75"/><circle cx="1837.4" cy="771.9" r="4.75"/><circle cx="1754.1" cy="770.6" r="4.75"/><circle cx="1826.9" cy="771.7" r="4.75"/><circle cx="1828.2" cy="767.4" r="4.75"/><circle cx="1704.2" cy="771.5" r="4.75"/><circle cx="1772.6" cy="771.8" r="4.75"/><circle cx="1788.3" cy="770.5" r="4.75"/><circle cx="1753.6" cy="768.5" r="4.75"/><circle cx="1761.2" cy="770.6" r="4.75"/><circle cx="1794.4" cy="771.6" r="4.75"/><circle cx="1803.3" cy="771.3" r="4.75"/><circle cx="1772.8" cy="771.1" r="4.75"/><circle cx="1756.3" cy="771.7" r="4.75"/><circle cx="1833" cy="767.9" r="4.75"/><circle cx="1793" cy="769.6" r="4.75"/><circle cx="1815.9" cy="768" r="4.75"/><circle cx="1801.8" cy="768.2" r="4.75"/><circle cx="1850" cy="767.1" r="4.75"/><circle cx="1764.2" cy="771" r="4.75"/><circle cx="1825.3" cy="771.6" r="4.75"/><circle cx="1713.8" cy="769.7" r="4.75"/><circle cx="1788.5" cy="771.9" r="4.75"/><circle cx="1867.3" cy="770.9" r="4.75"/><circle cx="1790" cy="772.5" r="4.75"/><circle cx="1820.9" cy="771.5" r="4.75"/><circle cx="1718.6" cy="786.9" r="4.75"/><circle cx="1712.4" cy="777" r="4.75"/><circle cx="1705.8" cy="792" r="4.75"/><circle cx="1724" cy="758.6" r="4.75"/><circle cx="1719.3" cy="790.4" r="4.75"/><circle cx="1718.2" cy="790" r="4.75"/><circle cx="1721.8" cy="780.9" r="4.75"/><circle cx="1700.4" cy="786.8" r="4.75"/><circle cx="1701.9" cy="778.2" r="4.75"/><circle cx="1701.1" cy="790.8" r="4.75"/><circle cx="1710.5" cy="787.9" r="4.75"/><circle cx="1720.5" cy="765.7" r="4.75"/><circle cx="1718.2" cy="790.7" r="4.75"/><circle cx="1717.7" cy="776.7" r="4.75"/><circle cx="1700.9" cy="767.1" r="4.75"/><circle cx="1720.3" cy="782.2" r="4.75"/><circle cx="1709" cy="760.8" r="4.75"/><circle cx="1713.4" cy="770.8" r="4.75"/><circle cx="1708.2" cy="764.2" r="4.75"/><circle cx="1721.8" cy="764.6" r="4.75"/><circle cx="1707.5" cy="786.1" r="4.75"/><circle cx="1719" cy="779.4" r="4.75"/><circle cx="1712.5" cy="782.1" r="4.75"/><circle cx="1719.8" cy="758.9" r="4.75"/><circle cx="1719.5" cy="788.8" r="4.75"/><circle cx="1709.2" cy="785.2" r="4.75"/><circle cx="1715.5" cy="791.5" r="4.75"/><circle cx="1722.9" cy="785.8" r="4.75"/><circle cx="1714.6" cy="774.8" r="4.75"/><circle cx="1719.8" cy="780.2" r="4.75"/><circle cx="1791.1" cy="765.4" r="4.75"/><circle cx="1783.2" cy="770" r="4.75"/><circle cx="1769.4" cy="765.7" r="4.75"/><circle cx="1716.2" cy="765.9" r="4.75"/><circle cx="1772.2" cy="774.8" r="4.75"/><circle cx="1766.8" cy="764.6" r="4.75"/><circle cx="1782.9" cy="773.3" r="4.75"/><circle cx="1730.2" cy="764.5" r="4.75"/><circle cx="1809" cy="771.1" r="4.75"/><circle cx="1799.5" cy="763.5" r="4.75"/><circle cx="1796.9" cy="782.6" r="4.75"/><circle cx="1762" cy="775" r="4.75"/><circle cx="1806.1" cy="768.9" r="4.75"/><circle cx="1771.6" cy="801" r="4.75"/><circle cx="1787.8" cy="751.6" r="4.75"/><circle cx="1794.9" cy="784.7" r="4.75"/><circle cx="1719.2" cy="774.3" r="4.75"/><circle cx="1772.1" cy="762.9" r="4.75"/><circle cx="1784.4" cy="771.1" r="4.75"/><circle cx="1712.8" cy="787.9" r="4.75"/><circle cx="1735.3" cy="766.5" r="4.75"/><circle cx="1723.3" cy="773.8" r="4.75"/><circle cx="1832.1" cy="773.5" r="4.75"/><circle cx="1749.1" cy="776.9" r="4.75"/><circle cx="1755.2" cy="774.5" r="4.75"/><circle cx="1822.7" cy="765.5" r="4.75"/><circle cx="1772.6" cy="774.3" r="4.75"/><circle cx="1723.5" cy="758.9" r="4.75"/><circle cx="1809" cy="781.1" r="4.75"/><circle cx="1788.6" cy="766.8" r="4.75"/><circle cx="1733" cy="766.8" r="4.75"/><circle cx="1819" cy="780.8" r="4.75"/><circle cx="1788.3" cy="791.4" r="4.75"/><circle cx="1769" cy="779.7" r="4.75"/><circle cx="1736.5" cy="764.6" r="4.75"/><circle cx="1788" cy="764.8" r="4.75"/><circle cx="1762.4" cy="774" r="4.75"/><circle cx="1706.4" cy="770.2" r="4.75"/><circle cx="1724.8" cy="773" r="4.75"/><circle cx="1806.1" cy="766.4" r="4.75"/><circle cx="1808.9" cy="757.9" r="4.75"/><circle cx="1803.7" cy="766" r="4.75"/><circle cx="1803.5" cy="783.1" r="4.75"/><circle cx="1813.5" cy="761.6" r="4.75"/><circle cx="1804.9" cy="788.1" r="4.75"/><circle cx="1805.5" cy="770.6" r="4.75"/><circle cx="1814.7" cy="786.4" r="4.75"/><circle cx="1806.1" cy="770" r="4.75"/><circle cx="1810.2" cy="766.6" r="4.75"/><circle cx="1804.2" cy="793.9" r="4.75"/><circle cx="1815.3" cy="791.7" r="4.75"/><circle cx="1804.3" cy="777.6" r="4.75"/><circle cx="1812.2" cy="766.8" r="4.75"/><circle cx="1810.7" cy="753.8" r="4.75"/><circle cx="1803.8" cy="775.5" r="4.75"/><circle cx="1812.1" cy="777.8" r="4.75"/><circle cx="1805.5" cy="757.9" r="4.75"/><circle cx="1803.6" cy="762.7" r="4.75"/><circle cx="1807.9" cy="765.1" r="4.75"/><circle cx="1811.4" cy="756.9" r="4.75"/><circle cx="1826.1" cy="786" r="4.75"/><circle cx="1824.4" cy="782.4" r="4.75"/><circle cx="1834.2" cy="799.7" r="4.75"/><circle cx="1827.2" cy="736.6" r="4.75"/><circle cx="1832.2" cy="777.5" r="4.75"/><circle cx="1825.2" cy="784.6" r="4.75"/><circle cx="1831" cy="795" r="4.75"/><circle cx="1832.2" cy="778.8" r="4.75"/><circle cx="1832.5" cy="794.7" r="4.75"/><circle cx="1828.5" cy="775.7" r="4.75"/><circle cx="1822.4" cy="736.4" r="4.75"/><circle cx="1831.2" cy="783.5" r="4.75"/><circle cx="1827.3" cy="736.7" r="4.75"/><circle cx="1834" cy="794" r="4.75"/><circle cx="1835.7" cy="752.3" r="4.75"/><circle cx="1827" cy="761.4" r="4.75"/><circle cx="1828.5" cy="766.2" r="4.75"/><circle cx="1828.4" cy="757.4" r="4.75"/><circle cx="1825.7" cy="780.2" r="4.75"/><circle cx="1835.5" cy="772.6" r="4.75"/><circle cx="1834.5" cy="781.2" r="4.75"/><circle cx="1826.1" cy="737.6" r="4.75"/><circle cx="1827.9" cy="763.2" r="4.75"/><circle cx="1823.1" cy="743.8" r="4.75"/><circle cx="1832" cy="747.2" r="4.75"/><circle cx="1829.3" cy="787.4" r="4.75"/><circle cx="1829" cy="759.3" r="4.75"/><circle cx="1833.7" cy="766.2" r="4.75"/><circle cx="1828.5" cy="759.1" r="4.75"/><circle cx="1821.7" cy="739.5" r="4.75"/><circle cx="1831.8" cy="767.8" r="4.75"/><circle cx="1830.1" cy="749.7" r="4.75"/><circle cx="1828.4" cy="791.2" r="4.75"/><circle cx="1832.5" cy="743.8" r="4.75"/><circle cx="1835.3" cy="740.1" r="4.75"/><circle cx="1863.7" cy="788.3" r="4.75"/><circle cx="1863.5" cy="772.4" r="4.75"/><circle cx="1862.1" cy="768" r="4.75"/><circle cx="1865" cy="769.8" r="4.75"/><circle cx="1864.3" cy="778" r="4.75"/><circle cx="1865.7" cy="778.3" r="4.75"/><circle cx="1863.1" cy="756" r="4.75"/><circle cx="1860.3" cy="765.2" r="4.75"/><circle cx="1861.1" cy="775.7" r="4.75"/><circle cx="1864.3" cy="780.8" r="4.75"/><circle cx="1865.3" cy="766.2" r="4.75"/><circle cx="1862.6" cy="777.3" r="4.75"/><circle cx="1941.1" cy="768.5" r="4.75"/><circle cx="1942.9" cy="768.4" r="4.75"/><circle cx="1941.2" cy="766.1" r="4.75"/><circle cx="1940" cy="765.2" r="4.75"/><circle cx="1942.5" cy="774.3" r="4.75"/><circle cx="1943.1" cy="779.6" r="4.75"/></g>
<line class="ln" x1="1700.4" y1="771.5" x2="2079" y2="759.4" stroke-dasharray="30.5 33.1"/>
<path class="ax" d="M1683.4 547 V989.5 H2107"/>
<line class="tkm" x1="1676.8" y1="578.7" x2="1683.4" y2="578.7"/>
<text class="tk" text-anchor="end" x="1669.9" y="587">20</text>
<line class="tkm" x1="1676.8" y1="674.8" x2="1683.4" y2="674.8"/>
<text class="tk" text-anchor="end" x="1669.9" y="683">10</text>
<line class="tkm" x1="1676.8" y1="770.8" x2="1683.4" y2="770.8"/>
<text class="tk" text-anchor="end" x="1669.9" y="779.1">0</text>
<line class="tkm" x1="1676.8" y1="866.8" x2="1683.4" y2="866.8"/>
<text class="tk" text-anchor="end" x="1669.9" y="875.1">−10</text>
<line class="tkm" x1="1676.8" y1="962.9" x2="1683.4" y2="962.9"/>
<text class="tk" text-anchor="end" x="1669.9" y="971.2">−20</text>
<line class="tkm" x1="1699.3" y1="989.5" x2="1699.3" y2="996.1"/>
<text class="tk" text-anchor="middle" x="1699.3" y="1018">0</text>
<line class="tkm" x1="1807.1" y1="989.5" x2="1807.1" y2="996.1"/>
<text class="tk" text-anchor="middle" x="1807.1" y="1018">100</text>
<line class="tkm" x1="1915.3" y1="989.5" x2="1915.3" y2="996.1"/>
<text class="tk" text-anchor="middle" x="1915.3" y="1018">200</text>
<line class="tkm" x1="2023.2" y1="989.5" x2="2023.2" y2="996.1"/>
<text class="tk" text-anchor="middle" x="2023.2" y="1018">300</text>
<text class="tt" text-anchor="middle" x="1895.2" y="1050">Specific Root Length (m/g)</text>
<text class="tt" text-anchor="middle" transform="translate(1620.4 768.2) rotate(-90)">Cover Change (%)</text>
</g>
<g id="panel9">
<polygon class="rb" points="117.8,1291.7 219.1,1296.3 303.4,1296.3 387.6,1288.2 490.7,1275.5 490.7,1315 387.6,1308.4 303.4,1306.4 219.1,1309.1 117.8,1320"/>
<g class="p"><circle cx="164.2" cy="1106.1" r="4.75"/><circle cx="262.9" cy="1125" r="4.75"/><circle cx="292.2" cy="1125" r="4.75"/><circle cx="499.9" cy="1143.2" r="4.75"/><circle cx="278.1" cy="1158.7" r="4.75"/><circle cx="167.5" cy="1178.3" r="4.75"/><circle cx="240.3" cy="1189.7" r="4.75"/><circle cx="295.6" cy="1190.8" r="4.75"/><circle cx="296" cy="1211.3" r="4.75"/><circle cx="171.9" cy="1226.1" r="4.75"/><circle cx="193.8" cy="1227.2" r="4.75"/><circle cx="240.3" cy="1232.2" r="4.75"/><circle cx="167.9" cy="1239.6" r="4.75"/><circle cx="285.8" cy="1235.6" r="4.75"/><circle cx="318.5" cy="1239" r="4.75"/><circle cx="223.5" cy="1244.3" r="4.75"/><circle cx="292.2" cy="1251.4" r="4.75"/><circle cx="309.1" cy="1251.4" r="4.75"/><circle cx="383.6" cy="1245" r="4.75"/><circle cx="240.3" cy="1255.1" r="4.75"/><circle cx="254.5" cy="1259.9" r="4.75"/><circle cx="272.4" cy="1254.8" r="4.75"/><circle cx="274.7" cy="1264.2" r="4.75"/><circle cx="221.5" cy="1262.6" r="4.75"/><circle cx="151.7" cy="1265.2" r="4.75"/><circle cx="167.9" cy="1263.6" r="4.75"/><circle cx="176.3" cy="1268.3" r="4.75"/><circle cx="315.2" cy="1266.3" r="4.75"/><circle cx="383.6" cy="1270" r="4.75"/><circle cx="383.6" cy="1277.7" r="4.75"/><circle cx="457.8" cy="1266.3" r="4.75"/><circle cx="450" cy="1276.7" r="4.75"/><circle cx="258.9" cy="1273.7" r="4.75"/><circle cx="274.7" cy="1275" r="4.75"/><circle cx="275.4" cy="1275" r="4.75"/><circle cx="292.2" cy="1275.4" r="4.75"/><circle cx="218.4" cy="1280.4" r="4.75"/><circle cx="159.4" cy="1281.1" r="4.75"/><circle cx="128.1" cy="1284.5" r="4.75"/><circle cx="348.2" cy="1277.7" r="4.75"/><circle cx="355.6" cy="1282.8" r="4.75"/><circle cx="332" cy="1282.8" r="4.75"/><circle cx="419.7" cy="1292.9" r="4.75"/><circle cx="502.9" cy="1297.9" r="4.75"/><circle cx="457.4" cy="1319.9" r="4.75"/><circle cx="439.9" cy="1317.2" r="4.75"/><circle cx="429.8" cy="1310.8" r="4.75"/><circle cx="418" cy="1307.4" r="4.75"/><circle cx="397.1" cy="1311.4" r="4.75"/><circle cx="384.3" cy="1313.1" r="4.75"/><circle cx="376.5" cy="1317.2" r="4.75"/><circle cx="367.4" cy="1321.5" r="4.75"/><circle cx="368.1" cy="1321.5" r="4.75"/><circle cx="384.3" cy="1345.1" r="4.75"/><circle cx="383.6" cy="1352.6" r="4.75"/><circle cx="359.7" cy="1350.2" r="4.75"/><circle cx="340.4" cy="1330" r="4.75"/><circle cx="341.1" cy="1330" r="4.75"/><circle cx="335.4" cy="1311.4" r="4.75"/><circle cx="337.1" cy="1319.9" r="4.75"/><circle cx="327" cy="1326.6" r="4.75"/><circle cx="318.5" cy="1314.8" r="4.75"/><circle cx="325.3" cy="1318.2" r="4.75"/><circle cx="302.4" cy="1330" r="4.75"/><circle cx="298.3" cy="1331.7" r="4.75"/><circle cx="295.6" cy="1349.2" r="4.75"/><circle cx="283.1" cy="1351.9" r="4.75"/><circle cx="266.3" cy="1350.2" r="4.75"/><circle cx="289.2" cy="1338.4" r="4.75"/><circle cx="279.1" cy="1330" r="4.75"/><circle cx="281.5" cy="1334.3" r="4.75"/><circle cx="283.1" cy="1321.5" r="4.75"/><circle cx="292.2" cy="1321.5" r="4.75"/><circle cx="296.6" cy="1311.4" r="4.75"/><circle cx="258.9" cy="1325.9" r="4.75"/><circle cx="247.8" cy="1319.9" r="4.75"/><circle cx="240.3" cy="1328.3" r="4.75"/><circle cx="238.3" cy="1342.4" r="4.75"/><circle cx="221.5" cy="1326.6" r="4.75"/><circle cx="230.2" cy="1318.8" r="4.75"/><circle cx="236" cy="1317.2" r="4.75"/><circle cx="210.7" cy="1332.7" r="4.75"/><circle cx="211.3" cy="1332.7" r="4.75"/><circle cx="206.3" cy="1342.4" r="4.75"/><circle cx="205.6" cy="1323.2" r="4.75"/><circle cx="206.3" cy="1317.2" r="4.75"/><circle cx="194.8" cy="1349.2" r="4.75"/><circle cx="164.2" cy="1348.5" r="4.75"/><circle cx="130.4" cy="1350.2" r="4.75"/><circle cx="179.7" cy="1361.3" r="4.75"/><circle cx="176.3" cy="1393.3" r="4.75"/><circle cx="247.8" cy="1369.1" r="4.75"/><circle cx="246.1" cy="1396.7" r="4.75"/><circle cx="303.4" cy="1375.5" r="4.75"/><circle cx="336.1" cy="1375.5" r="4.75"/><circle cx="340.4" cy="1388.3" r="4.75"/><circle cx="161.1" cy="1427" r="4.75"/><circle cx="221.5" cy="1443.2" r="4.75"/><circle cx="221.5" cy="1454.7" r="4.75"/><circle cx="234.9" cy="1445.6" r="4.75"/><circle cx="240.3" cy="1451.3" r="4.75"/><circle cx="272.4" cy="1445.6" r="4.75"/><circle cx="288.9" cy="1454" r="4.75"/><circle cx="295.6" cy="1457.4" r="4.75"/><circle cx="118.7" cy="1318.8" r="4.75"/><circle cx="129.8" cy="1311.4" r="4.75"/><circle cx="165.2" cy="1309.7" r="4.75"/><circle cx="175.3" cy="1314.8" r="4.75"/><circle cx="151.7" cy="1294.6" r="4.75"/><circle cx="177" cy="1291.2" r="4.75"/><circle cx="192.1" cy="1291.2" r="4.75"/><circle cx="254.3" cy="1301" r="4.75"/><circle cx="285.7" cy="1295.5" r="4.75"/><circle cx="280.4" cy="1307.1" r="4.75"/><circle cx="287.5" cy="1301.1" r="4.75"/><circle cx="314.1" cy="1299.5" r="4.75"/><circle cx="253.7" cy="1306.2" r="4.75"/><circle cx="241.1" cy="1307.1" r="4.75"/><circle cx="325.1" cy="1300.6" r="4.75"/><circle cx="282" cy="1295.1" r="4.75"/><circle cx="241.8" cy="1305.5" r="4.75"/><circle cx="306.9" cy="1302" r="4.75"/><circle cx="237.6" cy="1305" r="4.75"/><circle cx="337.5" cy="1304.7" r="4.75"/><circle cx="299.5" cy="1299.8" r="4.75"/><circle cx="271.2" cy="1296.5" r="4.75"/><circle cx="226.3" cy="1308.5" r="4.75"/><circle cx="268" cy="1299.8" r="4.75"/><circle cx="278.2" cy="1307.5" r="4.75"/><circle cx="328.7" cy="1302.4" r="4.75"/><circle cx="313.4" cy="1300.6" r="4.75"/><circle cx="297.6" cy="1304.6" r="4.75"/><circle cx="299.4" cy="1294.5" r="4.75"/><circle cx="276" cy="1302.2" r="4.75"/><circle cx="300.3" cy="1306.3" r="4.75"/><circle cx="313.3" cy="1299.1" r="4.75"/><circle cx="277.6" cy="1304.8" r="4.75"/><circle cx="310.2" cy="1298.4" r="4.75"/><circle cx="268" cy="1302.8" r="4.75"/><circle cx="279.5" cy="1303.3" r="4.75"/><circle cx="321.7" cy="1298.9" r="4.75"/><circle cx="289.3" cy="1296.7" r="4.75"/><circle cx="316.9" cy="1302.8" r="4.75"/><circle cx="292.4" cy="1298.5" r="4.75"/><circle cx="231.9" cy="1298.7" r="4.75"/><circle cx="252.2" cy="1305.2" r="4.75"/><circle cx="289.1" cy="1305.5" r="4.75"/><circle cx="330.5" cy="1296.7" r="4.75"/><circle cx="239.5" cy="1304.9" r="4.75"/><circle cx="271.6" cy="1305.6" r="4.75"/><circle cx="273.9" cy="1297.5" r="4.75"/><circle cx="332.2" cy="1303.1" r="4.75"/><circle cx="315.1" cy="1302.9" r="4.75"/><circle cx="333" cy="1304.8" r="4.75"/><circle cx="229.4" cy="1296.4" r="4.75"/><circle cx="226.3" cy="1305.5" r="4.75"/><circle cx="280" cy="1303.8" r="4.75"/><circle cx="232.9" cy="1297.7" r="4.75"/><circle cx="324.8" cy="1301.6" r="4.75"/><circle cx="239.5" cy="1296.8" r="4.75"/><circle cx="315.4" cy="1304.7" r="4.75"/><circle cx="234.8" cy="1308.5" r="4.75"/><circle cx="235.7" cy="1300.5" r="4.75"/><circle cx="294.6" cy="1304.9" r="4.75"/><circle cx="324.3" cy="1293.5" r="4.75"/><circle cx="251.1" cy="1296.8" r="4.75"/><circle cx="230.5" cy="1304.4" r="4.75"/><circle cx="238.2" cy="1300.9" r="4.75"/><circle cx="301.2" cy="1304.2" r="4.75"/><circle cx="284.6" cy="1303.4" r="4.75"/><circle cx="297.8" cy="1296.9" r="4.75"/><circle cx="247.8" cy="1307.9" r="4.75"/><circle cx="251.6" cy="1307.1" r="4.75"/><circle cx="227.9" cy="1299.7" r="4.75"/><circle cx="300.5" cy="1296.9" r="4.75"/><circle cx="338.4" cy="1301.4" r="4.75"/><circle cx="324.6" cy="1302.2" r="4.75"/><circle cx="321.8" cy="1295.1" r="4.75"/><circle cx="264" cy="1297.9" r="4.75"/><circle cx="266.2" cy="1296.2" r="4.75"/><circle cx="237.6" cy="1302.1" r="4.75"/><circle cx="332.9" cy="1300.6" r="4.75"/><circle cx="297.2" cy="1303.1" r="4.75"/><circle cx="289.5" cy="1301.2" r="4.75"/><circle cx="291.7" cy="1300.9" r="4.75"/><circle cx="240.5" cy="1299.4" r="4.75"/><circle cx="321.4" cy="1299.8" r="4.75"/><circle cx="315" cy="1297.5" r="4.75"/><circle cx="280.2" cy="1303.5" r="4.75"/><circle cx="223" cy="1305.1" r="4.75"/><circle cx="262.6" cy="1301.5" r="4.75"/><circle cx="295" cy="1301.2" r="4.75"/><circle cx="258.9" cy="1304.1" r="4.75"/><circle cx="256.3" cy="1298.5" r="4.75"/><circle cx="223.4" cy="1305.2" r="4.75"/><circle cx="249.5" cy="1300.7" r="4.75"/><circle cx="290.4" cy="1300.8" r="4.75"/><circle cx="262.1" cy="1302.7" r="4.75"/><circle cx="289.2" cy="1298.4" r="4.75"/><circle cx="304" cy="1301.6" r="4.75"/><circle cx="308.7" cy="1301.6" r="4.75"/><circle cx="224.2" cy="1299.6" r="4.75"/><circle cx="324.7" cy="1298.4" r="4.75"/><circle cx="337.8" cy="1302.7" r="4.75"/><circle cx="322.2" cy="1301.3" r="4.75"/><circle cx="225.9" cy="1304.3" r="4.75"/><circle cx="268.1" cy="1303.4" r="4.75"/><circle cx="330.6" cy="1297.1" r="4.75"/><circle cx="266.4" cy="1299.9" r="4.75"/><circle cx="241.3" cy="1304.6" r="4.75"/><circle cx="301.8" cy="1300.9" r="4.75"/><circle cx="311" cy="1300.6" r="4.75"/><circle cx="224.4" cy="1302.6" r="4.75"/><circle cx="301" cy="1301.7" r="4.75"/><circle cx="316.9" cy="1298.8" r="4.75"/><circle cx="292.3" cy="1302.2" r="4.75"/><circle cx="272" cy="1303.9" r="4.75"/><circle cx="259.9" cy="1301.6" r="4.75"/><circle cx="270.7" cy="1303.7" r="4.75"/><circle cx="321.1" cy="1301.5" r="4.75"/><circle cx="302.8" cy="1301" r="4.75"/><circle cx="305.5" cy="1299.3" r="4.75"/><circle cx="230.8" cy="1301.7" r="4.75"/><circle cx="335.2" cy="1297.1" r="4.75"/><circle cx="290" cy="1298.5" r="4.75"/><circle cx="224.6" cy="1303.5" r="4.75"/><circle cx="300.5" cy="1299" r="4.75"/><circle cx="289.9" cy="1301.2" r="4.75"/><circle cx="278.5" cy="1302.3" r="4.75"/><circle cx="314.1" cy="1301.9" r="4.75"/><circle cx="290" cy="1303.4" r="4.75"/><circle cx="335.5" cy="1301.2" r="4.75"/><circle cx="254.7" cy="1299.6" r="4.75"/><circle cx="302.2" cy="1302.2" r="4.75"/><circle cx="337" cy="1302.3" r="4.75"/><circle cx="267.7" cy="1298.7" r="4.75"/><circle cx="296" cy="1300.8" r="4.75"/><circle cx="298.9" cy="1298.7" r="4.75"/><circle cx="292.5" cy="1301.5" r="4.75"/><circle cx="222.8" cy="1299.8" r="4.75"/><circle cx="273.6" cy="1302.1" r="4.75"/><circle cx="315.8" cy="1298.2" r="4.75"/><circle cx="333.9" cy="1298" r="4.75"/><circle cx="335.7" cy="1298" r="4.75"/><circle cx="298.2" cy="1302.8" r="4.75"/><circle cx="244.9" cy="1301.1" r="4.75"/><circle cx="328.9" cy="1301.4" r="4.75"/><circle cx="314" cy="1297.7" r="4.75"/><circle cx="328.1" cy="1299.5" r="4.75"/><circle cx="245.1" cy="1303.8" r="4.75"/><circle cx="276.3" cy="1302.9" r="4.75"/><circle cx="197.5" cy="1297.7" r="4.75"/><circle cx="141.8" cy="1306.8" r="4.75"/><circle cx="129.2" cy="1301.3" r="4.75"/><circle cx="177.3" cy="1308.3" r="4.75"/><circle cx="134.6" cy="1301" r="4.75"/><circle cx="192.3" cy="1302.3" r="4.75"/><circle cx="154.1" cy="1305.4" r="4.75"/><circle cx="212.4" cy="1304.8" r="4.75"/><circle cx="156.8" cy="1303.8" r="4.75"/><circle cx="204.8" cy="1305.6" r="4.75"/><circle cx="173.1" cy="1301.2" r="4.75"/><circle cx="194.8" cy="1299" r="4.75"/><circle cx="157.9" cy="1300.8" r="4.75"/><circle cx="138.3" cy="1300.7" r="4.75"/><circle cx="137.3" cy="1308.7" r="4.75"/><circle cx="121" cy="1304.4" r="4.75"/><circle cx="122" cy="1300" r="4.75"/><circle cx="150.5" cy="1302.8" r="4.75"/><circle cx="203.2" cy="1301.8" r="4.75"/><circle cx="204.3" cy="1309.2" r="4.75"/><circle cx="165.5" cy="1304" r="4.75"/><circle cx="200.3" cy="1308.3" r="4.75"/><circle cx="212.7" cy="1299.7" r="4.75"/><circle cx="149.4" cy="1305.5" r="4.75"/><circle cx="168.1" cy="1302.3" r="4.75"/><circle cx="130.9" cy="1304" r="4.75"/><circle cx="201.8" cy="1301.9" r="4.75"/><circle cx="150.4" cy="1309.9" r="4.75"/><circle cx="124.4" cy="1303" r="4.75"/><circle cx="134.3" cy="1302.8" r="4.75"/><circle cx="394.6" cy="1295.5" r="4.75"/><circle cx="359.6" cy="1293.7" r="4.75"/><circle cx="366.2" cy="1289.8" r="4.75"/><circle cx="365.2" cy="1306.7" r="4.75"/><circle cx="394.6" cy="1295.8" r="4.75"/><circle cx="344.3" cy="1289.7" r="4.75"/><circle cx="363.7" cy="1294.4" r="4.75"/><circle cx="384.7" cy="1293.5" r="4.75"/><circle cx="364.6" cy="1295.8" r="4.75"/><circle cx="365.4" cy="1302" r="4.75"/><circle cx="389.7" cy="1307.3" r="4.75"/><circle cx="372.4" cy="1308.8" r="4.75"/><circle cx="358.7" cy="1303.8" r="4.75"/><circle cx="374.2" cy="1307.1" r="4.75"/><circle cx="374.7" cy="1305.9" r="4.75"/><circle cx="394.4" cy="1292.4" r="4.75"/><circle cx="381.9" cy="1307.1" r="4.75"/><circle cx="377.7" cy="1300" r="4.75"/><circle cx="346.8" cy="1303.5" r="4.75"/><circle cx="353.5" cy="1303.5" r="4.75"/><circle cx="339.6" cy="1301.8" r="4.75"/><circle cx="372" cy="1305.7" r="4.75"/><circle cx="360" cy="1294.2" r="4.75"/><circle cx="352.2" cy="1300.1" r="4.75"/><circle cx="362.7" cy="1308.1" r="4.75"/><circle cx="425" cy="1297.7" r="4.75"/><circle cx="436.5" cy="1293.3" r="4.75"/><circle cx="421.2" cy="1299.1" r="4.75"/><circle cx="427.7" cy="1293.4" r="4.75"/><circle cx="441.9" cy="1296" r="4.75"/><circle cx="424.2" cy="1300" r="4.75"/><circle cx="431.4" cy="1297.6" r="4.75"/><circle cx="461.1" cy="1297.8" r="4.75"/></g>
<line class="ln" x1="117.8" y1="1305.7" x2="490.7" y2="1295.9" stroke-dasharray="30.5 33.1"/>
<path class="ax" d="M98 1079 V1520.4 H521.8"/>
<line class="tkm" x1="91.4" y1="1110.9" x2="98" y2="1110.9"/>
<text class="tk" text-anchor="end" x="84.5" y="1119.2">20</text>
<line class="tkm" x1="91.4" y1="1206.6" x2="98" y2="1206.6"/>
<text class="tk" text-anchor="end" x="84.5" y="1214.9">10</text>
<line class="tkm" x1="91.4" y1="1302.4" x2="98" y2="1302.4"/>
<text class="tk" text-anchor="end" x="84.5" y="1310.7">0</text>
<line class="tkm" x1="91.4" y1="1398.2" x2="98" y2="1398.2"/>
<text class="tk" text-anchor="end" x="84.5" y="1406.5">−10</text>
<line class="tkm" x1="91.4" y1="1493.9" x2="98" y2="1493.9"/>
<text class="tk" text-anchor="end" x="84.5" y="1502.2">−20</text>
<line class="tkm" x1="147.6" y1="1520.4" x2="147.6" y2="1527"/>
<text class="tk" text-anchor="middle" x="147.6" y="1548.9">0.2</text>
<line class="tkm" x1="280.8" y1="1520.4" x2="280.8" y2="1527"/>
<text class="tk" text-anchor="middle" x="280.8" y="1548.9">0.4</text>
<line class="tkm" x1="413.9" y1="1520.4" x2="413.9" y2="1527"/>
<text class="tk" text-anchor="middle" x="413.9" y="1548.9">0.6</text>
<text class="tt" text-anchor="middle" x="309.9" y="1580.3">Root Mass Fraction (g/g)</text>
<text class="tt" text-anchor="middle" transform="translate(35 1299.7) rotate(-90)">Cover Change (%)</text>
</g>
<g id="panel10">
<polygon class="rb" points="644.2,1280.6 732.2,1293.9 818.2,1299 917.6,1296.3 1029.8,1287.7 1029.8,1331.6 917.6,1314.1 818.2,1308.4 732.2,1306.4 644.2,1310.9"/>
<g class="p"><circle cx="723.1" cy="1106.1" r="4.75"/><circle cx="738" cy="1125" r="4.75"/><circle cx="796.3" cy="1125" r="4.75"/><circle cx="647" cy="1143.2" r="4.75"/><circle cx="911.9" cy="1158.7" r="4.75"/><circle cx="826" cy="1178.3" r="4.75"/><circle cx="804" cy="1189.7" r="4.75"/><circle cx="908.5" cy="1190.8" r="4.75"/><circle cx="808.8" cy="1211.3" r="4.75"/><circle cx="784.5" cy="1226.1" r="4.75"/><circle cx="787.9" cy="1227.2" r="4.75"/><circle cx="784.5" cy="1239.6" r="4.75"/><circle cx="787.9" cy="1244.3" r="4.75"/><circle cx="908.5" cy="1235.6" r="4.75"/><circle cx="915.3" cy="1239.6" r="4.75"/><circle cx="947" cy="1232.2" r="4.75"/><circle cx="957.4" cy="1251.4" r="4.75"/><circle cx="725.5" cy="1245" r="4.75"/><circle cx="725.5" cy="1251.4" r="4.75"/><circle cx="738" cy="1255.1" r="4.75"/><circle cx="818.9" cy="1255.1" r="4.75"/><circle cx="818.9" cy="1259.2" r="4.75"/><circle cx="816.5" cy="1264.2" r="4.75"/><circle cx="808.1" cy="1269.3" r="4.75"/><circle cx="798" cy="1265.2" r="4.75"/><circle cx="787.9" cy="1265.2" r="4.75"/><circle cx="787.9" cy="1267.6" r="4.75"/><circle cx="785.5" cy="1277" r="4.75"/><circle cx="796.3" cy="1275" r="4.75"/><circle cx="883.9" cy="1264.2" r="4.75"/><circle cx="908.5" cy="1262.6" r="4.75"/><circle cx="911.9" cy="1264.2" r="4.75"/><circle cx="908.5" cy="1272.7" r="4.75"/><circle cx="911.9" cy="1277.7" r="4.75"/><circle cx="915.3" cy="1281.8" r="4.75"/><circle cx="725.5" cy="1276.7" r="4.75"/><circle cx="755.8" cy="1273.7" r="4.75"/><circle cx="738" cy="1282.8" r="4.75"/><circle cx="740.7" cy="1287.8" r="4.75"/><circle cx="744" cy="1287.2" r="4.75"/><circle cx="818.9" cy="1277.7" r="4.75"/><circle cx="804" cy="1282.8" r="4.75"/><circle cx="646.3" cy="1309.7" r="4.75"/><circle cx="645.6" cy="1331" r="4.75"/><circle cx="645.6" cy="1351.9" r="4.75"/><circle cx="680" cy="1318.8" r="4.75"/><circle cx="688.4" cy="1318.8" r="4.75"/><circle cx="688.4" cy="1294.6" r="4.75"/><circle cx="688.4" cy="1347.8" r="4.75"/><circle cx="713" cy="1325.9" r="4.75"/><circle cx="725.5" cy="1314.8" r="4.75"/><circle cx="728.9" cy="1316.5" r="4.75"/><circle cx="738" cy="1311.4" r="4.75"/><circle cx="739" cy="1321.5" r="4.75"/><circle cx="744.7" cy="1321.5" r="4.75"/><circle cx="725.5" cy="1350.2" r="4.75"/><circle cx="738" cy="1350.2" r="4.75"/><circle cx="755.8" cy="1388.3" r="4.75"/><circle cx="725.5" cy="1427" r="4.75"/><circle cx="725.5" cy="1446.3" r="4.75"/><circle cx="784.5" cy="1443.2" r="4.75"/><circle cx="798" cy="1454" r="4.75"/><circle cx="804" cy="1457.4" r="4.75"/><circle cx="826" cy="1451.3" r="4.75"/><circle cx="911.9" cy="1454.7" r="4.75"/><circle cx="957.4" cy="1446.3" r="4.75"/><circle cx="786.2" cy="1396.7" r="4.75"/><circle cx="818.9" cy="1376.1" r="4.75"/><circle cx="815.8" cy="1362" r="4.75"/><circle cx="818.9" cy="1349.2" r="4.75"/><circle cx="818.2" cy="1338.4" r="4.75"/><circle cx="818.2" cy="1343.4" r="4.75"/><circle cx="787.9" cy="1350.2" r="4.75"/><circle cx="798" cy="1348.5" r="4.75"/><circle cx="798" cy="1331.7" r="4.75"/><circle cx="796.3" cy="1335" r="4.75"/><circle cx="787.9" cy="1328.3" r="4.75"/><circle cx="784.5" cy="1320.9" r="4.75"/><circle cx="808.1" cy="1329.3" r="4.75"/><circle cx="826" cy="1329.3" r="4.75"/><circle cx="826.6" cy="1321.5" r="4.75"/><circle cx="864.7" cy="1328.3" r="4.75"/><circle cx="867.1" cy="1329.3" r="4.75"/><circle cx="864.7" cy="1311.4" r="4.75"/><circle cx="864.7" cy="1317.2" r="4.75"/><circle cx="883.9" cy="1311.4" r="4.75"/><circle cx="883.9" cy="1317.2" r="4.75"/><circle cx="883.9" cy="1323.2" r="4.75"/><circle cx="883.9" cy="1331.7" r="4.75"/><circle cx="884.6" cy="1332.3" r="4.75"/><circle cx="883.9" cy="1334.3" r="4.75"/><circle cx="883.9" cy="1376.1" r="4.75"/><circle cx="883.9" cy="1393.3" r="4.75"/><circle cx="908.5" cy="1322.2" r="4.75"/><circle cx="908.5" cy="1314.8" r="4.75"/><circle cx="908.5" cy="1345.1" r="4.75"/><circle cx="911.9" cy="1342.4" r="4.75"/><circle cx="947" cy="1352.6" r="4.75"/><circle cx="957.4" cy="1369.1" r="4.75"/><circle cx="1031.2" cy="1312.1" r="4.75"/><circle cx="1030.6" cy="1311.4" r="4.75"/><circle cx="755.8" cy="1302" r="4.75"/><circle cx="756.5" cy="1302" r="4.75"/><circle cx="769.3" cy="1299.6" r="4.75"/><circle cx="713.7" cy="1303" r="4.75"/><circle cx="658.1" cy="1294.6" r="4.75"/><circle cx="653" cy="1303" r="4.75"/><circle cx="653.7" cy="1303" r="4.75"/><circle cx="681.7" cy="1304" r="4.75"/><circle cx="682.4" cy="1304" r="4.75"/><circle cx="738.9" cy="1302.8" r="4.75"/><circle cx="737" cy="1298.4" r="4.75"/><circle cx="731.3" cy="1299.2" r="4.75"/><circle cx="732.3" cy="1292.9" r="4.75"/><circle cx="730.2" cy="1300.5" r="4.75"/><circle cx="723.8" cy="1316.4" r="4.75"/><circle cx="738.5" cy="1295.3" r="4.75"/><circle cx="733.8" cy="1307.3" r="4.75"/><circle cx="730.3" cy="1309.2" r="4.75"/><circle cx="734.3" cy="1299.3" r="4.75"/><circle cx="729.3" cy="1306.6" r="4.75"/><circle cx="739.9" cy="1320" r="4.75"/><circle cx="736.2" cy="1305" r="4.75"/><circle cx="738.5" cy="1321.5" r="4.75"/><circle cx="738" cy="1296.7" r="4.75"/><circle cx="730.1" cy="1297.7" r="4.75"/><circle cx="730.8" cy="1317.6" r="4.75"/><circle cx="731.5" cy="1301" r="4.75"/><circle cx="725.9" cy="1295" r="4.75"/><circle cx="737" cy="1320.7" r="4.75"/><circle cx="651.3" cy="1297.3" r="4.75"/><circle cx="647.1" cy="1298.7" r="4.75"/><circle cx="648.4" cy="1299.3" r="4.75"/><circle cx="648.6" cy="1301.8" r="4.75"/><circle cx="649.5" cy="1302.5" r="4.75"/><circle cx="648.7" cy="1297.7" r="4.75"/><circle cx="681.3" cy="1302.4" r="4.75"/><circle cx="681.2" cy="1301.6" r="4.75"/><circle cx="680.1" cy="1307" r="4.75"/><circle cx="680.7" cy="1300.3" r="4.75"/><circle cx="756.1" cy="1302.6" r="4.75"/><circle cx="755" cy="1302.6" r="4.75"/><circle cx="786.3" cy="1299" r="4.75"/><circle cx="787.3" cy="1307.2" r="4.75"/><circle cx="803.2" cy="1304.1" r="4.75"/><circle cx="805.5" cy="1298.8" r="4.75"/><circle cx="781.7" cy="1299.5" r="4.75"/><circle cx="791.4" cy="1304.1" r="4.75"/><circle cx="782.6" cy="1299" r="4.75"/><circle cx="789.8" cy="1296.9" r="4.75"/><circle cx="781.3" cy="1300" r="4.75"/><circle cx="785.7" cy="1301.3" r="4.75"/><circle cx="809" cy="1306.7" r="4.75"/><circle cx="775" cy="1300.8" r="4.75"/><circle cx="795.2" cy="1302.4" r="4.75"/><circle cx="798.9" cy="1303.7" r="4.75"/><circle cx="806" cy="1305.8" r="4.75"/><circle cx="791.8" cy="1299.9" r="4.75"/><circle cx="812" cy="1303.5" r="4.75"/><circle cx="810.4" cy="1312.7" r="4.75"/><circle cx="808.1" cy="1305.7" r="4.75"/><circle cx="806.5" cy="1298.6" r="4.75"/><circle cx="790.1" cy="1301.6" r="4.75"/><circle cx="789.2" cy="1299.1" r="4.75"/><circle cx="785.2" cy="1299.7" r="4.75"/><circle cx="776.8" cy="1300.8" r="4.75"/><circle cx="806.4" cy="1293.7" r="4.75"/><circle cx="805.7" cy="1307.2" r="4.75"/><circle cx="788.2" cy="1302.7" r="4.75"/><circle cx="803.1" cy="1311.4" r="4.75"/><circle cx="803.3" cy="1296" r="4.75"/><circle cx="781.2" cy="1300.3" r="4.75"/><circle cx="786.7" cy="1306.4" r="4.75"/><circle cx="808.9" cy="1294.4" r="4.75"/><circle cx="807.2" cy="1311.5" r="4.75"/><circle cx="790.7" cy="1303" r="4.75"/><circle cx="791.2" cy="1302" r="4.75"/><circle cx="807.1" cy="1296.7" r="4.75"/><circle cx="800.4" cy="1305.3" r="4.75"/><circle cx="809.4" cy="1313.3" r="4.75"/><circle cx="810.1" cy="1300.8" r="4.75"/><circle cx="795.5" cy="1309.3" r="4.75"/><circle cx="809.2" cy="1309.8" r="4.75"/><circle cx="803.3" cy="1311.7" r="4.75"/><circle cx="786.4" cy="1299.6" r="4.75"/><circle cx="807" cy="1298.2" r="4.75"/><circle cx="803.8" cy="1304.6" r="4.75"/><circle cx="803.4" cy="1298.5" r="4.75"/><circle cx="811.4" cy="1304.4" r="4.75"/><circle cx="774.1" cy="1302.2" r="4.75"/><circle cx="800.8" cy="1309.6" r="4.75"/><circle cx="803.3" cy="1311.6" r="4.75"/><circle cx="794.9" cy="1296.4" r="4.75"/><circle cx="798.8" cy="1310" r="4.75"/><circle cx="801.4" cy="1309.4" r="4.75"/><circle cx="808.6" cy="1311.7" r="4.75"/><circle cx="800.3" cy="1294.6" r="4.75"/><circle cx="802.3" cy="1295.5" r="4.75"/><circle cx="796.5" cy="1298.8" r="4.75"/><circle cx="796" cy="1302.6" r="4.75"/><circle cx="805.2" cy="1312.2" r="4.75"/><circle cx="809" cy="1310.1" r="4.75"/><circle cx="818.4" cy="1288.1" r="4.75"/><circle cx="818" cy="1297.8" r="4.75"/><circle cx="818.1" cy="1285.1" r="4.75"/><circle cx="819.2" cy="1322.6" r="4.75"/><circle cx="817.1" cy="1316.9" r="4.75"/><circle cx="817.9" cy="1317.5" r="4.75"/><circle cx="818.2" cy="1296.1" r="4.75"/><circle cx="817.5" cy="1295.2" r="4.75"/><circle cx="818.4" cy="1320" r="4.75"/><circle cx="818.3" cy="1301.1" r="4.75"/><circle cx="817.1" cy="1284.5" r="4.75"/><circle cx="817.8" cy="1282.9" r="4.75"/><circle cx="817" cy="1319" r="4.75"/><circle cx="819.2" cy="1293.9" r="4.75"/><circle cx="818.2" cy="1289.9" r="4.75"/><circle cx="818.9" cy="1320" r="4.75"/><circle cx="817.7" cy="1298.2" r="4.75"/><circle cx="817.7" cy="1293.2" r="4.75"/><circle cx="818.4" cy="1323.6" r="4.75"/><circle cx="819.4" cy="1300.2" r="4.75"/><circle cx="817.5" cy="1298.2" r="4.75"/><circle cx="817.2" cy="1303.5" r="4.75"/><circle cx="816.9" cy="1321.7" r="4.75"/><circle cx="816.9" cy="1297.5" r="4.75"/><circle cx="819.2" cy="1290.6" r="4.75"/><circle cx="818.9" cy="1288" r="4.75"/><circle cx="817" cy="1309.6" r="4.75"/><circle cx="817" cy="1322.6" r="4.75"/><circle cx="819.4" cy="1316.9" r="4.75"/><circle cx="817.9" cy="1298.7" r="4.75"/><circle cx="818.7" cy="1297.7" r="4.75"/><circle cx="817.3" cy="1308.4" r="4.75"/><circle cx="817.3" cy="1287.2" r="4.75"/><circle cx="817.1" cy="1284.9" r="4.75"/><circle cx="817.2" cy="1302.5" r="4.75"/><circle cx="817.7" cy="1310.5" r="4.75"/><circle cx="817" cy="1322" r="4.75"/><circle cx="818.1" cy="1308" r="4.75"/><circle cx="816.9" cy="1313.3" r="4.75"/><circle cx="819.4" cy="1289.3" r="4.75"/><circle cx="817.8" cy="1301.4" r="4.75"/><circle cx="818.4" cy="1285.1" r="4.75"/><circle cx="818.5" cy="1322.9" r="4.75"/><circle cx="818.6" cy="1322.4" r="4.75"/><circle cx="818.5" cy="1282.2" r="4.75"/><circle cx="819.5" cy="1305.3" r="4.75"/><circle cx="818.8" cy="1315.4" r="4.75"/><circle cx="818" cy="1287.2" r="4.75"/><circle cx="818.3" cy="1313.9" r="4.75"/><circle cx="817.1" cy="1306.4" r="4.75"/><circle cx="817.1" cy="1304.2" r="4.75"/><circle cx="818.8" cy="1282.4" r="4.75"/><circle cx="817.4" cy="1299" r="4.75"/><circle cx="817.1" cy="1301.4" r="4.75"/><circle cx="819.5" cy="1308.3" r="4.75"/><circle cx="819.2" cy="1315.7" r="4.75"/><circle cx="819.4" cy="1310.3" r="4.75"/><circle cx="817.2" cy="1299.4" r="4.75"/><circle cx="816.9" cy="1289.1" r="4.75"/><circle cx="817.2" cy="1290.3" r="4.75"/><circle cx="865.1" cy="1291.6" r="4.75"/><circle cx="864.5" cy="1295.2" r="4.75"/><circle cx="865.1" cy="1290.8" r="4.75"/><circle cx="865.2" cy="1293.2" r="4.75"/><circle cx="864.1" cy="1290.5" r="4.75"/><circle cx="864.7" cy="1302.7" r="4.75"/><circle cx="865" cy="1303.2" r="4.75"/><circle cx="864.4" cy="1300.7" r="4.75"/><circle cx="864.2" cy="1299.8" r="4.75"/><circle cx="865.2" cy="1304.2" r="4.75"/><circle cx="864.2" cy="1299.5" r="4.75"/><circle cx="864.7" cy="1292.5" r="4.75"/><circle cx="865.3" cy="1291" r="4.75"/><circle cx="864.7" cy="1304.4" r="4.75"/><circle cx="864.7" cy="1311.3" r="4.75"/><circle cx="864.6" cy="1329.1" r="4.75"/><circle cx="864.7" cy="1323.2" r="4.75"/><circle cx="864.5" cy="1308.8" r="4.75"/><circle cx="884.2" cy="1293.6" r="4.75"/><circle cx="883.6" cy="1293" r="4.75"/><circle cx="884.5" cy="1288.5" r="4.75"/><circle cx="883.8" cy="1299.9" r="4.75"/><circle cx="883.8" cy="1298.6" r="4.75"/><circle cx="883.4" cy="1291.2" r="4.75"/><circle cx="883.3" cy="1296.7" r="4.75"/><circle cx="883.5" cy="1300.8" r="4.75"/><circle cx="883.8" cy="1301.2" r="4.75"/><circle cx="883.5" cy="1297.4" r="4.75"/><circle cx="884.3" cy="1290.3" r="4.75"/><circle cx="884" cy="1295.4" r="4.75"/><circle cx="884.1" cy="1320.9" r="4.75"/><circle cx="884.6" cy="1335.6" r="4.75"/><circle cx="884" cy="1333.1" r="4.75"/><circle cx="884.4" cy="1322.7" r="4.75"/><circle cx="883.8" cy="1331.9" r="4.75"/><circle cx="907.5" cy="1302.7" r="4.75"/><circle cx="908.2" cy="1305" r="4.75"/><circle cx="908.8" cy="1294.8" r="4.75"/><circle cx="908.2" cy="1306.7" r="4.75"/><circle cx="908.3" cy="1309" r="4.75"/><circle cx="907.6" cy="1302.5" r="4.75"/><circle cx="908.2" cy="1306.5" r="4.75"/><circle cx="908.3" cy="1302.9" r="4.75"/><circle cx="908.5" cy="1307.1" r="4.75"/><circle cx="908.9" cy="1306" r="4.75"/><circle cx="908.8" cy="1300.3" r="4.75"/><circle cx="908.7" cy="1294.1" r="4.75"/></g>
<line class="ln" x1="644.2" y1="1297.6" x2="1029.8" y2="1309.7" stroke-dasharray="30.5 33.1"/>
<path class="ax" d="M624.7 1079 V1520.4 H1049"/>
<line class="tkm" x1="618.1" y1="1110.9" x2="624.7" y2="1110.9"/>
<text class="tk" text-anchor="end" x="611.2" y="1119.2">20</text>
<line class="tkm" x1="618.1" y1="1206.6" x2="624.7" y2="1206.6"/>
<text class="tk" text-anchor="end" x="611.2" y="1214.9">10</text>
<line class="tkm" x1="618.1" y1="1302.4" x2="624.7" y2="1302.4"/>
<text class="tk" text-anchor="end" x="611.2" y="1310.7">0</text>
<line class="tkm" x1="618.1" y1="1398.2" x2="624.7" y2="1398.2"/>
<text class="tk" text-anchor="end" x="611.2" y="1406.5">−10</text>
<line class="tkm" x1="618.1" y1="1493.9" x2="624.7" y2="1493.9"/>
<text class="tk" text-anchor="end" x="611.2" y="1502.2">−20</text>
<line class="tkm" x1="691.1" y1="1520.4" x2="691.1" y2="1527"/>
<text class="tk" text-anchor="middle" x="691.1" y="1548.9">−0.75</text>
<line class="tkm" x1="787.9" y1="1520.4" x2="787.9" y2="1527"/>
<text class="tk" text-anchor="middle" x="787.9" y="1548.9">−0.50</text>
<line class="tkm" x1="884.6" y1="1520.4" x2="884.6" y2="1527"/>
<text class="tk" text-anchor="middle" x="884.6" y="1548.9">−0.25</text>
<line class="tkm" x1="981.7" y1="1520.4" x2="981.7" y2="1527"/>
<text class="tk" text-anchor="middle" x="981.7" y="1548.9">0.00</text>
<text class="tt" text-anchor="middle" x="836.9" y="1580.3">Drought Severity Index</text>
<text class="tt" text-anchor="middle" transform="translate(561.7 1299.7) rotate(-90)">Cover Change (%)</text>
</g>
<g id="panel11">
<polygon class="rb" points="1171.2,1300.3 1309.8,1299 1352,1293.7 1443.4,1288.7 1547,1281.2 1547,1326.5 1443.4,1318 1352,1311 1309.8,1305.7 1171.2,1304.3"/>
<g class="p"><circle cx="1175.3" cy="1106.1" r="4.75"/><circle cx="1282.5" cy="1125" r="4.75"/><circle cx="1369.1" cy="1125" r="4.75"/><circle cx="1273" cy="1143.2" r="4.75"/><circle cx="1309.4" cy="1158.7" r="4.75"/><circle cx="1199.2" cy="1178.3" r="4.75"/><circle cx="1288.5" cy="1189.7" r="4.75"/><circle cx="1305.4" cy="1190.8" r="4.75"/><circle cx="1229.6" cy="1211.3" r="4.75"/><circle cx="1225.2" cy="1227.2" r="4.75"/><circle cx="1221.8" cy="1232.2" r="4.75"/><circle cx="1321.2" cy="1226.1" r="4.75"/><circle cx="1305.4" cy="1235.6" r="4.75"/><circle cx="1321.2" cy="1239.6" r="4.75"/><circle cx="1282.5" cy="1239" r="4.75"/><circle cx="1261.6" cy="1245" r="4.75"/><circle cx="1261.6" cy="1251.4" r="4.75"/><circle cx="1261.6" cy="1255.8" r="4.75"/><circle cx="1261.6" cy="1260.9" r="4.75"/><circle cx="1261.6" cy="1265.2" r="4.75"/><circle cx="1282.5" cy="1255.1" r="4.75"/><circle cx="1224.2" cy="1245" r="4.75"/><circle cx="1227.5" cy="1262.6" r="4.75"/><circle cx="1225.2" cy="1267.6" r="4.75"/><circle cx="1227.5" cy="1272.7" r="4.75"/><circle cx="1227.5" cy="1277.7" r="4.75"/><circle cx="1203.3" cy="1264.2" r="4.75"/><circle cx="1174.6" cy="1273.7" r="4.75"/><circle cx="1179.7" cy="1273.7" r="4.75"/><circle cx="1247.1" cy="1266.3" r="4.75"/><circle cx="1247.1" cy="1284.5" r="4.75"/><circle cx="1270.7" cy="1266.3" r="4.75"/><circle cx="1261.6" cy="1277.7" r="4.75"/><circle cx="1309.4" cy="1263.6" r="4.75"/><circle cx="1309.4" cy="1272.7" r="4.75"/><circle cx="1309.4" cy="1277.7" r="4.75"/><circle cx="1354.3" cy="1251.4" r="4.75"/><circle cx="1369.1" cy="1275.4" r="4.75"/><circle cx="1538" cy="1276.7" r="4.75"/><circle cx="1538" cy="1322.6" r="4.75"/><circle cx="1561.2" cy="1319.2" r="4.75"/><circle cx="1282.5" cy="1281.1" r="4.75"/><circle cx="1285.8" cy="1286.1" r="4.75"/><circle cx="1289.2" cy="1282.8" r="4.75"/><circle cx="1289.2" cy="1292.9" r="4.75"/><circle cx="1179.7" cy="1317.2" r="4.75"/><circle cx="1183" cy="1321.5" r="4.75"/><circle cx="1186.4" cy="1326.6" r="4.75"/><circle cx="1196.5" cy="1323.2" r="4.75"/><circle cx="1203.3" cy="1328.3" r="4.75"/><circle cx="1203.3" cy="1334.3" r="4.75"/><circle cx="1203.9" cy="1334.3" r="4.75"/><circle cx="1203.3" cy="1347.8" r="4.75"/><circle cx="1203.3" cy="1351.2" r="4.75"/><circle cx="1203.3" cy="1376.1" r="4.75"/><circle cx="1203.3" cy="1394" r="4.75"/><circle cx="1175.3" cy="1388.3" r="4.75"/><circle cx="1199.2" cy="1451.3" r="4.75"/><circle cx="1225.2" cy="1328.3" r="4.75"/><circle cx="1227.5" cy="1323.2" r="4.75"/><circle cx="1227.5" cy="1345.1" r="4.75"/><circle cx="1224.2" cy="1351.2" r="4.75"/><circle cx="1221.8" cy="1352.6" r="4.75"/><circle cx="1247.1" cy="1362" r="4.75"/><circle cx="1261.6" cy="1331.7" r="4.75"/><circle cx="1261.6" cy="1338.4" r="4.75"/><circle cx="1261.6" cy="1349.5" r="4.75"/><circle cx="1262.2" cy="1350.2" r="4.75"/><circle cx="1261.6" cy="1376.1" r="4.75"/><circle cx="1270.7" cy="1396.7" r="4.75"/><circle cx="1261.6" cy="1427" r="4.75"/><circle cx="1261.6" cy="1446.3" r="4.75"/><circle cx="1261.6" cy="1454.7" r="4.75"/><circle cx="1288.5" cy="1457.4" r="4.75"/><circle cx="1309.4" cy="1454.7" r="4.75"/><circle cx="1321.2" cy="1443.2" r="4.75"/><circle cx="1354.3" cy="1446.3" r="4.75"/><circle cx="1354.3" cy="1369.1" r="4.75"/><circle cx="1282.5" cy="1350.2" r="4.75"/><circle cx="1309.4" cy="1342.4" r="4.75"/><circle cx="1310.1" cy="1343.1" r="4.75"/><circle cx="1338.1" cy="1317.2" r="4.75"/><circle cx="1338.1" cy="1326.6" r="4.75"/><circle cx="1343.1" cy="1330" r="4.75"/><circle cx="1338.1" cy="1311.4" r="4.75"/><circle cx="1369.1" cy="1311.4" r="4.75"/><circle cx="1272.4" cy="1311.4" r="4.75"/><circle cx="1280.8" cy="1311.4" r="4.75"/><circle cx="1289.2" cy="1311.4" r="4.75"/><circle cx="1247.1" cy="1311.4" r="4.75"/><circle cx="1245.5" cy="1299.2" r="4.75"/><circle cx="1245.7" cy="1303.9" r="4.75"/><circle cx="1244.9" cy="1306" r="4.75"/><circle cx="1319.4" cy="1299.2" r="4.75"/><circle cx="1319.8" cy="1299.5" r="4.75"/><circle cx="1320.1" cy="1301" r="4.75"/><circle cx="1319.7" cy="1299.9" r="4.75"/><circle cx="1180.9" cy="1304.3" r="4.75"/><circle cx="1188" cy="1299.8" r="4.75"/><circle cx="1187.2" cy="1299.3" r="4.75"/><circle cx="1186.9" cy="1298.3" r="4.75"/><circle cx="1185.1" cy="1301.1" r="4.75"/><circle cx="1187.8" cy="1306.6" r="4.75"/><circle cx="1178.8" cy="1299.5" r="4.75"/><circle cx="1184" cy="1298.8" r="4.75"/><circle cx="1181.2" cy="1306.6" r="4.75"/><circle cx="1188.3" cy="1294.1" r="4.75"/><circle cx="1176.1" cy="1302.9" r="4.75"/><circle cx="1188.4" cy="1309" r="4.75"/><circle cx="1186.3" cy="1305.9" r="4.75"/><circle cx="1184.2" cy="1302.2" r="4.75"/><circle cx="1187.7" cy="1295.9" r="4.75"/><circle cx="1186.2" cy="1305.6" r="4.75"/><circle cx="1179.8" cy="1304.5" r="4.75"/><circle cx="1180" cy="1306.3" r="4.75"/><circle cx="1186.9" cy="1301.6" r="4.75"/><circle cx="1185.3" cy="1308.9" r="4.75"/><circle cx="1182.9" cy="1298.9" r="4.75"/><circle cx="1186.2" cy="1308.3" r="4.75"/><circle cx="1179.8" cy="1304.5" r="4.75"/><circle cx="1183.2" cy="1304.5" r="4.75"/><circle cx="1184.2" cy="1308.1" r="4.75"/><circle cx="1185.2" cy="1308.8" r="4.75"/><circle cx="1188.5" cy="1295.9" r="4.75"/><circle cx="1188.3" cy="1306.7" r="4.75"/><circle cx="1203.6" cy="1294.5" r="4.75"/><circle cx="1202.9" cy="1300.5" r="4.75"/><circle cx="1203.3" cy="1290.5" r="4.75"/><circle cx="1203" cy="1328.5" r="4.75"/><circle cx="1204" cy="1315.1" r="4.75"/><circle cx="1203.8" cy="1304.7" r="4.75"/><circle cx="1203.9" cy="1315.4" r="4.75"/><circle cx="1204.2" cy="1310.2" r="4.75"/><circle cx="1203.1" cy="1306.4" r="4.75"/><circle cx="1203.2" cy="1293.5" r="4.75"/><circle cx="1204.1" cy="1293.3" r="4.75"/><circle cx="1204" cy="1294" r="4.75"/><circle cx="1203.5" cy="1323.7" r="4.75"/><circle cx="1203.1" cy="1290.2" r="4.75"/><circle cx="1203.4" cy="1331.4" r="4.75"/><circle cx="1203" cy="1324.2" r="4.75"/><circle cx="1203.3" cy="1290" r="4.75"/><circle cx="1203.1" cy="1304.1" r="4.75"/><circle cx="1203.6" cy="1317.6" r="4.75"/><circle cx="1203.3" cy="1313.9" r="4.75"/><circle cx="1203.2" cy="1306.9" r="4.75"/><circle cx="1203.4" cy="1313.5" r="4.75"/><circle cx="1204.2" cy="1318.1" r="4.75"/><circle cx="1203.7" cy="1302.9" r="4.75"/><circle cx="1204" cy="1292.3" r="4.75"/><circle cx="1203.7" cy="1312.6" r="4.75"/><circle cx="1203" cy="1313.9" r="4.75"/><circle cx="1202.9" cy="1328.7" r="4.75"/><circle cx="1203.5" cy="1296.8" r="4.75"/><circle cx="1203.8" cy="1330.8" r="4.75"/><circle cx="1203.3" cy="1329.8" r="4.75"/><circle cx="1203.7" cy="1313.5" r="4.75"/><circle cx="1203" cy="1298.7" r="4.75"/><circle cx="1203" cy="1303.7" r="4.75"/><circle cx="1203.1" cy="1288.2" r="4.75"/><circle cx="1203.7" cy="1327.9" r="4.75"/><circle cx="1203.6" cy="1322.7" r="4.75"/><circle cx="1204.1" cy="1310.3" r="4.75"/><circle cx="1203.2" cy="1303.8" r="4.75"/><circle cx="1203" cy="1301.3" r="4.75"/><circle cx="1203.2" cy="1288.7" r="4.75"/><circle cx="1203.1" cy="1317.3" r="4.75"/><circle cx="1203.2" cy="1310" r="4.75"/><circle cx="1203.2" cy="1322.8" r="4.75"/><circle cx="1203.9" cy="1308.8" r="4.75"/><circle cx="1226.3" cy="1310.5" r="4.75"/><circle cx="1225.8" cy="1291.3" r="4.75"/><circle cx="1226.3" cy="1296.1" r="4.75"/><circle cx="1226.2" cy="1297.7" r="4.75"/><circle cx="1226.2" cy="1305" r="4.75"/><circle cx="1226.3" cy="1312.6" r="4.75"/><circle cx="1225.7" cy="1315.1" r="4.75"/><circle cx="1226.4" cy="1309.3" r="4.75"/><circle cx="1225.7" cy="1312.7" r="4.75"/><circle cx="1226.2" cy="1313.5" r="4.75"/><circle cx="1225.7" cy="1303" r="4.75"/><circle cx="1226.4" cy="1302.8" r="4.75"/><circle cx="1226.4" cy="1297.1" r="4.75"/><circle cx="1225.5" cy="1294.6" r="4.75"/><circle cx="1226.1" cy="1311" r="4.75"/><circle cx="1225.5" cy="1299.2" r="4.75"/><circle cx="1226.2" cy="1306.3" r="4.75"/><circle cx="1225.8" cy="1301.4" r="4.75"/><circle cx="1226.3" cy="1302.6" r="4.75"/><circle cx="1226" cy="1315.5" r="4.75"/><circle cx="1225.7" cy="1297.8" r="4.75"/><circle cx="1226" cy="1302.3" r="4.75"/><circle cx="1226" cy="1299.5" r="4.75"/><circle cx="1225.9" cy="1305.2" r="4.75"/><circle cx="1225.7" cy="1317.3" r="4.75"/><circle cx="1225.1" cy="1297.8" r="4.75"/><circle cx="1226.1" cy="1291.1" r="4.75"/><circle cx="1226" cy="1315.2" r="4.75"/><circle cx="1225.2" cy="1296.6" r="4.75"/><circle cx="1225.2" cy="1303.1" r="4.75"/><circle cx="1226" cy="1292.9" r="4.75"/><circle cx="1225.8" cy="1295.1" r="4.75"/><circle cx="1225.8" cy="1314" r="4.75"/><circle cx="1225.8" cy="1301.4" r="4.75"/><circle cx="1225.4" cy="1315.9" r="4.75"/><circle cx="1260.9" cy="1325" r="4.75"/><circle cx="1260.6" cy="1320.4" r="4.75"/><circle cx="1260.8" cy="1294.1" r="4.75"/><circle cx="1260.9" cy="1325" r="4.75"/><circle cx="1261" cy="1325.6" r="4.75"/><circle cx="1261.8" cy="1331.4" r="4.75"/><circle cx="1260.8" cy="1326.7" r="4.75"/><circle cx="1261.2" cy="1294.8" r="4.75"/><circle cx="1260.6" cy="1304.3" r="4.75"/><circle cx="1261.7" cy="1325.7" r="4.75"/><circle cx="1261.8" cy="1331.3" r="4.75"/><circle cx="1261.3" cy="1318.6" r="4.75"/><circle cx="1261.1" cy="1338" r="4.75"/><circle cx="1260.9" cy="1327.4" r="4.75"/><circle cx="1261.4" cy="1335.6" r="4.75"/><circle cx="1261.7" cy="1338.3" r="4.75"/><circle cx="1261.2" cy="1320.6" r="4.75"/><circle cx="1260.8" cy="1299.5" r="4.75"/><circle cx="1261.4" cy="1295.4" r="4.75"/><circle cx="1260.6" cy="1301.8" r="4.75"/><circle cx="1261.5" cy="1319.4" r="4.75"/><circle cx="1260.9" cy="1295.8" r="4.75"/><circle cx="1261.5" cy="1333.3" r="4.75"/><circle cx="1260.9" cy="1328.5" r="4.75"/><circle cx="1261.5" cy="1294.1" r="4.75"/><circle cx="1261.4" cy="1318.5" r="4.75"/><circle cx="1261.4" cy="1294.6" r="4.75"/><circle cx="1261.2" cy="1331" r="4.75"/><circle cx="1260.8" cy="1315.9" r="4.75"/><circle cx="1260.8" cy="1309.5" r="4.75"/><circle cx="1261.9" cy="1295.2" r="4.75"/><circle cx="1260.7" cy="1304.8" r="4.75"/><circle cx="1260.8" cy="1318.9" r="4.75"/><circle cx="1260.8" cy="1329.8" r="4.75"/><circle cx="1261" cy="1307.6" r="4.75"/><circle cx="1283.1" cy="1281.2" r="4.75"/><circle cx="1282.7" cy="1300.3" r="4.75"/><circle cx="1281.7" cy="1312.6" r="4.75"/><circle cx="1282.1" cy="1307.2" r="4.75"/><circle cx="1283.4" cy="1310.1" r="4.75"/><circle cx="1283.2" cy="1293.6" r="4.75"/><circle cx="1281.7" cy="1293.3" r="4.75"/><circle cx="1282.7" cy="1294.2" r="4.75"/><circle cx="1282.4" cy="1297.4" r="4.75"/><circle cx="1282.7" cy="1283.4" r="4.75"/><circle cx="1282.7" cy="1304.2" r="4.75"/><circle cx="1282.9" cy="1287.6" r="4.75"/><circle cx="1309.5" cy="1314" r="4.75"/><circle cx="1309.7" cy="1295.5" r="4.75"/><circle cx="1310.4" cy="1306.2" r="4.75"/><circle cx="1309.1" cy="1313.3" r="4.75"/><circle cx="1309.9" cy="1294.6" r="4.75"/><circle cx="1310" cy="1319.5" r="4.75"/><circle cx="1309.3" cy="1316.1" r="4.75"/><circle cx="1309.5" cy="1293.7" r="4.75"/><circle cx="1310.1" cy="1287.8" r="4.75"/><circle cx="1310" cy="1308" r="4.75"/><circle cx="1310" cy="1310.7" r="4.75"/><circle cx="1309.8" cy="1285.1" r="4.75"/><circle cx="1309.4" cy="1304.7" r="4.75"/><circle cx="1310.2" cy="1293.1" r="4.75"/><circle cx="1309.1" cy="1286.9" r="4.75"/><circle cx="1310.3" cy="1317.5" r="4.75"/><circle cx="1309.6" cy="1299.4" r="4.75"/><circle cx="1309.9" cy="1314.9" r="4.75"/><circle cx="1309.6" cy="1300.5" r="4.75"/><circle cx="1309.7" cy="1307.6" r="4.75"/><circle cx="1310.4" cy="1293.8" r="4.75"/><circle cx="1309.6" cy="1304.5" r="4.75"/><circle cx="1309.4" cy="1311" r="4.75"/><circle cx="1309.7" cy="1292.6" r="4.75"/><circle cx="1309.7" cy="1285.1" r="4.75"/><circle cx="1310.1" cy="1287" r="4.75"/><circle cx="1310.2" cy="1306.2" r="4.75"/><circle cx="1309.3" cy="1289.6" r="4.75"/><circle cx="1309.9" cy="1306.5" r="4.75"/><circle cx="1309.2" cy="1295.9" r="4.75"/><circle cx="1310.4" cy="1302.6" r="4.75"/><circle cx="1309.2" cy="1312.8" r="4.75"/><circle cx="1310.1" cy="1309.5" r="4.75"/><circle cx="1309.2" cy="1294.6" r="4.75"/><circle cx="1309.1" cy="1313.2" r="4.75"/><circle cx="1309.1" cy="1305.3" r="4.75"/><circle cx="1309.5" cy="1317.2" r="4.75"/><circle cx="1310" cy="1305.6" r="4.75"/><circle cx="1310" cy="1306.4" r="4.75"/><circle cx="1309.2" cy="1289.3" r="4.75"/><circle cx="1309.2" cy="1311.6" r="4.75"/><circle cx="1309.8" cy="1288.6" r="4.75"/><circle cx="1309.2" cy="1313.3" r="4.75"/><circle cx="1309.1" cy="1295.7" r="4.75"/><circle cx="1309.3" cy="1314" r="4.75"/><circle cx="1337.7" cy="1301.9" r="4.75"/><circle cx="1339" cy="1293.6" r="4.75"/><circle cx="1337.1" cy="1295.3" r="4.75"/><circle cx="1337.2" cy="1306.2" r="4.75"/><circle cx="1337.8" cy="1298.8" r="4.75"/><circle cx="1338.9" cy="1299.8" r="4.75"/><circle cx="1338.4" cy="1311.7" r="4.75"/><circle cx="1338.4" cy="1304.4" r="4.75"/><circle cx="1337.8" cy="1312.2" r="4.75"/><circle cx="1338.5" cy="1300.9" r="4.75"/><circle cx="1337.8" cy="1300.9" r="4.75"/><circle cx="1338.3" cy="1307.6" r="4.75"/><circle cx="1368.2" cy="1297.8" r="4.75"/><circle cx="1368.4" cy="1298.6" r="4.75"/><circle cx="1368.6" cy="1310.5" r="4.75"/><circle cx="1367.8" cy="1305.1" r="4.75"/><circle cx="1369" cy="1301.4" r="4.75"/><circle cx="1368.9" cy="1306.4" r="4.75"/><circle cx="1537.8" cy="1301" r="4.75"/><circle cx="1538" cy="1299.6" r="4.75"/><circle cx="1538.1" cy="1302.6" r="4.75"/><circle cx="1538.4" cy="1302.1" r="4.75"/><circle cx="1538.2" cy="1305.3" r="4.75"/><circle cx="1538.5" cy="1299.4" r="4.75"/><circle cx="1538" cy="1304" r="4.75"/><circle cx="1538.4" cy="1306.2" r="4.75"/><circle cx="1561.9" cy="1301.6" r="4.75"/><circle cx="1561.7" cy="1305" r="4.75"/><circle cx="1561.6" cy="1300.6" r="4.75"/><circle cx="1562.1" cy="1300.9" r="4.75"/><circle cx="1561.7" cy="1305.6" r="4.75"/><circle cx="1561.7" cy="1308.2" r="4.75"/><circle cx="1561.8" cy="1306.3" r="4.75"/><circle cx="1562.1" cy="1299.7" r="4.75"/></g>
<line class="ln" x1="1180" y1="1302.4" x2="1547" y2="1302.4" stroke-dasharray="30.5 33.1"/>
<path class="ax" d="M1155.4 1079 V1520.4 H1580.8"/>
<line class="tkm" x1="1148.8" y1="1110.9" x2="1155.4" y2="1110.9"/>
<text class="tk" text-anchor="end" x="1141.9" y="1119.2">20</text>
<line class="tkm" x1="1148.8" y1="1206.6" x2="1155.4" y2="1206.6"/>
<text class="tk" text-anchor="end" x="1141.9" y="1214.9">10</text>
<line class="tkm" x1="1148.8" y1="1302.4" x2="1155.4" y2="1302.4"/>
<text class="tk" text-anchor="end" x="1141.9" y="1310.7">0</text>
<line class="tkm" x1="1148.8" y1="1398.2" x2="1155.4" y2="1398.2"/>
<text class="tk" text-anchor="end" x="1141.9" y="1406.5">−10</text>
<line class="tkm" x1="1148.8" y1="1493.9" x2="1155.4" y2="1493.9"/>
<text class="tk" text-anchor="end" x="1141.9" y="1502.2">−20</text>
<line class="tkm" x1="1228.5" y1="1520.4" x2="1228.5" y2="1527"/>
<text class="tk" text-anchor="middle" x="1228.5" y="1548.9">500</text>
<line class="tkm" x1="1317.9" y1="1520.4" x2="1317.9" y2="1527"/>
<text class="tk" text-anchor="middle" x="1317.9" y="1548.9">1000</text>
<line class="tkm" x1="1407.2" y1="1520.4" x2="1407.2" y2="1527"/>
<text class="tk" text-anchor="middle" x="1407.2" y="1548.9">1500</text>
<line class="tkm" x1="1496.5" y1="1520.4" x2="1496.5" y2="1527"/>
<text class="tk" text-anchor="middle" x="1496.5" y="1548.9">2000</text>
<text class="tt" text-anchor="middle" x="1368.1" y="1580.3">Mean Annual Precipitation (mm)</text>
<text class="tt" text-anchor="middle" transform="translate(1092.4 1299.7) rotate(-90)">Cover Change (%)</text>
</g>
</svg></body></html>
